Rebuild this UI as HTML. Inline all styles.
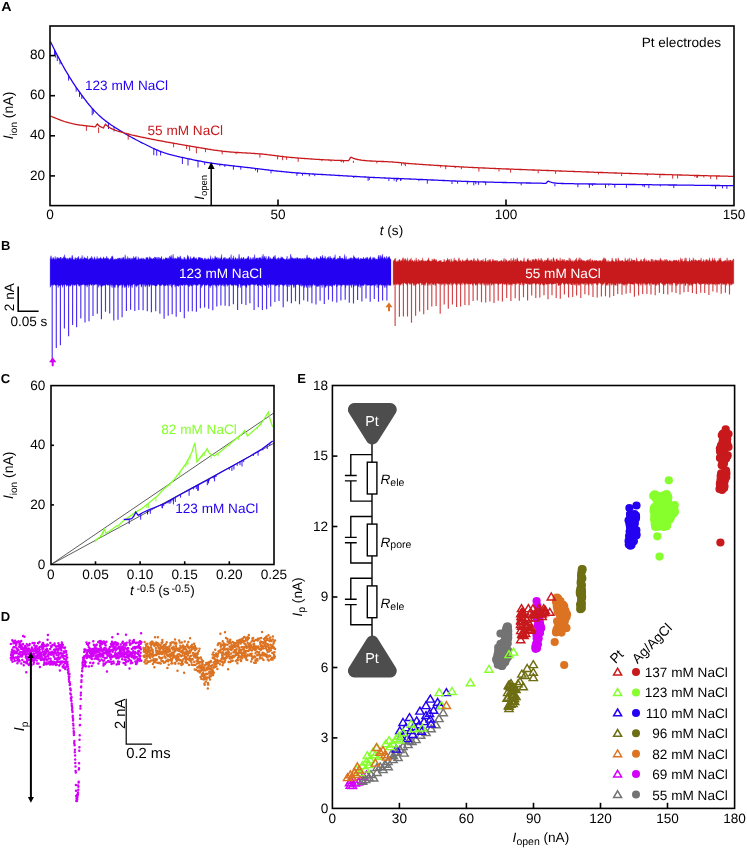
<!DOCTYPE html>
<html><head><meta charset="utf-8"><style>
html,body{margin:0;padding:0;background:#fff;}
svg{display:block;}
text{font-family:"Liberation Sans", sans-serif;text-rendering:geometricPrecision;}
</style></head><body>
<svg width="747" height="849" viewBox="0 0 747 849">
<g opacity="0.999">
<text x="1.3" y="10.6" font-size="13" text-anchor="start" fill="#000" font-weight="bold" textLength="10.3" lengthAdjust="spacingAndGlyphs">A</text>
<polyline points="50.5,41.7 51.5,43.8 52.5,45.8 53.5,47.8 54.5,49.8 55.5,51.8 56.5,53.7 57.5,55.6 58.5,57.5 59.5,59.4 60.5,61.3 61.5,63.1 62.5,65 63.5,66.8 64.5,68.6 65.5,70.3 66.5,72 67.5,73.7 68.5,75.4 69.5,77.1 70.5,78.7 71.5,80.2 72.5,81.8 73.5,83.3 74.5,84.8 75.5,86.3 76.5,87.8 77.5,89.2 78.5,90.6 79.5,92 80.5,93.4 81.5,94.8 82.5,96.2 83.5,97.5 84.5,98.9 85.5,100.2 86.5,101.5 87.5,102.8 88.5,104 89.5,105.3 90.5,106.4 91.5,107.6 92.5,108.7 93.5,109.8 94.5,110.9 95.5,111.9 96.5,112.9 97.5,113.9 98.5,114.9 99.5,115.8 100.5,116.7 101.5,117.6 102.5,118.5 103.5,119.3 104.5,120.1 105.5,120.9 106.5,121.6 107.5,122.4 108.5,123.1 109.5,123.8 110.5,124.5 111.5,125.2 112.5,125.8 113.5,126.5 114.5,127.1 115.5,127.8 116.5,128.4 117.5,129 118.5,129.6 119.5,130.2 120.5,130.9 121.5,131.5 122.5,132.1 123.5,132.7 124.5,133.3 125.5,133.8 126.5,134.4 127.5,135 128.5,135.6 129.5,136.2 130.5,136.7 131.5,137.3 132.5,137.8 133.5,138.4 134.5,138.9 135.5,139.5 136.5,140 137.5,140.5 138.5,141 139.5,141.5 140.5,142.1 141.5,142.6 142.5,143.1 143.5,143.5 144.5,144 145.5,144.5 146.5,145 147.5,145.5 148.5,146 149.5,146.5 150.5,147 151.5,147.5 152.5,148 153.5,148.4 154.5,148.9 155.5,149.4 156.5,149.8 157.5,150.2 158.5,150.6 159.5,151.1 160.5,151.4 161.5,151.8 162.5,152.2 163.5,152.5 164.5,152.9 165.5,153.2 166.5,153.5 167.5,153.8 168.5,154.1 169.5,154.4 170.5,154.6 171.5,154.9 172.5,155.2 173.5,155.4 174.5,155.7 175.5,155.9 176.5,156.1 177.5,156.4 178.5,156.6 179.5,156.8 180.5,157.1 181.5,157.3 182.5,157.5 183.5,157.7 184.5,157.9 185.5,158.2 186.5,158.4 187.5,158.6 188.5,158.8 189.5,159 190.5,159.2 191.5,159.4 192.5,159.7 193.5,159.9 194.5,160.1 195.5,160.3 196.5,160.5 197.5,160.7 198.5,160.9 199.5,161 200.5,161.2 201.5,161.4 202.5,161.6 203.5,161.8 204.5,162 205.5,162.1 206.5,162.3 207.5,162.5 208.5,162.6 209.5,162.8 210.5,163 211.5,163.1 212.5,163.3 213.5,163.4 214.5,163.6 215.5,163.7 216.5,163.8 217.5,164 218.5,164.1 219.5,164.2 220.5,164.4 221.5,164.5 222.5,164.6 223.5,164.8 224.5,164.9 225.5,165 226.5,165.1 227.5,165.2 228.5,165.4 229.5,165.5 230.5,165.6 231.5,165.7 232.5,165.8 233.5,165.9 234.5,166 235.5,166.2 236.5,166.3 237.5,166.4 238.5,166.5 239.5,166.6 240.5,166.7 241.5,166.8 242.5,166.9 243.5,167.1 244.5,167.2 245.5,167.3 246.5,167.4 247.5,167.5 248.5,167.6 249.5,167.7 250.5,167.9 251.5,168 252.5,168.1 253.5,168.2 254.5,168.3 255.5,168.5 256.5,168.6 257.5,168.7 258.5,168.8 259.5,168.9 260.5,169.1 261.5,169.2 262.5,169.3 263.5,169.4 264.5,169.6 265.5,169.7 266.5,169.8 267.5,169.9 268.5,170 269.5,170.2 270.5,170.3 271.5,170.4 272.5,170.5 273.5,170.6 274.5,170.8 275.5,170.9 276.5,171 277.5,171.1 278.5,171.2 279.5,171.3 280.5,171.4 281.5,171.5 282.5,171.6 283.5,171.7 284.5,171.8 285.5,171.9 286.5,172 287.5,172.1 288.5,172.2 289.5,172.3 290.5,172.4 291.5,172.5 292.5,172.6 293.5,172.7 294.5,172.7 295.5,172.8 296.5,172.9 297.5,173 298.5,173 299.5,173.1 300.5,173.2 301.5,173.3 302.5,173.3 303.5,173.4 304.5,173.5 305.5,173.5 306.5,173.6 307.5,173.6 308.5,173.7 309.5,173.8 310.5,173.8 311.5,173.9 312.5,174 313.5,174 314.5,174.1 315.5,174.1 316.5,174.2 317.5,174.3 318.5,174.3 319.5,174.4 320.5,174.4 321.5,174.5 322.5,174.5 323.5,174.6 324.5,174.7 325.5,174.7 326.5,174.8 327.5,174.8 328.5,174.9 329.5,174.9 330.5,175 331.5,175.1 332.5,175.1 333.5,175.2 334.5,175.2 335.5,175.3 336.5,175.3 337.5,175.4 338.5,175.5 339.5,175.5 340.5,175.6 341.5,175.6 342.5,175.7 343.5,175.8 344.5,175.8 345.5,175.9 346.5,175.9 347.5,176 348.5,176.1 349.5,176.1 350.5,176.2 351.5,176.2 352.5,176.3 353.5,176.4 354.5,176.4 355.5,176.5 356.5,176.5 357.5,176.6 358.5,176.6 359.5,176.7 360.5,176.8 361.5,176.8 362.5,176.9 363.5,176.9 364.5,177 365.5,177 366.5,177.1 367.5,177.1 368.5,177.2 369.5,177.3 370.5,177.3 371.5,177.4 372.5,177.4 373.5,177.5 374.5,177.5 375.5,177.6 376.5,177.6 377.5,177.7 378.5,177.7 379.5,177.7 380.5,177.8 381.5,177.8 382.5,177.9 383.5,177.9 384.5,178 385.5,178 386.5,178.1 387.5,178.1 388.5,178.1 389.5,178.2 390.5,178.2 391.5,178.3 392.5,178.3 393.5,178.3 394.5,178.4 395.5,178.4 396.5,178.5 397.5,178.5 398.5,178.5 399.5,178.6 400.5,178.6 401.5,178.7 402.5,178.7 403.5,178.7 404.5,178.8 405.5,178.8 406.5,178.9 407.5,178.9 408.5,178.9 409.5,179 410.5,179 411.5,179.1 412.5,179.1 413.5,179.1 414.5,179.2 415.5,179.2 416.5,179.3 417.5,179.3 418.5,179.4 419.5,179.4 420.5,179.5 421.5,179.5 422.5,179.5 423.5,179.6 424.5,179.6 425.5,179.7 426.5,179.7 427.5,179.8 428.5,179.8 429.5,179.9 430.5,179.9 431.5,180 432.5,180 433.5,180 434.5,180.1 435.5,180.1 436.5,180.2 437.5,180.2 438.5,180.3 439.5,180.3 440.5,180.4 441.5,180.4 442.5,180.5 443.5,180.5 444.5,180.5 445.5,180.6 446.5,180.6 447.5,180.7 448.5,180.7 449.5,180.8 450.5,180.8 451.5,180.8 452.5,180.9 453.5,180.9 454.5,181 455.5,181 456.5,181.1 457.5,181.1 458.5,181.1 459.5,181.2 460.5,181.2 461.5,181.3 462.5,181.3 463.5,181.3 464.5,181.4 465.5,181.4 466.5,181.4 467.5,181.5 468.5,181.5 469.5,181.6 470.5,181.6 471.5,181.6 472.5,181.7 473.5,181.7 474.5,181.7 475.5,181.7 476.5,181.8 477.5,181.8 478.5,181.8 479.5,181.9 480.5,181.9 481.5,181.9 482.5,181.9 483.5,182 484.5,182 485.5,182 486.5,182.1 487.5,182.1 488.5,182.1 489.5,182.1 490.5,182.2 491.5,182.2 492.5,182.2 493.5,182.2 494.5,182.3 495.5,182.3 496.5,182.3 497.5,182.3 498.5,182.4 499.5,182.4 500.5,182.4 501.5,182.4 502.5,182.5 503.5,182.5 504.5,182.5 505.5,182.5 506.5,182.5 507.5,182.6 508.5,182.6 509.5,182.6 510.5,182.6 511.5,182.7 512.5,182.7 513.5,182.7 514.5,182.7 515.5,182.7 516.5,182.8 517.5,182.8 518.5,182.8 519.5,182.8 520.5,182.8 521.5,182.9 522.5,182.9 523.5,182.9 524.5,182.9 525.5,182.9 526.5,183 527.5,183 528.5,183 529.5,183 530.5,183 531.5,183.1 532.5,183.1 533.5,183.1 534.5,183.1 535.5,183.1 536.5,183.2 537.5,183.2 538.5,183.2 539.5,183.2 540.5,183.2 541.5,183.2 542.5,183.3 543.5,183.3 544.5,183.3 545.5,183.3 546.5,182.9 547.5,181.5 548.5,181.1 549.5,181.6 550.5,182 551.5,182.3 552.5,182.6 553.5,182.8 554.5,182.9 555.5,183.1 556.5,183.2 557.5,183.3 558.5,183.3 559.5,183.4 560.5,183.4 561.5,183.5 562.5,183.5 563.5,183.5 564.5,183.6 565.5,183.6 566.5,183.6 567.5,183.6 568.5,183.7 569.5,183.7 570.5,183.7 571.5,183.7 572.5,183.7 573.5,183.7 574.5,183.8 575.5,183.8 576.5,183.8 577.5,183.8 578.5,183.8 579.5,183.8 580.5,183.8 581.5,183.9 582.5,183.9 583.5,183.9 584.5,183.9 585.5,183.9 586.5,183.9 587.5,183.9 588.5,184 589.5,184 590.5,184 591.5,184 592.5,184 593.5,184 594.5,184 595.5,184 596.5,184.1 597.5,184.1 598.5,184.1 599.5,184.1 600.5,184.1 601.5,184.1 602.5,184.1 603.5,184.1 604.5,184.2 605.5,184.2 606.5,184.2 607.5,184.2 608.5,184.2 609.5,184.2 610.5,184.2 611.5,184.2 612.5,184.3 613.5,184.3 614.5,184.3 615.5,184.3 616.5,184.3 617.5,184.3 618.5,184.3 619.5,184.3 620.5,184.4 621.5,184.4 622.5,184.4 623.5,184.4 624.5,184.4 625.5,184.4 626.5,184.4 627.5,184.4 628.5,184.5 629.5,184.5 630.5,184.5 631.5,184.5 632.5,184.5 633.5,184.5 634.5,184.5 635.5,184.5 636.5,184.6 637.5,184.6 638.5,184.6 639.5,184.6 640.5,184.6 641.5,184.6 642.5,184.6 643.5,184.6 644.5,184.7 645.5,184.7 646.5,184.7 647.5,184.7 648.5,184.7 649.5,184.7 650.5,184.7 651.5,184.7 652.5,184.8 653.5,184.8 654.5,184.8 655.5,184.8 656.5,184.8 657.5,184.8 658.5,184.8 659.5,184.8 660.5,184.9 661.5,184.9 662.5,184.9 663.5,184.9 664.5,184.9 665.5,184.9 666.5,184.9 667.5,184.9 668.5,185 669.5,185 670.5,185 671.5,185 672.5,185 673.5,185 674.5,185 675.5,185 676.5,185 677.5,185.1 678.5,185.1 679.5,185.1 680.5,185.1 681.5,185.1 682.5,185.1 683.5,185.1 684.5,185.1 685.5,185.2 686.5,185.2 687.5,185.2 688.5,185.2 689.5,185.2 690.5,185.2 691.5,185.2 692.5,185.2 693.5,185.2 694.5,185.3 695.5,185.3 696.5,185.3 697.5,185.3 698.5,185.3 699.5,185.3 700.5,185.3 701.5,185.3 702.5,185.4 703.5,185.4 704.5,185.4 705.5,185.4 706.5,185.4 707.5,185.4 708.5,185.4 709.5,185.4 710.5,185.4 711.5,185.5 712.5,185.5 713.5,185.5 714.5,185.5 715.5,185.5 716.5,185.5 717.5,185.5 718.5,185.5 719.5,185.5 720.5,185.6 721.5,185.6 722.5,185.6 723.5,185.6 724.5,185.6 725.5,185.6 726.5,185.6 727.5,185.6 728.5,185.6 729.5,185.7 730.5,185.7 731.5,185.7 732.5,185.7 733.5,185.7" fill="none" stroke="#2400f0" stroke-width="1.3"/>
<path d="M54.5,49.9v5.6M55.6,51.9v5.7M57.3,55.3v5.9M60,60.3v4M68.6,75.6v5M76.2,87.3v4.3M79.5,92v4.9M81.8,95.2v3.8M92.2,108.4v6.9M93.3,109.6v4.3M108.5,123.1v5.9M114,126.8v4.6M153.8,148.6v6.6M156.7,149.9v5.8M160.6,151.5v4M182.4,157.5v6.5M188,158.7v6.8M198,160.8v6.7M204.7,162v2.9M219.8,164.3v1.9M224.8,164.9v2M233.4,165.9v3.8M240.8,166.8v2.9M255.5,168.5v2M257.5,168.7v3.7M271,170.3v3.1M296.9,172.9v2.9M302.5,173.3v2.4M309.3,173.8v2.5M314.8,174.1v2.1M353.8,176.4v1.6M368.1,177.2v3.7M369.3,177.2v2.7M388.9,178.2v2.9M394.1,178.4v2.3M396.3,178.5v3.4M397.6,178.5v1.6M400.6,178.6v2.4M401.1,178.6v1.6M418.9,179.4v1.8M427.3,179.8v3.9M452,180.9v3.1M457.6,181.1v2.6M467.3,181.5v2.8M473.8,181.7v3.7M475.8,181.8v2.4M478.6,181.8v3M485.7,182v3.2M521.2,182.9v2.4M554.9,183.5v2.8M577.9,183.8v3.4M589.4,184v3.8M592.4,184v1.9M605.5,184.2v3.8M608.8,184.2v1.5M614.8,184.3v3.4M626.4,184.4v3.5M642.8,184.6v1.8M644.3,184.7v2.5M648.9,184.7v3.5M660.3,184.9v1.5M673.8,185v3.1M715.6,185.5v3.5M722.5,185.6v2.8M726.9,185.6v3.3" stroke="#2400f0" stroke-width="0.9" fill="none"/>
<polyline points="50.5,116 51.5,116.5 52.5,116.9 53.5,117.3 54.5,117.7 55.5,118.1 56.5,118.5 57.5,118.9 58.5,119.3 59.5,119.7 60.5,120.1 61.5,120.4 62.5,120.8 63.5,121.1 64.5,121.5 65.5,121.8 66.5,122.1 67.5,122.4 68.5,122.7 69.5,122.9 70.5,123.2 71.5,123.4 72.5,123.7 73.5,123.9 74.5,124.1 75.5,124.3 76.5,124.5 77.5,124.6 78.5,124.8 79.5,125 80.5,125.1 81.5,125.2 82.5,125.4 83.5,125.5 84.5,125.6 85.5,125.7 86.5,125.9 87.5,126 88.5,126.1 89.5,126.2 90.5,126.3 91.5,126.4 92.5,126.5 93.5,126.7 94.5,126.8 95.5,126.7 96.5,124.9 97.5,124 98.5,125.2 99.5,126.1 100.5,126.7 101.5,127.2 102.5,127.6 103.5,127.9 104.5,125.8 105.5,124.3 106.5,125.3 107.5,126.1 108.5,126.9 109.5,127.5 110.5,128.1 111.5,128.6 112.5,129.1 113.5,129.5 114.5,129.9 115.5,130.3 116.5,130.6 117.5,131 118.5,131.3 119.5,131.6 120.5,131.9 121.5,132.2 122.5,132.4 123.5,132.7 124.5,133 125.5,133.3 126.5,133.5 127.5,133.8 128.5,134 129.5,134.3 130.5,134.6 131.5,134.8 132.5,135.1 133.5,135.3 134.5,135.5 135.5,135.8 136.5,136 137.5,136.2 138.5,136.5 139.5,136.7 140.5,136.9 141.5,137.1 142.5,137.3 143.5,137.5 144.5,137.7 145.5,137.9 146.5,138.1 147.5,138.3 148.5,138.5 149.5,138.7 150.5,138.9 151.5,139.1 152.5,139.3 153.5,139.5 154.5,139.7 155.5,139.9 156.5,140.1 157.5,140.3 158.5,140.5 159.5,140.7 160.5,140.9 161.5,141 162.5,141.2 163.5,141.4 164.5,141.6 165.5,141.8 166.5,142 167.5,142.1 168.5,142.3 169.5,142.5 170.5,142.7 171.5,142.9 172.5,143 173.5,143.2 174.5,143.4 175.5,143.6 176.5,143.7 177.5,143.9 178.5,144.1 179.5,144.3 180.5,144.4 181.5,144.6 182.5,144.8 183.5,144.9 184.5,145.1 185.5,145.3 186.5,145.4 187.5,145.6 188.5,145.8 189.5,145.9 190.5,146.1 191.5,146.3 192.5,146.5 193.5,146.6 194.5,146.8 195.5,147 196.5,147.2 197.5,147.3 198.5,147.5 199.5,147.7 200.5,147.8 201.5,148 202.5,148.2 203.5,148.4 204.5,148.5 205.5,148.7 206.5,148.9 207.5,149 208.5,149.2 209.5,149.3 210.5,149.5 211.5,149.7 212.5,149.8 213.5,150 214.5,150.1 215.5,150.3 216.5,150.4 217.5,150.5 218.5,150.7 219.5,150.8 220.5,150.9 221.5,151 222.5,151.2 223.5,151.3 224.5,151.4 225.5,151.5 226.5,151.6 227.5,151.7 228.5,151.8 229.5,151.9 230.5,152 231.5,152.1 232.5,152.1 233.5,152.2 234.5,152.3 235.5,152.3 236.5,152.4 237.5,152.5 238.5,152.5 239.5,152.6 240.5,152.7 241.5,152.7 242.5,152.8 243.5,152.8 244.5,152.9 245.5,152.9 246.5,153 247.5,153.1 248.5,153.1 249.5,153.2 250.5,153.2 251.5,153.3 252.5,153.4 253.5,153.4 254.5,153.5 255.5,153.6 256.5,153.6 257.5,153.7 258.5,153.8 259.5,153.9 260.5,153.9 261.5,154 262.5,154.1 263.5,154.2 264.5,154.3 265.5,154.4 266.5,154.5 267.5,154.7 268.5,154.8 269.5,154.9 270.5,155 271.5,155.1 272.5,155.3 273.5,155.4 274.5,155.5 275.5,155.6 276.5,155.8 277.5,155.9 278.5,156 279.5,156.2 280.5,156.3 281.5,156.4 282.5,156.5 283.5,156.6 284.5,156.8 285.5,156.9 286.5,157 287.5,157.1 288.5,157.2 289.5,157.3 290.5,157.4 291.5,157.5 292.5,157.6 293.5,157.7 294.5,157.7 295.5,157.8 296.5,157.9 297.5,158 298.5,158.1 299.5,158.1 300.5,158.2 301.5,158.3 302.5,158.4 303.5,158.4 304.5,158.5 305.5,158.6 306.5,158.7 307.5,158.7 308.5,158.8 309.5,158.9 310.5,158.9 311.5,159 312.5,159.1 313.5,159.1 314.5,159.2 315.5,159.3 316.5,159.3 317.5,159.4 318.5,159.4 319.5,159.5 320.5,159.6 321.5,159.6 322.5,159.7 323.5,159.7 324.5,159.8 325.5,159.8 326.5,159.9 327.5,159.9 328.5,160 329.5,160 330.5,160.1 331.5,160.1 332.5,160.2 333.5,160.2 334.5,160.3 335.5,160.3 336.5,160.3 337.5,160.4 338.5,160.4 339.5,160.4 340.5,160.5 341.5,160.5 342.5,160.5 343.5,160.6 344.5,160.6 345.5,160.6 346.5,160.7 347.5,160.7 348.5,160.7 349.5,159.5 350.5,157.4 351.5,157.4 352.5,157.9 353.5,158.3 354.5,158.6 355.5,159 356.5,159.2 357.5,159.5 358.5,159.7 359.5,159.9 360.5,160 361.5,160.2 362.5,160.3 363.5,160.4 364.5,160.5 365.5,160.6 366.5,160.7 367.5,160.8 368.5,160.8 369.5,160.9 370.5,161 371.5,161 372.5,161.1 373.5,161.1 374.5,161.2 375.5,161.2 376.5,161.3 377.5,161.3 378.5,161.3 379.5,161.4 380.5,161.4 381.5,161.5 382.5,161.5 383.5,161.5 384.5,161.6 385.5,161.6 386.5,161.7 387.5,161.7 388.5,161.8 389.5,161.8 390.5,161.9 391.5,161.9 392.5,162 393.5,162.1 394.5,162.2 395.5,162.3 396.5,162.3 397.5,162.4 398.5,162.5 399.5,162.6 400.5,162.7 401.5,162.8 402.5,162.9 403.5,163 404.5,163.1 405.5,163.2 406.5,163.3 407.5,163.4 408.5,163.5 409.5,163.6 410.5,163.6 411.5,163.7 412.5,163.8 413.5,163.9 414.5,163.9 415.5,164 416.5,164.1 417.5,164.1 418.5,164.2 419.5,164.3 420.5,164.3 421.5,164.4 422.5,164.5 423.5,164.6 424.5,164.6 425.5,164.7 426.5,164.8 427.5,164.8 428.5,164.9 429.5,165 430.5,165 431.5,165.1 432.5,165.2 433.5,165.2 434.5,165.3 435.5,165.3 436.5,165.4 437.5,165.5 438.5,165.5 439.5,165.6 440.5,165.7 441.5,165.7 442.5,165.8 443.5,165.9 444.5,165.9 445.5,166 446.5,166 447.5,166.1 448.5,166.2 449.5,166.2 450.5,166.3 451.5,166.3 452.5,166.4 453.5,166.4 454.5,166.5 455.5,166.6 456.5,166.6 457.5,166.7 458.5,166.7 459.5,166.8 460.5,166.8 461.5,166.9 462.5,166.9 463.5,167 464.5,167.1 465.5,167.1 466.5,167.2 467.5,167.2 468.5,167.3 469.5,167.3 470.5,167.4 471.5,167.4 472.5,167.5 473.5,167.5 474.5,167.6 475.5,167.6 476.5,167.7 477.5,167.7 478.5,167.8 479.5,167.8 480.5,167.9 481.5,167.9 482.5,167.9 483.5,168 484.5,168 485.5,168.1 486.5,168.1 487.5,168.2 488.5,168.2 489.5,168.3 490.5,168.3 491.5,168.3 492.5,168.4 493.5,168.4 494.5,168.5 495.5,168.5 496.5,168.6 497.5,168.6 498.5,168.6 499.5,168.7 500.5,168.7 501.5,168.8 502.5,168.8 503.5,168.8 504.5,168.9 505.5,168.9 506.5,169 507.5,169 508.5,169 509.5,169.1 510.5,169.1 511.5,169.2 512.5,169.2 513.5,169.2 514.5,169.3 515.5,169.3 516.5,169.4 517.5,169.4 518.5,169.4 519.5,169.5 520.5,169.5 521.5,169.5 522.5,169.6 523.5,169.6 524.5,169.7 525.5,169.7 526.5,169.7 527.5,169.8 528.5,169.8 529.5,169.8 530.5,169.9 531.5,169.9 532.5,170 533.5,170 534.5,170 535.5,170.1 536.5,170.1 537.5,170.1 538.5,170.2 539.5,170.2 540.5,170.2 541.5,170.3 542.5,170.3 543.5,170.4 544.5,170.4 545.5,170.4 546.5,170.5 547.5,170.5 548.5,170.5 549.5,170.6 550.5,170.6 551.5,170.7 552.5,170.7 553.5,170.7 554.5,170.8 555.5,170.8 556.5,170.8 557.5,170.9 558.5,170.9 559.5,171 560.5,171 561.5,171 562.5,171.1 563.5,171.1 564.5,171.1 565.5,171.2 566.5,171.2 567.5,171.3 568.5,171.3 569.5,171.3 570.5,171.4 571.5,171.4 572.5,171.4 573.5,171.5 574.5,171.5 575.5,171.6 576.5,171.6 577.5,171.6 578.5,171.7 579.5,171.7 580.5,171.7 581.5,171.8 582.5,171.8 583.5,171.9 584.5,171.9 585.5,171.9 586.5,172 587.5,172 588.5,172 589.5,172.1 590.5,172.1 591.5,172.1 592.5,172.2 593.5,172.2 594.5,172.3 595.5,172.3 596.5,172.3 597.5,172.4 598.5,172.4 599.5,172.4 600.5,172.5 601.5,172.5 602.5,172.5 603.5,172.6 604.5,172.6 605.5,172.6 606.5,172.7 607.5,172.7 608.5,172.8 609.5,172.8 610.5,172.8 611.5,172.9 612.5,172.9 613.5,172.9 614.5,173 615.5,173 616.5,173 617.5,173.1 618.5,173.1 619.5,173.1 620.5,173.2 621.5,173.2 622.5,173.2 623.5,173.3 624.5,173.3 625.5,173.3 626.5,173.4 627.5,173.4 628.5,173.4 629.5,173.5 630.5,173.5 631.5,173.5 632.5,173.6 633.5,173.6 634.5,173.6 635.5,173.7 636.5,173.7 637.5,173.7 638.5,173.8 639.5,173.8 640.5,173.8 641.5,173.8 642.5,173.9 643.5,173.9 644.5,173.9 645.5,174 646.5,174 647.5,174 648.5,174.1 649.5,174.1 650.5,174.1 651.5,174.2 652.5,174.2 653.5,174.2 654.5,174.2 655.5,174.3 656.5,174.3 657.5,174.3 658.5,174.4 659.5,174.4 660.5,174.4 661.5,174.5 662.5,174.5 663.5,174.5 664.5,174.5 665.5,174.6 666.5,174.6 667.5,174.6 668.5,174.7 669.5,174.7 670.5,174.7 671.5,174.7 672.5,174.8 673.5,174.8 674.5,174.8 675.5,174.9 676.5,174.9 677.5,174.9 678.5,174.9 679.5,175 680.5,175 681.5,175 682.5,175.1 683.5,175.1 684.5,175.1 685.5,175.1 686.5,175.2 687.5,175.2 688.5,175.2 689.5,175.3 690.5,175.3 691.5,175.3 692.5,175.3 693.5,175.4 694.5,175.4 695.5,175.4 696.5,175.4 697.5,175.5 698.5,175.5 699.5,175.5 700.5,175.6 701.5,175.6 702.5,175.6 703.5,175.6 704.5,175.7 705.5,175.7 706.5,175.7 707.5,175.7 708.5,175.8 709.5,175.8 710.5,175.8 711.5,175.8 712.5,175.9 713.5,175.9 714.5,175.9 715.5,175.9 716.5,176 717.5,176 718.5,176 719.5,176 720.5,176.1 721.5,176.1 722.5,176.1 723.5,176.1 724.5,176.2 725.5,176.2 726.5,176.2 727.5,176.2 728.5,176.3 729.5,176.3 730.5,176.3 731.5,176.3 732.5,176.4 733.5,176.4" fill="none" stroke="#c8191c" stroke-width="1.3"/>
<path d="M86.4,125.8v5.1M98.6,127.4v5.7M128.2,134v5.7M173.6,143.2v4.1M186.6,145.4v3.7M189.6,146v4.9M196.4,147.1v6.2M205.5,148.7v3.5M222.2,151.1v3.3M236.1,152.4v1.8M259.9,153.9v3.8M277.6,155.9v3.5M282.6,156.5v3.7M286.6,157v2.8M298.2,158v3.8M322,159.6v1.6M331.1,160.1v1.6M341.3,160.5v1.6M343.5,160.6v2.1M353.4,160.8v2.1M376.9,161.4v2M401.5,162.8v2.9M404.2,163.1v1.6M405.4,163.2v3M440.7,165.7v1.9M445.7,166v3.2M455.2,166.5v1.6M461.4,166.9v2.3M478.9,167.8v3.8M499,168.7v2.8M510.6,169.1v3.5M538.2,170.2v3.1M555.6,170.8v3M598.5,172.4v2M621.6,173.2v2.9M647.4,174v1.6M659.9,174.4v3.5M672.7,174.8v3.9M677.6,174.9v3.6M694.8,175.4v1.6M696.7,175.5v2.3M697.5,175.5v2.3M703.8,175.6v1.8M710.7,175.8v3.1M716.7,176v3.5" stroke="#c8191c" stroke-width="0.9" fill="none"/>
<rect x="50" y="26" width="684" height="179.6" fill="none" stroke="#000" stroke-width="1.6"/>
<line x1="50" y1="175.9" x2="55" y2="175.9" stroke="#000" stroke-width="1.6" />
<text x="45" y="179.5" font-size="13.6" text-anchor="end" fill="#000" >20</text>
<line x1="50" y1="135.8" x2="55" y2="135.8" stroke="#000" stroke-width="1.6" />
<text x="45" y="139.4" font-size="13.6" text-anchor="end" fill="#000" >40</text>
<line x1="50" y1="95.7" x2="55" y2="95.7" stroke="#000" stroke-width="1.6" />
<text x="45" y="99.3" font-size="13.6" text-anchor="end" fill="#000" >60</text>
<line x1="50" y1="55.6" x2="55" y2="55.6" stroke="#000" stroke-width="1.6" />
<text x="45" y="59.2" font-size="13.6" text-anchor="end" fill="#000" >80</text>
<text x="50" y="219.3" font-size="13.6" text-anchor="middle" fill="#000" >0</text>
<line x1="278" y1="205.6" x2="278" y2="199.6" stroke="#000" stroke-width="1.6" />
<text x="278" y="219.3" font-size="13.6" text-anchor="middle" fill="#000" >50</text>
<line x1="506" y1="205.6" x2="506" y2="199.6" stroke="#000" stroke-width="1.6" />
<text x="506" y="219.3" font-size="13.6" text-anchor="middle" fill="#000" >100</text>
<text x="734" y="219.3" font-size="13.6" text-anchor="middle" fill="#000" >150</text>
<text x="391.5" y="234.8" font-size="13.6" text-anchor="middle" fill="#000" ><tspan font-style="italic">t</tspan> (s)</text>
<text transform="translate(13.3,115.5) rotate(-90)" font-size="14" text-anchor="middle"><tspan font-style="italic">I</tspan><tspan font-size="10" dy="3.6">ion</tspan><tspan dy="-3.6"> (nA)</tspan></text>
<text x="85" y="90.1" font-size="13.6" text-anchor="start" fill="#2400f0" >123 mM NaCl</text>
<text x="147.5" y="135" font-size="13.6" text-anchor="start" fill="#c8191c" >55 mM NaCl</text>
<text x="721" y="47.2" font-size="13.6" text-anchor="end" fill="#000" >Pt electrodes</text>
<line x1="211.2" y1="205" x2="211.2" y2="168" stroke="#000" stroke-width="1.5" />
<path d="M211.2,162 L207.8,169 L214.6,169 Z" fill="#000"/>
<text transform="translate(204.3,199.8) rotate(-90)" font-size="13.6"><tspan font-style="italic">I</tspan><tspan font-size="9.5" dy="3">open</tspan></text>
<text x="1" y="250.1" font-size="13" text-anchor="start" fill="#000" font-weight="bold">B</text>
<polygon points="50.1,260 50.1,259.2 50.6,257.1 51.1,255.6 51.6,258.5 52.1,259.8 52.6,258.5 53.1,257.3 53.6,257.9 54.1,259.2 54.6,259.5 55.1,256.3 55.6,258.9 56.1,259.5 56.6,258.4 57.1,257 57.6,258.8 58.1,257.5 58.6,258.6 59.1,258 59.6,259 60.1,257.2 60.6,257.4 61.1,257 61.6,259.8 62.1,258.1 62.6,258.2 63.1,258.8 63.6,256.6 64.1,258.2 64.6,254.6 65.1,258.5 65.6,257.6 66.1,258 66.6,259.1 67.1,259.6 67.6,258.2 68.1,258 68.6,259.9 69.1,258.2 69.6,257.9 70.1,257.5 70.6,258.2 71.1,259.6 71.6,258 72.1,255.1 72.6,256.4 73.1,258.9 73.6,259.5 74.1,259.5 74.6,259.8 75.1,257.3 75.6,258.3 76.1,259.9 76.6,257.9 77.1,258.7 77.6,257.4 78.1,257.9 78.6,256.1 79.1,259.4 79.6,259.3 80.1,258.5 80.6,259.1 81.1,257.6 81.6,259.7 82.1,255.2 82.6,259.5 83.1,258.8 83.6,259.4 84.1,256.7 84.6,257.9 85.1,258 85.6,258.3 86.1,258.4 86.6,258.2 87.1,259.6 87.6,255.9 88.1,259.6 88.6,259.8 89.1,258.6 89.6,259.3 90.1,258.3 90.6,257.7 91.1,259 91.6,256.1 92.1,259.5 92.6,257.5 93.1,260 93.6,258.9 94.1,258.3 94.6,256.6 95.1,258.7 95.6,259.9 96.1,258.5 96.6,259.8 97.1,256.3 97.6,259.5 98.1,258.2 98.6,258.7 99.1,258.9 99.6,258 100.1,258.5 100.6,256.8 101.1,259.1 101.6,258.2 102.1,259.2 102.6,259.1 103.1,258.1 103.6,256.7 104.1,257.9 104.6,258.7 105.1,258.4 105.6,258.1 106.1,259.3 106.6,255.9 107.1,259.1 107.6,257.7 108.1,257.8 108.6,258.8 109.1,259.8 109.6,259.2 110.1,259.5 110.6,258 111.1,258.9 111.6,256.4 112.1,257 112.6,255.7 113.1,258 113.6,259.9 114.1,259.4 114.6,259.1 115.1,259.4 115.6,258.7 116.1,259.5 116.6,258.8 117.1,259.8 117.6,258.1 118.1,259.1 118.6,258.2 119.1,257.8 119.6,258.5 120.1,257.8 120.6,258.9 121.1,259.7 121.6,258.2 122.1,257.5 122.6,259.3 123.1,257.7 123.6,256.9 124.1,259.6 124.6,259 125.1,254.7 125.6,257.9 126.1,259.9 126.6,258.6 127.1,259.5 127.6,256.4 128.1,259.9 128.6,257.8 129.1,258.5 129.6,258.4 130.1,257.7 130.6,259.2 131.1,260 131.6,258.3 132.1,258 132.6,258.9 133.1,259.3 133.6,256.2 134.1,258.4 134.6,257.8 135.1,257.7 135.6,257.3 136.1,256.3 136.6,259.7 137.1,259.7 137.6,259.9 138.1,256.7 138.6,258.2 139.1,259.2 139.6,258.9 140.1,259.3 140.6,258.5 141.1,259.1 141.6,258.2 142.1,257.7 142.6,259.5 143.1,259.3 143.6,257.9 144.1,258.9 144.6,258.9 145.1,259.8 145.6,259.5 146.1,257.1 146.6,258.2 147.1,257.9 147.6,257.1 148.1,257.9 148.6,260 149.1,259.1 149.6,256.4 150.1,258.9 150.6,257.3 151.1,258.8 151.6,258.6 152.1,258.6 152.6,259.2 153.1,258.2 153.6,258.1 154.1,259.5 154.6,256.9 155.1,257.1 155.6,258.2 156.1,256.9 156.6,258.4 157.1,259.7 157.6,257.2 158.1,259.6 158.6,256.9 159.1,259.5 159.6,257.4 160.1,258.8 160.6,258.2 161.1,257.8 161.6,256.3 162.1,259.3 162.6,260 163.1,259.6 163.6,258.4 164.1,259.2 164.6,259.5 165.1,258.5 165.6,257.6 166.1,257.8 166.6,258.2 167.1,257.9 167.6,259.3 168.1,257.5 168.6,258.6 169.1,259.6 169.6,256 170.1,257.1 170.6,257.8 171.1,255.1 171.6,257 172.1,258.9 172.6,258.2 173.1,254 173.6,259 174.1,257.9 174.6,259.4 175.1,257.7 175.6,259.1 176.1,258.3 176.6,258.9 177.1,259.1 177.6,256.4 178.1,258.6 178.6,257.2 179.1,257 179.6,258.8 180.1,255.7 180.6,256.5 181.1,259.9 181.6,258.5 182.1,258.5 182.6,259.6 183.1,259.8 183.6,259.3 184.1,256.8 184.6,257.6 185.1,259.9 185.6,258.6 186.1,259.2 186.6,259.9 187.1,257.8 187.6,254.9 188.1,257.5 188.6,256.3 189.1,259.7 189.6,259.4 190.1,258.2 190.6,256.4 191.1,259.8 191.6,258.4 192.1,258.2 192.6,258.6 193.1,258 193.6,256.9 194.1,256.6 194.6,258.1 195.1,258.9 195.6,258 196.1,259.4 196.6,257.5 197.1,260 197.6,259.5 198.1,258.8 198.6,257.1 199.1,257.7 199.6,257.4 200.1,257.1 200.6,258.8 201.1,257.7 201.6,258.4 202.1,258 202.6,258.2 203.1,259.5 203.6,260 204.1,259.5 204.6,257.7 205.1,259.9 205.6,257.9 206.1,260 206.6,259.1 207.1,259.3 207.6,259.6 208.1,257.7 208.6,258.9 209.1,259.3 209.6,259.3 210.1,259.2 210.6,255.5 211.1,258.7 211.6,259.4 212.1,259.8 212.6,257.7 213.1,257.9 213.6,259.6 214.1,259.5 214.6,257.9 215.1,255.8 215.6,257.8 216.1,258.1 216.6,257.9 217.1,257 217.6,259 218.1,259.5 218.6,257.9 219.1,257.5 219.6,259.3 220.1,259.1 220.6,257.9 221.1,257.4 221.6,254.3 222.1,259.7 222.6,259.8 223.1,258.5 223.6,258.1 224.1,257.6 224.6,258.5 225.1,257.1 225.6,259.7 226.1,258.2 226.6,259.4 227.1,258.3 227.6,259 228.1,259.6 228.6,258.3 229.1,257.9 229.6,257 230.1,259.2 230.6,259 231.1,254.4 231.6,259.8 232.1,259.9 232.6,258 233.1,258.6 233.6,255.7 234.1,259.3 234.6,259.7 235.1,258.3 235.6,257.4 236.1,258.2 236.6,259.6 237.1,259.3 237.6,258.2 238.1,259.9 238.6,257.6 239.1,254 239.6,258.1 240.1,259.9 240.6,258.5 241.1,258.6 241.6,257.2 242.1,259.1 242.6,258.7 243.1,258.2 243.6,257 244.1,257.9 244.6,259.9 245.1,259.1 245.6,258.6 246.1,259.2 246.6,258.5 247.1,258.3 247.6,258 248.1,256 248.6,256.4 249.1,258.5 249.6,259.8 250.1,259.8 250.6,257.4 251.1,257.9 251.6,259.7 252.1,259.4 252.6,258.5 253.1,257.1 253.6,258.8 254.1,259.8 254.6,254.4 255.1,257.8 255.6,259.6 256.1,258 256.6,257.9 257.1,258.6 257.6,257.7 258.1,259.9 258.6,257.8 259.1,258.3 259.6,257.5 260.1,257.7 260.6,257.6 261.1,258.7 261.6,259.3 262.1,255.7 262.6,259.7 263.1,254 263.6,258.6 264.1,258.1 264.6,255.9 265.1,258.2 265.6,258.4 266.1,256.2 266.6,259.9 267.1,259.6 267.6,258.7 268.1,257.8 268.6,256.2 269.1,256.4 269.6,259.6 270.1,258.7 270.6,257.6 271.1,259.1 271.6,258.9 272.1,259.1 272.6,259.1 273.1,257.1 273.6,257.3 274.1,255.8 274.6,258.9 275.1,255.1 275.6,258.4 276.1,258.5 276.6,259.2 277.1,259.4 277.6,258.2 278.1,258.1 278.6,257.2 279.1,259.8 279.6,258.6 280.1,258.1 280.6,258.9 281.1,256.6 281.6,258.5 282.1,257.2 282.6,257.3 283.1,258.7 283.6,258.5 284.1,259.1 284.6,259.2 285.1,258.9 285.6,260 286.1,259.2 286.6,258.4 287.1,256.1 287.6,259.7 288.1,259.3 288.6,259.2 289.1,258.3 289.6,259.1 290.1,259.7 290.6,254 291.1,255.9 291.6,258 292.1,258.5 292.6,257.6 293.1,258.2 293.6,258.5 294.1,259.2 294.6,258.3 295.1,257.8 295.6,258.4 296.1,259.5 296.6,258.1 297.1,257.3 297.6,258 298.1,258 298.6,259.6 299.1,258.3 299.6,258.3 300.1,259.3 300.6,257.9 301.1,259.6 301.6,259.1 302.1,258 302.6,258.4 303.1,259.5 303.6,258.4 304.1,259.8 304.6,257.9 305.1,258.1 305.6,259.2 306.1,258.9 306.6,256.9 307.1,254.8 307.6,258 308.1,258.3 308.6,257.8 309.1,257.8 309.6,257.6 310.1,259.6 310.6,258.2 311.1,258.9 311.6,258.4 312.1,260 312.6,259.4 313.1,258.8 313.6,258.9 314.1,257.6 314.6,259.8 315.1,259.2 315.6,259.4 316.1,258.2 316.6,256.7 317.1,258.8 317.6,257.8 318.1,258.9 318.6,258.4 319.1,259 319.6,259.3 320.1,257.6 320.6,256.1 321.1,257.8 321.6,258.4 322.1,257 322.6,255 323.1,258.5 323.6,258.2 324.1,257.9 324.6,258.5 325.1,255.9 325.6,258.9 326.1,258 326.6,259.7 327.1,258.8 327.6,257.4 328.1,258.1 328.6,256.5 329.1,259.5 329.6,257.8 330.1,256 330.6,257.9 331.1,257.9 331.6,258 332.1,259.4 332.6,259.2 333.1,257.4 333.6,259.1 334.1,257.7 334.6,257.7 335.1,254.5 335.6,260 336.1,258.9 336.6,259.2 337.1,259.4 337.6,257.9 338.1,258.3 338.6,258.2 339.1,258.7 339.6,256 340.1,256 340.6,258.4 341.1,257.9 341.6,258.8 342.1,258.3 342.6,258 343.1,258.4 343.6,259.6 344.1,258.9 344.6,254.3 345.1,258.2 345.6,259.7 346.1,256.3 346.6,259.4 347.1,259.6 347.6,259.2 348.1,258.7 348.6,259.4 349.1,258.2 349.6,259.8 350.1,257.6 350.6,258.8 351.1,257.6 351.6,258.1 352.1,259.9 352.6,258 353.1,259.3 353.6,255.4 354.1,257.3 354.6,256.7 355.1,258.1 355.6,258.2 356.1,258.8 356.6,259.1 357.1,257.7 357.6,259.3 358.1,258.6 358.6,257.2 359.1,259.5 359.6,259.6 360.1,259.5 360.6,257.9 361.1,258.6 361.6,258.8 362.1,258.9 362.6,258.8 363.1,258.4 363.6,257.1 364.1,259.1 364.6,258.9 365.1,258.8 365.6,257.7 366.1,259 366.6,257.3 367.1,258.8 367.6,256.9 368.1,259 368.6,259.8 369.1,258.4 369.6,257.7 370.1,257.8 370.6,256.5 371.1,258.7 371.6,260 372.1,259.8 372.6,258.1 373.1,257.2 373.6,257.8 374.1,259.2 374.6,257.6 375.1,257.9 375.6,259.4 376.1,259.3 376.6,259 377.1,259.2 377.6,259.5 378.1,257.3 378.6,255.6 379.1,255.1 379.6,258.7 380.1,258.8 380.6,255.3 381.1,256 381.6,258.7 382.1,256.5 382.6,254 383.1,259.7 383.6,258.1 384.1,257.7 384.6,256.7 385.1,257.8 385.6,258.3 386.1,260 386.6,256 387.1,257.9 387.6,259.2 388.1,257 388.6,258.1 389.1,256.2 389.6,257.6 390.1,258.5 391,259.7 391,260 391,283.8 391,285 390.1,285.8 389.6,285.6 389.1,284.8 388.6,285.6 388.1,284.1 387.6,285.4 387.1,285.2 386.6,283.8 386.1,287.8 385.6,284.9 385.1,285.5 384.6,287.7 384.1,284.8 383.6,285.2 383.1,285.2 382.6,284.6 382.1,284.3 381.6,285.3 381.1,285.6 380.6,283.8 380.1,285.3 379.6,285.1 379.1,284.8 378.6,287.8 378.1,285.1 377.6,283.8 377.1,287.8 376.6,284.3 376.1,284.2 375.6,284.8 375.1,285.9 374.6,284.8 374.1,285.6 373.6,284.7 373.1,285.3 372.6,285.3 372.1,284.8 371.6,285.8 371.1,285.4 370.6,285.6 370.1,285.5 369.6,284.9 369.1,285.1 368.6,285.3 368.1,285.2 367.6,285.3 367.1,285.5 366.6,285.2 366.1,284.5 365.6,284.3 365.1,284.2 364.6,283.9 364.1,285.3 363.6,285.6 363.1,285.7 362.6,285.1 362.1,285.5 361.6,285.3 361.1,285.4 360.6,285.7 360.1,287.8 359.6,284.5 359.1,284 358.6,286.9 358.1,285.7 357.6,285.3 357.1,285.5 356.6,284.2 356.1,286 355.6,285.8 355.1,284.4 354.6,284.8 354.1,286.5 353.6,286.7 353.1,284.4 352.6,284.3 352.1,285.3 351.6,287.8 351.1,284.2 350.6,285 350.1,285.6 349.6,284.8 349.1,284.4 348.6,284.6 348.1,285.9 347.6,284.7 347.1,285.3 346.6,285.5 346.1,284.2 345.6,287.8 345.1,284.7 344.6,285.1 344.1,284.8 343.6,285.1 343.1,284.4 342.6,285 342.1,285.2 341.6,286.4 341.1,285.3 340.6,284.7 340.1,285.2 339.6,284.6 339.1,285.5 338.6,284.2 338.1,285.6 337.6,284.6 337.1,286.8 336.6,287.1 336.1,283.9 335.6,284.1 335.1,284.7 334.6,285.4 334.1,285.4 333.6,284.3 333.1,285.6 332.6,285.5 332.1,285.4 331.6,286.8 331.1,285.1 330.6,285.7 330.1,285.9 329.6,286.3 329.1,284.4 328.6,284.8 328.1,284.7 327.6,286.3 327.1,284.2 326.6,285.7 326.1,286.3 325.6,287.8 325.1,285.9 324.6,284.2 324.1,286.6 323.6,284.6 323.1,285 322.6,284.5 322.1,287.8 321.6,285.1 321.1,285.3 320.6,285.3 320.1,284.1 319.6,285.6 319.1,286.5 318.6,285.4 318.1,286.6 317.6,285.6 317.1,287 316.6,284.7 316.1,286.5 315.6,284.7 315.1,284.7 314.6,285.2 314.1,285.6 313.6,284.1 313.1,284.2 312.6,285.7 312.1,285.7 311.6,285.3 311.1,287.8 310.6,285.8 310.1,284.9 309.6,284.7 309.1,287.8 308.6,285.3 308.1,285.6 307.6,284.1 307.1,285.2 306.6,287.8 306.1,285.9 305.6,284.4 305.1,285.7 304.6,287.7 304.1,285.5 303.6,285.2 303.1,285.1 302.6,285.3 302.1,286.3 301.6,286.4 301.1,284 300.6,284.8 300.1,286.1 299.6,286 299.1,284.7 298.6,284.8 298.1,284.7 297.6,284 297.1,284.9 296.6,285.1 296.1,284.6 295.6,284.3 295.1,287.8 294.6,285.7 294.1,284.6 293.6,287.8 293.1,285.2 292.6,284.2 292.1,284.7 291.6,284.9 291.1,284.8 290.6,285.2 290.1,284.7 289.6,284.5 289.1,287 288.6,285.6 288.1,284.2 287.6,284 287.1,284 286.6,286.5 286.1,283.9 285.6,284.8 285.1,283.9 284.6,285.6 284.1,284.5 283.6,286.1 283.1,285.2 282.6,285.3 282.1,285.1 281.6,284.4 281.1,284.5 280.6,284.6 280.1,285.1 279.6,283.9 279.1,287.1 278.6,284.5 278.1,284.7 277.6,285 277.1,285 276.6,285.6 276.1,285.8 275.6,286.2 275.1,284.8 274.6,284.1 274.1,285.2 273.6,285.1 273.1,284 272.6,284.5 272.1,285.2 271.6,284.6 271.1,283.9 270.6,285.5 270.1,284.8 269.6,283.9 269.1,284.4 268.6,287.8 268.1,283.9 267.6,285.2 267.1,284.7 266.6,284.4 266.1,285.1 265.6,286.1 265.1,285.4 264.6,284.8 264.1,285.4 263.6,284.4 263.1,284.3 262.6,283.9 262.1,284.7 261.6,286.6 261.1,284 260.6,285.8 260.1,285.7 259.6,285 259.1,284.9 258.6,285.3 258.1,284.7 257.6,285.9 257.1,285.7 256.6,284.3 256.1,284 255.6,284.7 255.1,285.4 254.6,284.6 254.1,284.5 253.6,285.1 253.1,284.7 252.6,284 252.1,284.8 251.6,284.6 251.1,284 250.6,285 250.1,285.5 249.6,285.6 249.1,284.7 248.6,285 248.1,285.5 247.6,284.3 247.1,285 246.6,287.8 246.1,287 245.6,285.5 245.1,285.5 244.6,285.6 244.1,285.2 243.6,284.9 243.1,285.5 242.6,285.6 242.1,285.8 241.6,285.1 241.1,285.1 240.6,287.8 240.1,284.6 239.6,283.9 239.1,283.8 238.6,285.8 238.1,287.8 237.6,285.1 237.1,285.5 236.6,285.6 236.1,284.5 235.6,285.2 235.1,285.5 234.6,284 234.1,285.2 233.6,285.6 233.1,285.8 232.6,285.5 232.1,285.1 231.6,285.2 231.1,285.5 230.6,284.3 230.1,284.2 229.6,284.3 229.1,284.9 228.6,285.2 228.1,285.1 227.6,284.9 227.1,286.5 226.6,284.2 226.1,284 225.6,284.5 225.1,285.7 224.6,285 224.1,286.6 223.6,285.8 223.1,284.1 222.6,284.7 222.1,285.5 221.6,285 221.1,285.8 220.6,284.5 220.1,284.8 219.6,284.5 219.1,284.8 218.6,286.3 218.1,285.2 217.6,284.7 217.1,285 216.6,284.8 216.1,287.5 215.6,285 215.1,285.4 214.6,284.1 214.1,285.6 213.6,284.8 213.1,284.9 212.6,284.2 212.1,284.8 211.6,285.6 211.1,285.8 210.6,285.7 210.1,287.8 209.6,285.4 209.1,285.7 208.6,285.4 208.1,284.4 207.6,284.6 207.1,285.1 206.6,285.4 206.1,284.9 205.6,285.5 205.1,284.6 204.6,285.6 204.1,284.7 203.6,284.4 203.1,284.2 202.6,285.8 202.1,285.3 201.6,287.8 201.1,285 200.6,284.2 200.1,284.2 199.6,284.3 199.1,284.3 198.6,284.1 198.1,285.6 197.6,285.5 197.1,285 196.6,284.3 196.1,285.5 195.6,284.6 195.1,285.2 194.6,284.3 194.1,284.7 193.6,285.6 193.1,283.9 192.6,285.1 192.1,285.2 191.6,286.1 191.1,285.8 190.6,285.4 190.1,284.3 189.6,285.8 189.1,286.9 188.6,285.4 188.1,285.5 187.6,284.8 187.1,285.5 186.6,284.3 186.1,285.1 185.6,285.4 185.1,284.4 184.6,285 184.1,284.2 183.6,284.5 183.1,285 182.6,285.6 182.1,285.7 181.6,285.1 181.1,285.1 180.6,284.6 180.1,284.2 179.6,285.5 179.1,284.9 178.6,286.5 178.1,286.2 177.6,286.1 177.1,285.4 176.6,285.6 176.1,285.5 175.6,284.9 175.1,287.3 174.6,285.2 174.1,284.1 173.6,284.9 173.1,284 172.6,285.6 172.1,284.9 171.6,287.5 171.1,284.1 170.6,284 170.1,285.9 169.6,285 169.1,284.6 168.6,284.5 168.1,285.5 167.6,285.5 167.1,285.4 166.6,284.3 166.1,285.6 165.6,285.7 165.1,285.8 164.6,285 164.1,286.2 163.6,285.3 163.1,284.8 162.6,284.6 162.1,284.4 161.6,285.7 161.1,284.7 160.6,285.6 160.1,285.9 159.6,285.6 159.1,284.4 158.6,284.4 158.1,284.6 157.6,283.9 157.1,285.8 156.6,286 156.1,285.7 155.6,286 155.1,285.9 154.6,285.1 154.1,285.7 153.6,285.1 153.1,285 152.6,285.4 152.1,284.5 151.6,285.3 151.1,284.1 150.6,284.4 150.1,285.5 149.6,285.7 149.1,287.1 148.6,284.1 148.1,285.1 147.6,285.7 147.1,285.2 146.6,285.2 146.1,284.8 145.6,287.2 145.1,284.2 144.6,284 144.1,286.3 143.6,284.4 143.1,283.9 142.6,284.4 142.1,284.6 141.6,287.3 141.1,286.3 140.6,284 140.1,284 139.6,284.5 139.1,284 138.6,285 138.1,285.3 137.6,285.5 137.1,285.3 136.6,287.2 136.1,285.2 135.6,286.3 135.1,284.2 134.6,283.9 134.1,284.3 133.6,284 133.1,284.4 132.6,285.1 132.1,287.8 131.6,285.5 131.1,284.8 130.6,285.2 130.1,286.4 129.6,285.4 129.1,283.8 128.6,287.8 128.1,285.3 127.6,285.2 127.1,284.3 126.6,285.8 126.1,287.3 125.6,285.6 125.1,287.3 124.6,287.8 124.1,285.6 123.6,285.3 123.1,283.8 122.6,287.8 122.1,285.1 121.6,285.1 121.1,284.1 120.6,285.5 120.1,284.8 119.6,285.5 119.1,285.2 118.6,286 118.1,287.8 117.6,285.6 117.1,285.1 116.6,284.6 116.1,285.3 115.6,284.5 115.1,287.7 114.6,285.4 114.1,287.8 113.6,285.5 113.1,285.6 112.6,284.6 112.1,287.8 111.6,285.7 111.1,284.5 110.6,284.3 110.1,286.2 109.6,285.2 109.1,284.1 108.6,285.1 108.1,285.5 107.6,285.1 107.1,285.2 106.6,284.2 106.1,284.4 105.6,284.7 105.1,285.6 104.6,285 104.1,285.5 103.6,285.5 103.1,284.9 102.6,285.8 102.1,286.5 101.6,286.2 101.1,287.2 100.6,283.8 100.1,286 99.6,284.4 99.1,285.4 98.6,287.4 98.1,283.9 97.6,285 97.1,284.2 96.6,284.5 96.1,284.1 95.6,284.4 95.1,284.2 94.6,285.3 94.1,284.8 93.6,285.4 93.1,284 92.6,284.2 92.1,284.4 91.6,285.3 91.1,285.4 90.6,283.8 90.1,284.4 89.6,285.6 89.1,285.8 88.6,283.9 88.1,284.6 87.6,285.2 87.1,287.3 86.6,285 86.1,284.9 85.6,285.6 85.1,285.4 84.6,285 84.1,284.6 83.6,283.9 83.1,285.1 82.6,284.2 82.1,285.2 81.6,284.8 81.1,285.3 80.6,284.8 80.1,285 79.6,286.6 79.1,285.2 78.6,285.8 78.1,284.3 77.6,283.9 77.1,284.4 76.6,284.8 76.1,285.8 75.6,284.4 75.1,284.7 74.6,285.1 74.1,285.8 73.6,285.2 73.1,283.9 72.6,284.6 72.1,284.2 71.6,284.5 71.1,285.5 70.6,285.4 70.1,286.6 69.6,286.2 69.1,284.4 68.6,286.3 68.1,284.8 67.6,285.4 67.1,285.1 66.6,286.6 66.1,285.1 65.6,284.6 65.1,284.3 64.6,284.8 64.1,285.7 63.6,284.4 63.1,284.7 62.6,287.6 62.1,285.5 61.6,284.9 61.1,284.6 60.6,285.1 60.1,285.3 59.6,286.1 59.1,285.4 58.6,285.5 58.1,287.7 57.6,284.3 57.1,284.9 56.6,285 56.1,285.3 55.6,285.4 55.1,285.3 54.6,284.4 54.1,284.6 53.6,285.5 53.1,284.3 52.6,285.2 52.1,283.9 51.6,285.5 51.1,284.7 50.6,286.5 50.1,287.4 50.1,283.8" fill="#2400f0" stroke="#2400f0" stroke-width="0.3"/>
<path d="M52.2,283.8V363M56.3,283.8V348M60.4,283.8V345.2M64.4,283.8V328.5M68.6,283.8V336.2M72.6,283.8V325.1M76.6,283.8V327.2M80.8,283.8V318.6M85,283.8V322.6M89,283.8V321.2M93,283.8V316M97.3,283.8V313.8M101.4,283.8V319.2M105.5,283.8V311.7M109.7,283.8V313.6M113.8,283.8V320.4M118,283.8V319.8M122.1,283.8V317.3M126.4,283.8V311.1M130.6,283.8V309.8M134.8,283.8V311.1M138.8,283.8V310.1M143.1,283.8V310.3M147.3,283.8V311.2M151.4,283.8V312.2M155.7,283.8V311.3M159.9,283.8V313.8M164.1,283.8V318.7M168.2,283.8V315.8M172.2,283.8V314.3M176.2,283.8V316.7M180.3,283.8V311.9M184.3,283.8V318.2M188.3,283.8V311.4M192.3,283.8V311.2M196.4,283.8V311.7M200.4,283.8V308.2M204.6,283.8V307.6M208.7,283.8V308.8M212.8,283.8V310.2M216.8,283.8V306.4M220.9,283.8V305.4M225.1,283.8V305.7M229.2,283.8V306.3M233.4,283.8V304.3M237.6,283.8V310M241.7,283.8V303.9M245.9,283.8V305.1M249.9,283.8V303.2M254.1,283.8V309.9M258.3,283.8V307.2M262.4,283.8V309.9M266.6,283.8V309.2M270.7,283.8V306.6M274.9,283.8V302M279,283.8V301.1M283.2,283.8V307.3M287.4,283.8V301.4M291.4,283.8V303.2M295.5,283.8V301.3M299.5,283.8V304.2M303.7,283.8V300.2M307.7,283.8V301.6M311.9,283.8V303.2M316,283.8V304.6M320.1,283.8V300.8M324.3,283.8V303.9M328.5,283.8V299.7M332.5,283.8V301.5M336.8,283.8V302.4M340.9,283.8V300.6M345.2,283.8V299.8M349.3,283.8V302.8M353.5,283.8V303.6M357.6,283.8V300.1M361.9,283.8V301.4M366,283.8V298.4M370.2,283.8V301.8M374.3,283.8V298.9M378.5,283.8V301.8M382.6,283.8V300.6M386.9,283.8V300.4" stroke="#2400f0" stroke-width="1.15" stroke-opacity="0.82" fill="none"/>
<polygon points="393.1,262.2 393.1,261.8 393.6,260.2 394.1,260.7 394.6,258.6 395.1,261.6 395.6,257.9 396.1,261.5 396.6,261.7 397.1,261.6 397.6,261.5 398.1,260 398.6,262.1 399.1,260 399.6,259 400.1,260.7 400.6,261.5 401.1,259.8 401.6,261 402.1,260.5 402.6,257.7 403.1,261.9 403.6,257.7 404.1,260.6 404.6,259.7 405.1,258.3 405.6,259.5 406.1,259.6 406.6,261.2 407.1,261 407.6,257.7 408.1,261.4 408.6,261.4 409.1,260 409.6,261 410.1,259 410.6,260.7 411.1,257.7 411.6,262.1 412.1,260 412.6,260.2 413.1,261.6 413.6,261.1 414.1,262 414.6,259.7 415.1,261.5 415.6,261.2 416.1,257.7 416.6,260.8 417.1,260.3 417.6,261.8 418.1,262.2 418.6,259 419.1,260.7 419.6,260.5 420.1,261.4 420.6,260.6 421.1,260.5 421.6,259.9 422.1,261.4 422.6,257.7 423.1,261.6 423.6,260.5 424.1,260.6 424.6,261.4 425.1,260.8 425.6,260.9 426.1,261.2 426.6,261.1 427.1,260.4 427.6,260 428.1,259.8 428.6,257.7 429.1,260.5 429.6,260.4 430.1,260.9 430.6,261.2 431.1,261.1 431.6,261.5 432.1,258.8 432.6,260.8 433.1,260.3 433.6,260 434.1,258.5 434.6,259.8 435.1,259.2 435.6,260.9 436.1,260 436.6,259.5 437.1,262.1 437.6,261.9 438.1,261.3 438.6,261.2 439.1,260.7 439.6,260.9 440.1,260.2 440.6,260.9 441.1,260.2 441.6,262.1 442.1,262.1 442.6,262 443.1,261.8 443.6,262 444.1,259 444.6,261 445.1,262.2 445.6,261.6 446.1,260.3 446.6,261.1 447.1,260.3 447.6,258.1 448.1,259.8 448.6,261.1 449.1,259 449.6,259.9 450.1,262.2 450.6,261.9 451.1,258.6 451.6,261.6 452.1,260.6 452.6,262.2 453.1,261.3 453.6,261.4 454.1,257.7 454.6,260.7 455.1,259.8 455.6,260.6 456.1,260.1 456.6,261.2 457.1,260.7 457.6,261.9 458.1,262 458.6,258.4 459.1,257.7 459.6,260.4 460.1,261.2 460.6,260.1 461.1,262 461.6,261.7 462.1,260.8 462.6,259.4 463.1,260.8 463.6,261.2 464.1,260.9 464.6,261.6 465.1,260.1 465.6,261.8 466.1,259.6 466.6,261.1 467.1,257.9 467.6,260.1 468.1,259.9 468.6,261 469.1,261.1 469.6,261.3 470.1,259.8 470.6,260.9 471.1,259.7 471.6,260.2 472.1,260.4 472.6,261.5 473.1,260.7 473.6,259.1 474.1,258.2 474.6,260.8 475.1,261.9 475.6,260 476.1,261.1 476.6,260.9 477.1,261.7 477.6,258.2 478.1,260.8 478.6,259.5 479.1,261.8 479.6,261.5 480.1,260.3 480.6,262.2 481.1,260 481.6,260.8 482.1,260.8 482.6,261 483.1,259.1 483.6,261.7 484.1,261.5 484.6,261.5 485.1,260.6 485.6,257.9 486.1,261.2 486.6,261.5 487.1,262.2 487.6,260.4 488.1,260.2 488.6,262.1 489.1,259.4 489.6,261.1 490.1,259.1 490.6,261.1 491.1,261.5 491.6,261.8 492.1,260.9 492.6,259.6 493.1,259.1 493.6,261.1 494.1,260.9 494.6,260.5 495.1,260.6 495.6,260.4 496.1,261.7 496.6,260.6 497.1,260 497.6,261.6 498.1,261.3 498.6,261.8 499.1,261 499.6,261.5 500.1,260.6 500.6,261.5 501.1,260.5 501.6,260.1 502.1,261.4 502.6,261.3 503.1,261.6 503.6,260 504.1,258.1 504.6,261.7 505.1,261.8 505.6,258.9 506.1,261.1 506.6,259.8 507.1,261.2 507.6,261.7 508.1,260.9 508.6,261.3 509.1,260 509.6,260.5 510.1,261.7 510.6,260.7 511.1,258.2 511.6,261.5 512.1,261.5 512.6,260.2 513.1,260.3 513.6,257.7 514.1,262.2 514.6,261 515.1,258.9 515.6,261.6 516.1,259.3 516.6,262.2 517.1,257.7 517.6,258.7 518.1,261.1 518.6,261.3 519.1,261.2 519.6,262.1 520.1,261 520.6,260.1 521.1,261.5 521.6,260.6 522.1,261.3 522.6,261.8 523.1,261.5 523.6,260.1 524.1,257.7 524.6,261.5 525.1,261.9 525.6,261.3 526.1,262.1 526.6,261.7 527.1,259.4 527.6,259.5 528.1,258.3 528.6,261.1 529.1,260.1 529.6,261.4 530.1,260.6 530.6,260.6 531.1,261.9 531.6,261.5 532.1,259.1 532.6,260.6 533.1,260.3 533.6,259.1 534.1,261 534.6,260.4 535.1,258.7 535.6,258.9 536.1,260.1 536.6,259.1 537.1,262 537.6,260.4 538.1,261.1 538.6,258.3 539.1,260 539.6,260 540.1,261.3 540.6,260 541.1,258 541.6,259.4 542.1,261.9 542.6,259.8 543.1,261.3 543.6,261.8 544.1,261.4 544.6,260.2 545.1,259.7 545.6,261.8 546.1,260.3 546.6,260.3 547.1,259.8 547.6,258.5 548.1,257.7 548.6,260.6 549.1,260.9 549.6,260.8 550.1,259.4 550.6,261.1 551.1,261.6 551.6,259.1 552.1,261.6 552.6,261.9 553.1,257.8 553.6,257.7 554.1,259.2 554.6,260.9 555.1,262 555.6,261.7 556.1,258.8 556.6,260 557.1,258.5 557.6,261.3 558.1,260.1 558.6,260.5 559.1,261.2 559.6,261 560.1,257.7 560.6,261.1 561.1,261 561.6,261 562.1,259 562.6,260.1 563.1,261.1 563.6,259.5 564.1,262.1 564.6,259.1 565.1,261.6 565.6,261.5 566.1,260.1 566.6,260.7 567.1,260.7 567.6,260.1 568.1,260.9 568.6,261.3 569.1,257.7 569.6,262 570.1,258.4 570.6,260.1 571.1,261.4 571.6,261.3 572.1,260.1 572.6,261.5 573.1,261.2 573.6,261.7 574.1,260.1 574.6,261.4 575.1,261.1 575.6,259.1 576.1,261.3 576.6,257.7 577.1,260.9 577.6,261.4 578.1,260 578.6,260.2 579.1,257.7 579.6,261.1 580.1,257.7 580.6,260.9 581.1,260.1 581.6,259.2 582.1,260.7 582.6,260.5 583.1,260.4 583.6,260.8 584.1,260.3 584.6,260.9 585.1,261.4 585.6,261.3 586.1,261.6 586.6,260 587.1,261.3 587.6,259.7 588.1,259.9 588.6,261.4 589.1,259.1 589.6,260.3 590.1,262 590.6,258.3 591.1,262 591.6,260.5 592.1,260 592.6,259.7 593.1,261.6 593.6,261.1 594.1,260.6 594.6,260.3 595.1,261.1 595.6,260.8 596.1,260 596.6,260.4 597.1,261.5 597.6,260.8 598.1,261.2 598.6,261.3 599.1,260.2 599.6,261.2 600.1,260.6 600.6,260.8 601.1,260.6 601.6,261.8 602.1,260.9 602.6,259.8 603.1,259.2 603.6,257.7 604.1,261.3 604.6,257.7 605.1,259.4 605.6,258.4 606.1,260 606.6,261.5 607.1,262 607.6,261.6 608.1,260 608.6,262 609.1,261.3 609.6,261.4 610.1,261.7 610.6,261.6 611.1,261.2 611.6,260.9 612.1,257.8 612.6,259.9 613.1,260.7 613.6,261 614.1,262 614.6,261.4 615.1,261.9 615.6,258.7 616.1,258.3 616.6,260.3 617.1,261.7 617.6,261.5 618.1,257.7 618.6,259 619.1,261.8 619.6,260.6 620.1,260.4 620.6,261.2 621.1,261.1 621.6,261.1 622.1,260 622.6,260.4 623.1,261.6 623.6,261.2 624.1,261.7 624.6,261.8 625.1,257.7 625.6,260.7 626.1,260.5 626.6,261.1 627.1,260.5 627.6,260 628.1,258.6 628.6,261.5 629.1,262.2 629.6,257.7 630.1,261.3 630.6,261.2 631.1,261.1 631.6,258.4 632.1,261.7 632.6,259.8 633.1,260.7 633.6,260 634.1,260.2 634.6,260.1 635.1,260.6 635.6,261.9 636.1,261.3 636.6,257.7 637.1,259.6 637.6,261.6 638.1,261.5 638.6,261 639.1,261.5 639.6,261.5 640.1,260.7 640.6,260.6 641.1,258.9 641.6,260.8 642.1,261 642.6,261.5 643.1,261.8 643.6,259 644.1,260.3 644.6,257.7 645.1,261.9 645.6,261.3 646.1,259.4 646.6,261.3 647.1,260.8 647.6,261.7 648.1,261 648.6,260.1 649.1,260.5 649.6,261.6 650.1,262 650.6,261.4 651.1,259 651.6,259.4 652.1,261.9 652.6,258.9 653.1,261.8 653.6,260.8 654.1,259.8 654.6,261.9 655.1,261 655.6,259.5 656.1,260.3 656.6,260.6 657.1,259.9 657.6,260.6 658.1,261.8 658.6,260.3 659.1,259.6 659.6,261.7 660.1,259.9 660.6,257.9 661.1,260 661.6,260.9 662.1,259.7 662.6,262 663.1,260.3 663.6,261.1 664.1,261.6 664.6,259.4 665.1,259.5 665.6,259.9 666.1,261.8 666.6,259 667.1,259.9 667.6,260.5 668.1,260.9 668.6,261.8 669.1,260.7 669.6,260.2 670.1,260.6 670.6,260.9 671.1,260.4 671.6,261.4 672.1,262 672.6,261.1 673.1,260.8 673.6,259.9 674.1,260.7 674.6,259.9 675.1,260.2 675.6,261.1 676.1,260.1 676.6,260 677.1,261.8 677.6,260.9 678.1,260.8 678.6,259.7 679.1,260.1 679.6,262.2 680.1,261.9 680.6,257.7 681.1,261 681.6,259.5 682.1,258.6 682.6,260.9 683.1,261.5 683.6,261.6 684.1,261 684.6,259.9 685.1,257.7 685.6,261.8 686.1,257.7 686.6,260.9 687.1,262 687.6,261 688.1,262 688.6,261.3 689.1,260.7 689.6,257.7 690.1,261.4 690.6,261.5 691.1,260.3 691.6,260 692.1,260.6 692.6,261.5 693.1,257.7 693.6,259 694.1,261.9 694.6,259.7 695.1,260.4 695.6,259.6 696.1,260.6 696.6,260.3 697.1,261.2 697.6,261.1 698.1,260.1 698.6,260.1 699.1,261.1 699.6,260.3 700.1,259.8 700.6,260.9 701.1,257.8 701.6,262.1 702.1,260.8 702.6,262.1 703.1,261.1 703.6,259.3 704.1,261.5 704.6,262 705.1,259.9 705.6,261.7 706.1,259.3 706.6,259.6 707.1,261.4 707.6,259.6 708.1,261.7 708.6,260.6 709.1,259.9 709.6,257.7 710.1,260.5 710.6,261.2 711.1,261.5 711.6,261.1 712.1,260 712.6,257.7 713.1,261.2 713.6,260.1 714.1,260.4 714.6,258 715.1,262 715.6,260.1 716.1,262.1 716.6,262.2 717.1,260.2 717.6,261.5 718.1,260.9 718.6,260.7 719.1,257.9 719.6,259.9 720.1,260.3 720.6,257.7 721.1,259.9 721.6,261 722.1,262 722.6,261.5 723.1,261.6 723.6,261 724.1,260.8 724.6,261.3 725.1,260.1 725.6,260.5 726.1,262.1 726.6,260.6 727.1,257.7 727.6,260.6 728.1,262 728.6,260 729.1,261.8 729.6,259.9 730.1,260.1 730.6,260.3 731.1,260.3 731.6,262 732.1,260.3 732.6,261.2 733.1,258.9 733.8,259.1 733.8,262.2 733.8,282.6 733.8,284.2 733.1,282.8 732.6,284.1 732.1,284.5 731.6,284.9 731.1,284.6 730.6,282.9 730.1,285.6 729.6,283.4 729.1,285.6 728.6,283.3 728.1,283.9 727.6,283.1 727.1,283.9 726.6,285.6 726.1,283.5 725.6,283.3 725.1,285.1 724.6,283.7 724.1,283.9 723.6,284.5 723.1,284.1 722.6,282.9 722.1,284.9 721.6,283.8 721.1,283.8 720.6,283.1 720.1,283.4 719.6,283.8 719.1,284.8 718.6,283.9 718.1,284.1 717.6,284.3 717.1,284.4 716.6,284.2 716.1,282.9 715.6,284.1 715.1,285.6 714.6,283.9 714.1,284 713.6,284.2 713.1,284.1 712.6,283.8 712.1,284.4 711.6,283.1 711.1,284.5 710.6,283.7 710.1,284.1 709.6,284.8 709.1,283.5 708.6,283 708.1,284.8 707.6,284.1 707.1,284.2 706.6,284.2 706.1,283.1 705.6,285 705.1,283 704.6,283.2 704.1,283.7 703.6,284 703.1,283.5 702.6,284 702.1,283.4 701.6,283.9 701.1,284.7 700.6,282.8 700.1,284.6 699.6,284.1 699.1,284.4 698.6,283.7 698.1,283.1 697.6,282.6 697.1,283.4 696.6,284 696.1,282.8 695.6,284.3 695.1,283.9 694.6,283.2 694.1,283.9 693.6,284 693.1,283 692.6,285.6 692.1,284.1 691.6,285.6 691.1,284.2 690.6,283.5 690.1,285.6 689.6,285.6 689.1,284.4 688.6,284.5 688.1,283.3 687.6,283.9 687.1,283.5 686.6,282.7 686.1,284.3 685.6,285.6 685.1,285.6 684.6,283.1 684.1,283.5 683.6,283.7 683.1,283.6 682.6,283.3 682.1,284.5 681.6,284.3 681.1,283.4 680.6,283.5 680.1,284.5 679.6,282.6 679.1,283.8 678.6,283.5 678.1,284.4 677.6,283.7 677.1,285.6 676.6,285.6 676.1,282.8 675.6,285.6 675.1,283.1 674.6,283.3 674.1,282.9 673.6,282.7 673.1,282.9 672.6,285.3 672.1,283.4 671.6,283.7 671.1,284.5 670.6,283.2 670.1,285.6 669.6,284.3 669.1,283.2 668.6,283.3 668.1,283.9 667.6,284 667.1,284.1 666.6,283.4 666.1,283.7 665.6,283.9 665.1,285.6 664.6,285.3 664.1,283.7 663.6,283.7 663.1,285.5 662.6,283.7 662.1,283.9 661.6,283.7 661.1,282.6 660.6,282.8 660.1,283 659.6,284 659.1,285.3 658.6,285 658.1,282.8 657.6,284.4 657.1,282.9 656.6,285.6 656.1,284.4 655.6,285.6 655.1,284.3 654.6,283 654.1,284.5 653.6,284.2 653.1,284.5 652.6,284.5 652.1,284 651.6,283.3 651.1,282.7 650.6,284.1 650.1,283.3 649.6,285.6 649.1,283.2 648.6,283.6 648.1,283 647.6,284.4 647.1,284 646.6,284.2 646.1,284.6 645.6,283.5 645.1,285.5 644.6,283 644.1,283.8 643.6,282.8 643.1,284.4 642.6,283.5 642.1,283.1 641.6,283.4 641.1,285.5 640.6,285.1 640.1,283.6 639.6,283.6 639.1,283.3 638.6,285.6 638.1,285.6 637.6,283.8 637.1,283.8 636.6,283.9 636.1,283.3 635.6,283.6 635.1,282.6 634.6,282.9 634.1,284.5 633.6,284.6 633.1,283.5 632.6,284.5 632.1,284.1 631.6,283.9 631.1,283.9 630.6,284 630.1,284.2 629.6,283.6 629.1,283.1 628.6,284.1 628.1,283.6 627.6,283.7 627.1,285.5 626.6,284 626.1,283.4 625.6,284.5 625.1,284.1 624.6,285.6 624.1,283.8 623.6,285.6 623.1,284 622.6,284.3 622.1,284.3 621.6,282.8 621.1,284.2 620.6,283.7 620.1,282.6 619.6,284.3 619.1,284 618.6,283.1 618.1,283.6 617.6,285.6 617.1,283.3 616.6,283.2 616.1,285.6 615.6,285.1 615.1,285.1 614.6,285.6 614.1,283.2 613.6,283.8 613.1,284.6 612.6,283 612.1,285 611.6,283.4 611.1,285.6 610.6,282.9 610.1,283.6 609.6,283.8 609.1,283.4 608.6,283 608.1,285.6 607.6,284.9 607.1,283.8 606.6,285.3 606.1,285.6 605.6,282.6 605.1,282.7 604.6,282.6 604.1,284.3 603.6,283.9 603.1,283.6 602.6,285.6 602.1,283.8 601.6,283.4 601.1,283.1 600.6,283.6 600.1,284.1 599.6,282.8 599.1,282.8 598.6,283.1 598.1,284.5 597.6,285 597.1,283.7 596.6,284.9 596.1,283.2 595.6,283.2 595.1,283.2 594.6,282.9 594.1,284.1 593.6,283.1 593.1,282.9 592.6,284.5 592.1,283 591.6,285.6 591.1,283 590.6,283.9 590.1,283.5 589.6,283 589.1,284.4 588.6,285.6 588.1,284.1 587.6,284.5 587.1,283.3 586.6,283.1 586.1,285.2 585.6,284.7 585.1,282.6 584.6,283.3 584.1,284 583.6,284.5 583.1,283.2 582.6,284.2 582.1,282.9 581.6,283.6 581.1,283.4 580.6,284.6 580.1,282.9 579.6,284.8 579.1,285.6 578.6,283.8 578.1,285.6 577.6,284.5 577.1,282.8 576.6,283.7 576.1,282.7 575.6,284.3 575.1,285.6 574.6,283.9 574.1,284.9 573.6,284.2 573.1,283.3 572.6,282.7 572.1,284.3 571.6,285 571.1,284.9 570.6,282.8 570.1,284.5 569.6,283.1 569.1,284.2 568.6,283.4 568.1,283.6 567.6,284.4 567.1,284.1 566.6,283 566.1,283.6 565.6,283.8 565.1,284.3 564.6,284.8 564.1,283.7 563.6,284.5 563.1,283.2 562.6,282.8 562.1,282.7 561.6,284.2 561.1,284.6 560.6,284.3 560.1,285.6 559.6,284.2 559.1,285.6 558.6,285.6 558.1,285.3 557.6,283.3 557.1,283 556.6,282.8 556.1,283.3 555.6,283.9 555.1,283 554.6,283.7 554.1,283.9 553.6,284.1 553.1,284.1 552.6,283.9 552.1,284.3 551.6,284.5 551.1,284.3 550.6,283.2 550.1,283.4 549.6,284.1 549.1,284.3 548.6,283.9 548.1,283.7 547.6,284.2 547.1,284.2 546.6,284.2 546.1,284.5 545.6,283.7 545.1,283.1 544.6,285.1 544.1,284.4 543.6,284.9 543.1,285.6 542.6,284.5 542.1,283.8 541.6,282.9 541.1,284 540.6,284.9 540.1,284.5 539.6,283.6 539.1,282.9 538.6,284.6 538.1,283.7 537.6,283.4 537.1,283.6 536.6,284.1 536.1,284.3 535.6,285.1 535.1,284.1 534.6,283.4 534.1,282.9 533.6,283.3 533.1,284.1 532.6,284.1 532.1,283 531.6,284.6 531.1,282.8 530.6,284.6 530.1,284 529.6,284.4 529.1,284.2 528.6,284.3 528.1,283.5 527.6,283.1 527.1,283.3 526.6,283.9 526.1,284 525.6,283.3 525.1,283.5 524.6,282.7 524.1,285.2 523.6,284.3 523.1,283.6 522.6,283.5 522.1,285.6 521.6,282.6 521.1,282.6 520.6,284.3 520.1,285.1 519.6,283 519.1,283.3 518.6,284 518.1,283 517.6,282.8 517.1,284.3 516.6,282.8 516.1,284.8 515.6,283.9 515.1,283.2 514.6,283.9 514.1,284.2 513.6,283.4 513.1,284 512.6,283.3 512.1,285.6 511.6,284.2 511.1,284.6 510.6,283.7 510.1,284.6 509.6,285.1 509.1,284 508.6,283 508.1,285.3 507.6,282.8 507.1,283.9 506.6,285.6 506.1,284.8 505.6,284.1 505.1,283.8 504.6,284.8 504.1,283.6 503.6,283.5 503.1,284.6 502.6,284.5 502.1,283.8 501.6,282.9 501.1,283.4 500.6,283.9 500.1,284.1 499.6,283.5 499.1,283.9 498.6,285 498.1,284.7 497.6,284.2 497.1,282.9 496.6,283.9 496.1,283.1 495.6,284 495.1,283.6 494.6,284 494.1,282.8 493.6,285.3 493.1,283 492.6,284.1 492.1,284.4 491.6,285.6 491.1,284.3 490.6,282.8 490.1,282.9 489.6,284.6 489.1,284.4 488.6,283.3 488.1,285.6 487.6,283 487.1,285.6 486.6,284.5 486.1,283 485.6,283.9 485.1,282.6 484.6,284.4 484.1,285.6 483.6,283.8 483.1,283.2 482.6,282.8 482.1,284.5 481.6,283.6 481.1,284.3 480.6,284.6 480.1,283.6 479.6,282.7 479.1,284.5 478.6,282.9 478.1,283 477.6,285.6 477.1,284 476.6,284.5 476.1,284.5 475.6,285.6 475.1,284.4 474.6,283 474.1,283.4 473.6,283.5 473.1,284.5 472.6,285.6 472.1,283.6 471.6,283.6 471.1,283.7 470.6,284.3 470.1,284.2 469.6,283.6 469.1,284 468.6,284.3 468.1,283.6 467.6,283.7 467.1,284.6 466.6,283.4 466.1,282.9 465.6,284.6 465.1,283.2 464.6,284.5 464.1,284.5 463.6,283.4 463.1,282.7 462.6,282.6 462.1,285.1 461.6,283.6 461.1,283.6 460.6,284.4 460.1,285.2 459.6,282.8 459.1,284.5 458.6,283.6 458.1,283.3 457.6,283.7 457.1,285.2 456.6,283.9 456.1,284.4 455.6,284.6 455.1,283.2 454.6,282.6 454.1,284.1 453.6,284.4 453.1,283.2 452.6,283.3 452.1,284.3 451.6,283 451.1,285.6 450.6,282.6 450.1,283.4 449.6,284.7 449.1,284 448.6,283.7 448.1,283.4 447.6,283.9 447.1,285 446.6,283.7 446.1,283.2 445.6,283.2 445.1,285.6 444.6,283.2 444.1,283.2 443.6,284.5 443.1,283.2 442.6,284.5 442.1,282.9 441.6,285.5 441.1,283.1 440.6,284.1 440.1,283.7 439.6,284.5 439.1,283.1 438.6,283.8 438.1,284.1 437.6,283.5 437.1,282.8 436.6,283.3 436.1,284.1 435.6,285.6 435.1,283.9 434.6,282.8 434.1,285.4 433.6,284.4 433.1,284.4 432.6,284.2 432.1,283.8 431.6,283.3 431.1,282.6 430.6,283.4 430.1,285.6 429.6,284.1 429.1,284.5 428.6,282.9 428.1,285.6 427.6,285.6 427.1,282.7 426.6,282.7 426.1,282.6 425.6,285.6 425.1,283.4 424.6,284.4 424.1,285.6 423.6,284.3 423.1,284.2 422.6,285 422.1,283.3 421.6,285.3 421.1,282.8 420.6,282.7 420.1,282.9 419.6,283.3 419.1,283.1 418.6,284.5 418.1,282.9 417.6,283.7 417.1,282.9 416.6,284.6 416.1,284 415.6,284.7 415.1,285.5 414.6,285.6 414.1,283.1 413.6,285.6 413.1,284.2 412.6,282.7 412.1,282.9 411.6,285.1 411.1,283 410.6,284.5 410.1,282.7 409.6,284.5 409.1,283.8 408.6,282.7 408.1,283.1 407.6,284.6 407.1,285.6 406.6,284.3 406.1,283.6 405.6,283.4 405.1,283.8 404.6,282.6 404.1,283.3 403.6,283.6 403.1,285.4 402.6,283.3 402.1,282.8 401.6,284.3 401.1,284.2 400.6,284.5 400.1,285.6 399.6,284.1 399.1,283.9 398.6,283.9 398.1,285.1 397.6,284.4 397.1,283.1 396.6,285.1 396.1,284.1 395.6,283.9 395.1,284.5 394.6,284.5 394.1,284.1 393.6,285.6 393.1,283 393.1,282.6" fill="#c8191c" stroke="#c8191c" stroke-width="0.3"/>
<path d="M395.1,282.6V326M399.4,282.6V316.8M403.4,282.6V316.4M407.5,282.6V316.6M411.5,282.6V322.7M415.6,282.6V315.7M419.6,282.6V311.6M423.7,282.6V314.2M427.7,282.6V310.1M431.8,282.6V306.6M436.1,282.6V306.1M440.2,282.6V313.8M444.2,282.6V304.5M448.3,282.6V308.8M452.4,282.6V304.6M456.6,282.6V306.9M460.6,282.6V306.5M464.9,282.6V305M469,282.6V305.2M473.1,282.6V300.9M477.3,282.6V300.6M481.5,282.6V302.3M485.7,282.6V302.4M489.9,282.6V301.6M494,282.6V303M498.2,282.6V300.8M502.4,282.6V301.6M506.7,282.6V298.1M510.9,282.6V300.9M515.2,282.6V298.2M519.3,282.6V300.8M523.5,282.6V297.2M527.6,282.6V300.5M531.7,282.6V295.6M535.8,282.6V298M539.8,282.6V297.4M544,282.6V295.3M548,282.6V299.2M552,282.6V295.3M556.2,282.6V298M560.3,282.6V298.7M564.4,282.6V294.5M568.6,282.6V297.4M572.7,282.6V297M576.6,282.6V295.6M580.8,282.6V298M584.9,282.6V294.2M588.8,282.6V295.3M593,282.6V296.9M597.2,282.6V297.6M601.4,282.6V296.5M605.5,282.6V296.3M609.7,282.6V297.5M613.7,282.6V296M617.7,282.6V294M622,282.6V294.7M626.1,282.6V293.8M630.2,282.6V292.9M634.4,282.6V296.7M638.6,282.6V295.4M642.7,282.6V293.9M646.9,282.6V294.1M651,282.6V294.6M655.2,282.6V295.3M659.4,282.6V292.8M663.6,282.6V293.9M667.8,282.6V294.4M672,282.6V292.2M676,282.6V293.1M680,282.6V294.6M684,282.6V292.3M688.1,282.6V292.1M692.4,282.6V293M696.4,282.6V294M700.7,282.6V292.7M704.7,282.6V293M708.9,282.6V295M712.9,282.6V291.6M717,282.6V292.6M721.2,282.6V293.8M725.4,282.6V292.7M729.5,282.6V294.6" stroke="#c8191c" stroke-width="1.15" stroke-opacity="0.82" fill="none"/>
<text x="220.5" y="277.8" font-size="13.6" text-anchor="middle" fill="#fff" >123 mM NaCl</text>
<text x="563" y="277.8" font-size="13.6" text-anchor="middle" fill="#fff" >55 mM NaCl</text>
<path d="M18.2,286.4 V311.3 H38.6" fill="none" stroke="#000" stroke-width="1.6"/>
<text transform="translate(13.5,297.2) rotate(-90)" font-size="13.6" text-anchor="middle">2 nA</text>
<text x="28.9" y="325.8" font-size="13.6" text-anchor="middle" fill="#000" >0.05 s</text>
<path d="M52.7,357.2 L49,362.3 L51.7,362.3 L51.7,366.3 L53.7,366.3 L53.7,362.3 L56.4,362.3 Z" fill="#d400f8"/>
<path d="M389,302.4 L385.4,307.2 L388,307.2 L388,311.2 L390,311.2 L390,307.2 L392.6,307.2 Z" fill="#dc7323"/>
<text x="0.8" y="382.5" font-size="13" text-anchor="start" fill="#000" font-weight="bold">C</text>
<line x1="51" y1="564.5" x2="273.6" y2="413.1" stroke="#4a4a4a" stroke-width="0.9" />
<line x1="51" y1="564.5" x2="273.6" y2="443.4" stroke="#4a4a4a" stroke-width="0.9" />
<polyline points="94.8,541.8 97,539 100,537 102.5,533 104.4,529 106,533 109,531.5 112.5,529 115.7,526.6 119,525 122.1,522.1 126,519 130.1,516.1 135,512.5 141.4,508.9 145,506 149.4,502.5 153,499.5 157.4,496.1 161,492 165,488 170,484 174.4,479.2 180,472 185,465 189,458 192,452 193.8,446 194.9,443 196,452 197,461.8 200,458 203,454 205.7,451.4 207.1,448.7 208.2,451 209.2,453.1 212,455 214.4,455.7 220,452 226,447 233.5,440.9 238,437 242,434 244.8,430.5 246,433 247.5,436 252,432 256,428.5 259.6,425.2 263,421 266,416 268.3,412.2 270,419 272.7,427" fill="none" stroke="#86ff2c" stroke-width="1.3"/>
<path d="M102.9,532.2v4.9M103.6,530.6v2.7M119,525v3.9M133.2,513.8v2.3M146.9,504.5v3.6M148.4,503.3v4.9M155.9,497.3v4.2M169.9,484.1v2.1M179.8,472.2v5M185.7,463.7v3.6M186.9,461.6v3.7M188,459.7v4.8M190.1,455.8v3.8M202.8,454.3v2.7M204.4,452.6v3.3M211.1,454.4v4.2M218.1,453.2v3.2M229.7,444v2.5M238.2,436.8v3.2M238.9,436.3v2.3M257.5,427.1v2.3M261,423.5v2.4" stroke="#86ff2c" stroke-width="0.9" fill="none"/>
<polyline points="123.7,519.4 127,519.5 131.7,518.6 134,516 135.8,512.1 138.2,515.3 143,512.5 149.4,509.7 157,506.5 165,503.3 180,494.8 195,486.6 207.4,480 222,471.8 237,463.5 250,456.2 262,449 272.7,440.9" fill="none" stroke="#2400f0" stroke-width="1.3"/>
<path d="M129.2,519.1v5M140.7,513.9v5.8M147.5,510.5v4M147.6,510.5v3.5M150.3,509.3v4.5M162,504.5v3.4M162.4,504.3v4.1M163.7,503.8v2.3M168.1,501.5v1.9M169.9,500.5v3.3M170.9,499.9v2.7M173.1,498.7v2.2M173.4,498.6v5.8M175.3,497.4v4.6M180.6,494.5v3.2M189.1,489.8v6M193.6,487.4v2M196.3,485.9v3.1M197.7,485.2v5.5M198.4,484.8v5.9M207.3,480.1v5.1M208.2,479.5v2.3M208.5,479.4v4M209.2,479v1.8M213.3,476.7v1.8M214.6,476v5.4M215.2,475.6v1.5M216.1,475.1v1.9M229.3,467.8v2M231.9,466.3v4.7M233.9,465.2v4.3M237.2,463.4v2.5M240,461.8v3.3M242,460.7v5.8M243.7,459.7v2.4M253.5,454.1v1.8M258.1,451.3v4.4M262.9,448.3v2M267.2,445.1v4M269.8,443.1v2.6" stroke="#2400f0" stroke-width="0.9" fill="none"/>
<rect x="51" y="385.6" width="223" height="178.9" fill="none" stroke="#000" stroke-width="1.6"/>
<text x="45.3" y="568.6" font-size="13.6" text-anchor="end" fill="#000" >0</text>
<line x1="51" y1="504.9" x2="54" y2="504.9" stroke="#000" stroke-width="1.6" />
<text x="45.3" y="509" font-size="13.6" text-anchor="end" fill="#000" >20</text>
<line x1="51" y1="445.3" x2="54" y2="445.3" stroke="#000" stroke-width="1.6" />
<text x="45.3" y="449.4" font-size="13.6" text-anchor="end" fill="#000" >40</text>
<text x="45.3" y="389.8" font-size="13.6" text-anchor="end" fill="#000" >60</text>
<text x="50.9" y="578.8" font-size="13.6" text-anchor="middle" fill="#000" >0</text>
<line x1="95.5" y1="564.5" x2="95.5" y2="561.3" stroke="#000" stroke-width="1.6" />
<text x="95.5" y="578.8" font-size="13.6" text-anchor="middle" fill="#000" >0.05</text>
<line x1="140.1" y1="564.5" x2="140.1" y2="561.3" stroke="#000" stroke-width="1.6" />
<text x="140.1" y="578.8" font-size="13.6" text-anchor="middle" fill="#000" >0.10</text>
<line x1="184.7" y1="564.5" x2="184.7" y2="561.3" stroke="#000" stroke-width="1.6" />
<text x="184.7" y="578.8" font-size="13.6" text-anchor="middle" fill="#000" >0.15</text>
<line x1="229.3" y1="564.5" x2="229.3" y2="561.3" stroke="#000" stroke-width="1.6" />
<text x="229.3" y="578.8" font-size="13.6" text-anchor="middle" fill="#000" >0.20</text>
<text x="273.9" y="578.8" font-size="13.6" text-anchor="middle" fill="#000" >0.25</text>
<text y="594.8" font-size="13.6"><tspan x="130" font-style="italic">t</tspan><tspan x="136.4" y="591.7" font-size="10.8">-0.5</tspan><tspan x="158.3" y="594.8">(s</tspan><tspan x="171.4" y="591.7" font-size="10.8">-0.5</tspan><tspan x="190.2" y="594.8">)</tspan></text>
<text transform="translate(13.3,475.3) rotate(-90)" font-size="14" text-anchor="middle"><tspan font-style="italic">I</tspan><tspan font-size="10" dy="3.6">ion</tspan><tspan dy="-3.6"> (nA)</tspan></text>
<text x="161.3" y="433.6" font-size="13.6" text-anchor="start" fill="#86ff2c" >82 mM NaCl</text>
<text x="175.2" y="512.8" font-size="13.6" text-anchor="start" fill="#2400f0" >123 mM NaCl</text>
<text x="0.8" y="620.6" font-size="13" text-anchor="start" fill="#000" font-weight="bold">D</text>
<path d="M10.8,658h0M10.9,644.1h0M11.1,655.3h0M11.2,655h0M11.4,659.7h0M11.5,653.6h0M11.6,652.1h0M11.8,651.9h0M11.9,656h0M12.1,649.7h0M12.2,656.4h0M12.3,640.2h0M12.5,661.8h0M12.6,650.8h0M12.8,641h0M12.9,656.5h0M13,658.6h0M13.2,654.5h0M13.3,647.6h0M13.5,643.3h0M13.6,658.2h0M13.7,652.2h0M13.9,646.9h0M14,650.9h0M14.2,658.2h0M14.3,641.7h0M14.4,650.8h0M14.6,652.3h0M14.7,660.7h0M14.9,660.8h0M15,653.1h0M15.1,640.8h0M15.3,647.2h0M15.4,657.5h0M15.6,647.2h0M15.7,641.8h0M15.8,643.8h0M16,653.3h0M16.1,644.9h0M16.3,652.2h0M16.4,642h0M16.5,657.7h0M16.7,652.5h0M16.8,651.4h0M17,648.7h0M17.1,648.7h0M17.2,660.6h0M17.4,663.3h0M17.5,642.6h0M17.7,658.8h0M17.8,649.3h0M17.9,656.5h0M18.1,649.9h0M18.2,657.8h0M18.4,653.8h0M18.5,641.3h0M18.6,650.2h0M18.8,642h0M18.9,659.8h0M19.1,646.7h0M19.2,661.3h0M19.3,653.8h0M19.5,644.4h0M19.6,660.9h0M19.8,656.6h0M19.9,652.9h0M20,642.6h0M20.2,652.2h0M20.3,645.7h0M20.5,655.9h0M20.6,647.2h0M20.7,655.4h0M20.9,651.9h0M21,648.7h0M21.2,641.1h0M21.3,663.6h0M21.4,655h0M21.6,646.1h0M21.7,644.8h0M21.9,656.6h0M22,647.4h0M22.1,655.7h0M22.3,660h0M22.4,652.8h0M22.6,648.1h0M22.7,649.2h0M22.8,652.6h0M23,644h0M23.1,635.9h0M23.3,651.3h0M23.4,653.5h0M23.5,652.3h0M23.7,665.3h0M23.8,654.3h0M24,649.5h0M24.1,662.1h0M24.2,651.6h0M24.4,649.8h0M24.5,636.8h0M24.7,647.6h0M24.8,662.1h0M24.9,645.9h0M25.1,652.2h0M25.2,662.2h0M25.4,653.7h0M25.5,650.9h0M25.6,662.5h0M25.8,657.4h0M25.9,656.1h0M26.1,647.3h0M26.2,654.1h0M26.3,672.3h0M26.5,654.1h0M26.6,649.1h0M26.8,644.3h0M26.9,661.6h0M27,659.5h0M27.2,651.3h0M27.3,663.6h0M27.5,658.4h0M27.6,660.1h0M27.7,645.6h0M27.9,656.7h0M28,651.1h0M28.2,653.5h0M28.3,658.4h0M28.4,660h0M28.6,648.4h0M28.7,649.8h0M28.9,664.9h0M29,645.3h0M29.1,654.3h0M29.3,664.3h0M29.4,645h0M29.6,657h0M29.7,644h0M29.8,660h0M30,649.7h0M30.1,653h0M30.3,651h0M30.4,662.7h0M30.5,655.8h0M30.7,654.2h0M30.8,651h0M31,653.2h0M31.1,649.5h0M31.2,658.2h0M31.4,665.2h0M31.5,654.7h0M31.7,655.2h0M31.8,656.1h0M31.9,647.6h0M32.1,656.5h0M32.2,660.5h0M32.4,651.3h0M32.5,654.5h0M32.6,642.9h0M32.8,658.9h0M32.9,659.7h0M33.1,651h0M33.2,660.8h0M33.3,649.6h0M33.5,658.7h0M33.6,663.8h0M33.8,660.2h0M33.9,662.2h0M34,653.5h0M34.2,656h0M34.3,645.3h0M34.5,655.4h0M34.6,642.9h0M34.7,658.2h0M34.9,659.6h0M35,648.4h0M35.2,658.1h0M35.3,651h0M35.4,647.3h0M35.6,651.2h0M35.7,657.7h0M35.9,648.9h0M36,648.8h0M36.1,652.7h0M36.3,647.8h0M36.4,646.6h0M36.6,656.3h0M36.7,646.1h0M36.8,660.4h0M37,657.8h0M37.1,663.6h0M37.3,649.9h0M37.4,654.9h0M37.5,652h0M37.7,656.2h0M37.8,656h0M38,643h0M38.1,648.6h0M38.2,643.2h0M38.4,649.1h0M38.5,663.5h0M38.7,653.4h0M38.8,648.3h0M38.9,658.3h0M39.1,655.5h0M39.2,652.1h0M39.4,651.6h0M39.5,647h0M39.6,642.1h0M39.8,649.5h0M39.9,667h0M40.1,658.2h0M40.2,656.6h0M40.3,654.1h0M40.5,652.4h0M40.6,656.2h0M40.8,655.1h0M40.9,660h0M41,652.8h0M41.2,654.9h0M41.3,655.5h0M41.5,654.8h0M41.6,645.7h0M41.7,656.9h0M41.9,647.5h0M42,659.5h0M42.2,644.3h0M42.3,644.3h0M42.4,649.6h0M42.6,643.9h0M42.7,658.5h0M42.9,651.8h0M43,644.4h0M43.1,642.9h0M43.3,648.4h0M43.4,654.2h0M43.6,658.9h0M43.7,646.5h0M43.8,664.8h0M44,654.9h0M44.1,660.5h0M44.3,663.1h0M44.4,645h0M44.5,659.3h0M44.7,656.4h0M44.8,652.7h0M45,651.3h0M45.1,651.6h0M45.2,651.7h0M45.4,657.4h0M45.5,654h0M45.7,651.3h0M45.8,649.7h0M45.9,659.2h0M46.1,646.3h0M46.2,664.2h0M46.4,656.5h0M46.5,652.6h0M46.6,662.3h0M46.8,663.9h0M46.9,651.3h0M47.1,649h0M47.2,644.6h0M47.3,660h0M47.5,645.5h0M47.6,639.8h0M47.8,650.8h0M47.9,635h0M48,645.1h0M48.2,655.1h0M48.3,656h0M48.5,663.6h0M48.6,658.6h0M48.7,653.4h0M48.9,654.3h0M49,653.3h0M49.2,662.1h0M49.3,663.2h0M49.4,652.8h0M49.6,652.5h0M49.7,663.2h0M49.9,653.7h0M50,664.6h0M50.1,648.9h0M50.3,643h0M50.4,663.9h0M50.6,658.7h0M50.7,653.6h0M50.8,661.1h0M51,646.2h0M51.1,654.7h0M51.3,652.2h0M51.4,647.1h0M51.5,652.3h0M51.7,661.6h0M51.8,663.1h0M52,664.3h0M52.1,653.3h0M52.2,651.7h0M52.4,645.2h0M52.5,654.3h0M52.7,645h0M52.8,653.2h0M52.9,654.3h0M53.1,664.4h0M53.2,653.1h0M53.4,654.8h0M53.5,653h0M53.6,663.9h0M53.8,656.5h0M53.9,661.7h0M54.1,649.7h0M54.2,653.4h0M54.3,649.9h0M54.5,644.8h0M54.6,643.5h0M54.8,663.2h0M54.9,658.7h0M55,651.7h0M55.2,650.8h0M55.3,649.4h0M55.5,645.9h0M55.6,658.6h0M55.7,646.4h0M55.9,665h0M56,662.5h0M56.2,653h0M56.3,658.8h0M56.4,661.9h0M56.6,655.1h0M56.7,648.7h0M56.9,664.4h0M57,658.5h0M57.1,649.5h0M57.3,652.4h0M57.4,659.8h0M57.6,649.7h0M57.7,646.3h0M57.8,661.8h0M58,658.7h0M58.1,657.9h0M58.3,650.5h0M58.4,643.2h0M58.5,655.5h0M58.7,657.9h0M58.8,653.2h0M59,648.5h0M59.1,644.9h0M59.2,665.6h0M59.4,661.7h0M59.5,658.7h0M59.7,653.8h0M59.8,646.6h0M59.9,670.6h0M60.1,645.3h0M60.2,648.3h0M60.4,657.8h0M60.5,664.1h0M60.6,653.6h0M60.8,653.1h0M60.9,649.1h0M61.1,661.5h0M61.2,662.6h0M61.3,650.2h0M61.5,646.3h0M61.6,656.1h0M61.8,642.6h0M61.9,644h0M62,647h0M62.2,653.8h0M62.3,662.6h0M62.5,654.9h0M62.6,661.5h0M62.7,666.8h0M62.9,644.8h0M63,657.3h0M63.2,647.6h0M63.3,667.4h0M63.4,665.9h0M63.6,665.3h0M63.7,651.6h0M63.9,655.9h0M64,652.1h0M64.1,652.7h0M64.3,659.1h0M64.4,651.5h0M64.6,662.1h0M64.7,648.3h0M64.8,662.9h0M65,647.4h0M65.1,659.2h0M65.3,668.9h0M65.4,667.6h0M65.5,656.3h0M65.7,667.3h0M65.8,656.4h0M66,651h0M66.1,652.3h0M66.2,659.3h0M66.4,661.6h0M66.5,662.8h0M66.7,654.8h0M66.8,663.5h0M66.9,664.7h0M67.1,666h0M67.2,657.6h0M67.4,662.1h0M67.5,664.3h0M67.6,664.3h0M67.8,670.1h0M67.9,666.5h0M68.1,672.7h0M68.2,672.4h0M68.3,668.8h0M68.5,671.3h0M68.6,674h0M68.8,676.5h0M68.9,679.8h0M69,678h0M69.2,681.8h0M69.3,676.7h0M69.5,674.1h0M69.6,682h0M69.7,685.1h0M69.9,684.2h0M70,683.7h0M70.2,688.5h0M70.3,693.5h0M70.4,689.6h0M70.6,689.3h0M70.7,690.2h0M70.9,698.4h0M71,694.6h0M71.1,697.5h0M71.3,700.3h0M71.4,701.1h0M71.6,697.3h0M71.7,703.8h0M71.8,705.5h0M72,706.7h0M72.1,710h0M72.3,708h0M72.4,711.2h0M72.5,712.1h0M72.7,717.3h0M72.8,715.8h0M73,720.4h0M73.1,718.9h0M73.2,723.7h0M73.4,725.4h0M73.5,728.4h0M73.7,731.3h0M73.8,732.9h0M73.9,735.1h0M74.1,732.8h0M74.2,743.1h0M74.4,741.1h0M74.5,744.4h0M74.6,745.3h0M74.8,752.2h0M74.9,749.7h0M75.1,755.6h0M75.2,759.6h0M75.3,763.1h0M75.5,766.4h0M75.6,771.1h0M75.8,772.6h0M75.9,784.9h0M76,790.7h0M76.2,795.9h0M76.3,801h0M76.5,798.8h0M76.6,797.1h0M76.7,800.7h0M76.9,800.9h0M77,794.8h0M77.2,799.4h0M77.3,796.8h0M77.4,797.2h0M77.6,794.4h0M77.7,795.3h0M77.9,793.9h0M78,792.4h0M78.1,785.5h0M78.3,789.8h0M78.4,786.7h0M78.6,782.6h0M78.7,781.8h0M78.8,769.6h0M79,768.3h0M79.1,763.3h0M79.3,750.8h0M79.4,747.3h0M79.5,739.7h0M79.7,735.2h0M79.8,725.2h0M80,725h0M80.1,718.8h0M80.2,715.2h0M80.4,708.4h0M80.5,706.1h0M80.7,699.1h0M80.8,695.2h0M80.9,692.7h0M81.1,687.2h0M81.2,686.6h0M81.4,682.1h0M81.5,680.2h0M81.6,675.2h0M81.8,676.6h0M81.9,675.9h0M82.1,670.9h0M82.2,671.2h0M82.3,668.5h0M82.5,662.9h0M82.6,664.9h0M82.8,666.7h0M82.9,661.6h0M83,657.8h0M83.2,662.1h0M83.3,659.5h0M83.5,665.1h0M83.6,659.8h0M83.7,659.3h0M83.9,657.1h0M84,658.7h0M84.2,652h0M84.3,656.2h0M84.4,649.4h0M84.6,651.8h0M84.7,665.5h0M84.9,664.2h0M85,661.2h0M85.1,663.5h0M85.3,666.3h0M85.4,649.4h0M85.6,662h0M85.7,662.3h0M85.8,655.5h0M86,666.3h0M86.1,656.2h0M86.3,650.6h0M86.4,654.6h0M86.5,642.4h0M86.7,654.8h0M86.8,658h0M87,643.9h0M87.1,652.9h0M87.2,644h0M87.4,650.5h0M87.5,655.8h0M87.7,655.7h0M87.8,650.2h0M87.9,656.6h0M88.1,645.1h0M88.2,655.5h0M88.4,651h0M88.5,650.8h0M88.6,655.8h0M88.8,647.3h0M88.9,666.4h0M89.1,650.6h0M89.2,643h0M89.3,649.7h0M89.5,657.2h0M89.6,656.6h0M89.8,655.9h0M89.9,652.7h0M90,648.6h0M90.2,662.8h0M90.3,651.8h0M90.5,649.3h0M90.6,652h0M90.7,651.7h0M90.9,652.2h0M91,656h0M91.2,654.8h0M91.3,652.8h0M91.4,658.6h0M91.6,650.5h0M91.7,666h0M91.9,659h0M92,656.5h0M92.1,650.5h0M92.3,649.1h0M92.4,654.5h0M92.6,651.3h0M92.7,652.7h0M92.8,652.6h0M93,654.1h0M93.1,663.2h0M93.3,641.2h0M93.4,662.8h0M93.5,649.9h0M93.7,655.7h0M93.8,644.8h0M94,649.5h0M94.1,649.2h0M94.2,648.6h0M94.4,651.1h0M94.5,653.5h0M94.7,658.7h0M94.8,646.3h0M94.9,652.3h0M95.1,653.5h0M95.2,645.7h0M95.4,646.6h0M95.5,652.7h0M95.6,647.5h0M95.8,658.2h0M95.9,650.2h0M96.1,656.1h0M96.2,651.3h0M96.3,652.6h0M96.5,648.6h0M96.6,644.7h0M96.8,644.8h0M96.9,651.7h0M97,651.8h0M97.2,659h0M97.3,658.5h0M97.5,654.7h0M97.6,649.5h0M97.7,656.2h0M97.9,658.4h0M98,658.1h0M98.2,641.9h0M98.3,650.7h0M98.4,663.6h0M98.6,651.7h0M98.7,659.6h0M98.9,649.1h0M99,650h0M99.1,654.4h0M99.3,649.1h0M99.4,652.2h0M99.6,641.2h0M99.7,660.9h0M99.8,643.1h0M100,645.8h0M100.1,656.4h0M100.3,655h0M100.4,653.8h0M100.5,645h0M100.7,640.9h0M100.8,647.3h0M101,648.2h0M101.1,650.5h0M101.2,655h0M101.4,643.6h0M101.5,659.6h0M101.7,654.2h0M101.8,656.2h0M101.9,644.1h0M102.1,654.3h0M102.2,654.1h0M102.4,651.4h0M102.5,654.4h0M102.6,642.1h0M102.8,649.6h0M102.9,650.7h0M103.1,656.7h0M103.2,660.7h0M103.3,655h0M103.5,665.4h0M103.6,663.4h0M103.8,648.8h0M103.9,641.5h0M104,660.6h0M104.2,653h0M104.3,643.4h0M104.5,649.6h0M104.6,647.9h0M104.7,658h0M104.9,664.1h0M105,648.9h0M105.2,658.3h0M105.3,643.1h0M105.4,645.1h0M105.6,651.1h0M105.7,645.6h0M105.9,653.2h0M106,648.6h0M106.1,662.4h0M106.3,651.7h0M106.4,641.8h0M106.6,649.7h0M106.7,657.7h0M106.8,653.8h0M107,671.4h0M107.1,654.2h0M107.3,654.3h0M107.4,655.5h0M107.5,654.1h0M107.7,652.7h0M107.8,650.5h0M108,661.5h0M108.1,651.1h0M108.2,660.9h0M108.4,651.1h0M108.5,652h0M108.7,655.7h0M108.8,649.5h0M108.9,651.1h0M109.1,648.8h0M109.2,653.4h0M109.4,653.5h0M109.5,649.7h0M109.6,661.7h0M109.8,647.3h0M109.9,651.2h0M110.1,657.2h0M110.2,651.3h0M110.3,653.8h0M110.5,654.6h0M110.6,654.5h0M110.8,659.2h0M110.9,646.5h0M111,644.1h0M111.2,661.9h0M111.3,655h0M111.5,663.9h0M111.6,650.2h0M111.7,646.1h0M111.9,650.1h0M112,641.7h0M112.2,656.9h0M112.3,637.2h0M112.4,657h0M112.6,644.4h0M112.7,651.7h0M112.9,643.1h0M113,645.5h0M113.1,646.7h0M113.3,649.8h0M113.4,661.4h0M113.6,648.5h0M113.7,663.3h0M113.8,656.1h0M114,648.5h0M114.1,647.3h0M114.3,643.7h0M114.4,644.4h0M114.5,642.7h0M114.7,656.5h0M114.8,649.5h0M115,642.6h0M115.1,642.3h0M115.2,654h0M115.4,652.6h0M115.5,646.9h0M115.7,648.5h0M115.8,655.2h0M115.9,649.9h0M116.1,653.9h0M116.2,642.9h0M116.4,658.3h0M116.5,642.8h0M116.6,664.5h0M116.8,645.2h0M116.9,656.9h0M117.1,657.3h0M117.2,653.9h0M117.3,648.8h0M117.5,663.7h0M117.6,644.4h0M117.8,633.9h0M117.9,643.4h0M118,661.6h0M118.2,656.1h0M118.3,653.1h0M118.5,647.7h0M118.6,658.2h0M118.7,657.3h0M118.9,664h0M119,646.8h0M119.2,653.8h0M119.3,653h0M119.4,661.9h0M119.6,656.6h0M119.7,649.3h0M119.9,651.5h0M120,652.9h0M120.1,654h0M120.3,647.7h0M120.4,650.7h0M120.6,648.3h0M120.7,644.6h0M120.8,654.2h0M121,650h0M121.1,652.8h0M121.3,656.5h0M121.4,646.7h0M121.5,650.5h0M121.7,650.2h0M121.8,647.8h0M122,656.3h0M122.1,652.5h0M122.2,659.2h0M122.4,642.8h0M122.5,654.3h0M122.7,649.3h0M122.8,647.8h0M122.9,641.8h0M123.1,656.4h0M123.2,646.6h0M123.4,652.4h0M123.5,662.9h0M123.6,645.3h0M123.8,649.6h0M123.9,655.3h0M124.1,652.2h0M124.2,650.8h0M124.3,644.5h0M124.5,654h0M124.6,654.1h0M124.8,659.8h0M124.9,643.5h0M125,647.5h0M125.2,657.3h0M125.3,663.3h0M125.5,664.8h0M125.6,662.8h0M125.7,659.9h0M125.9,662h0M126,634.7h0M126.2,648.8h0M126.3,645.2h0M126.4,652.7h0M126.6,654.4h0M126.7,642.7h0M126.9,657.3h0M127,651.4h0M127.1,656.7h0M127.3,656.1h0M127.4,654.7h0M127.6,656.1h0M127.7,648.2h0M127.8,650.5h0M128,661.3h0M128.1,648.2h0M128.3,652.2h0M128.4,651.5h0M128.5,650.8h0M128.7,658.4h0M128.8,652.2h0M129,656.2h0M129.1,656h0M129.2,654.8h0M129.4,642.6h0M129.5,668.4h0M129.7,640.6h0M129.8,652.3h0M129.9,660.2h0M130.1,644.8h0M130.2,652.5h0M130.4,654.4h0M130.5,652.7h0M130.6,643.9h0M130.8,663.2h0M130.9,660.7h0M131.1,654.9h0M131.2,654.8h0M131.3,656.2h0M131.5,654.6h0M131.6,657.1h0M131.8,648.9h0M131.9,653.1h0M132,654.3h0M132.2,654.5h0M132.3,662.8h0M132.5,642.9h0M132.6,641.6h0M132.7,652.4h0M132.9,642.7h0M133,647.7h0M133.2,651.3h0M133.3,656.1h0M133.4,657.6h0M133.6,652.7h0M133.7,658.3h0M133.9,639.9h0M134,652.5h0M134.1,642h0M134.3,647.2h0M134.4,648.4h0M134.6,655.8h0M134.7,658.5h0M134.8,647h0M135,653.8h0M135.1,648.5h0M135.3,652h0M135.4,661.5h0M135.5,657h0M135.7,653.2h0M135.8,643h0M136,663.9h0M136.1,663h0M136.2,661.8h0M136.4,664h0M136.5,647.1h0M136.7,642.8h0M136.8,656.9h0M136.9,661.3h0M137.1,662.6h0M137.2,647.4h0M137.4,647.2h0M137.5,659.6h0M137.6,646.8h0M137.8,659h0M137.9,652.9h0M138.1,654.1h0M138.2,647.3h0M138.3,651.1h0M138.5,642.6h0M138.6,658.9h0M138.8,645.7h0M138.9,651h0M139,645.1h0M139.2,655.7h0M139.3,660.8h0M139.5,648h0M139.6,655.2h0M139.7,658.3h0M139.9,659.3h0M140,641.2h0M140.2,641.4h0M140.3,647.2h0M140.4,656h0M140.6,652.8h0M140.7,643.7h0M140.9,649.3h0M141,642.7h0M141.1,633.3h0M141.3,660.7h0M141.4,642.2h0" stroke="#d400f8" stroke-width="2.5" stroke-linecap="round" fill="none"/>
<path d="M143.5,647.9h0M143.6,656.1h0M143.8,651.6h0M143.9,649.8h0M144.1,651.7h0M144.2,656.9h0M144.3,651.2h0M144.5,662.1h0M144.6,642h0M144.8,655.6h0M144.9,648.5h0M145,656.6h0M145.2,649.1h0M145.3,660.3h0M145.5,651.7h0M145.6,663.6h0M145.7,652.8h0M145.9,644.6h0M146,649.8h0M146.2,646.4h0M146.3,649.6h0M146.4,655.3h0M146.6,658.6h0M146.7,652.9h0M146.9,650.2h0M147,663.3h0M147.1,653.5h0M147.3,656.4h0M147.4,643.8h0M147.6,661.3h0M147.7,652.3h0M147.8,646.6h0M148,647.5h0M148.1,655.5h0M148.3,649.6h0M148.4,651h0M148.5,661.4h0M148.7,650.8h0M148.8,661.7h0M149,656.3h0M149.1,648.4h0M149.2,647.8h0M149.4,654.4h0M149.5,651.8h0M149.7,651.7h0M149.8,657.2h0M149.9,661.5h0M150.1,657.8h0M150.2,653.4h0M150.4,644.1h0M150.5,642.8h0M150.6,644.5h0M150.8,650.4h0M150.9,645.1h0M151.1,660.5h0M151.2,647.3h0M151.3,643.6h0M151.5,655.4h0M151.6,641.8h0M151.8,653.7h0M151.9,649.3h0M152,655.7h0M152.2,642.3h0M152.3,650.5h0M152.5,641.8h0M152.6,656.8h0M152.7,649.9h0M152.9,664.1h0M153,652.3h0M153.2,660.5h0M153.3,644.4h0M153.4,654.8h0M153.6,659.3h0M153.7,655.6h0M153.9,661.3h0M154,661.9h0M154.1,643.4h0M154.3,645.8h0M154.4,667.2h0M154.6,644.2h0M154.7,644.7h0M154.8,661.3h0M155,637.3h0M155.1,654.9h0M155.3,644.6h0M155.4,645h0M155.5,659.3h0M155.7,662.3h0M155.8,648h0M156,650.6h0M156.1,654.7h0M156.2,642.5h0M156.4,654.9h0M156.5,652.5h0M156.7,645.1h0M156.8,659.8h0M156.9,659.6h0M157.1,653.1h0M157.2,651.1h0M157.4,653.7h0M157.5,651.6h0M157.6,662.8h0M157.8,643.3h0M157.9,637.3h0M158.1,646.6h0M158.2,653.9h0M158.3,652.8h0M158.5,643.7h0M158.6,648.6h0M158.8,662.9h0M158.9,654h0M159,648h0M159.2,656.9h0M159.3,648.6h0M159.5,651h0M159.6,645.1h0M159.7,663.1h0M159.9,658.1h0M160,653.1h0M160.2,648h0M160.3,649.3h0M160.4,645.6h0M160.6,652.6h0M160.7,663.4h0M160.9,647h0M161,658.6h0M161.1,653.7h0M161.3,651.9h0M161.4,660.8h0M161.6,642.6h0M161.7,643.5h0M161.8,647.5h0M162,653.9h0M162.1,658.1h0M162.3,639.9h0M162.4,657.8h0M162.5,642.1h0M162.7,646.6h0M162.8,648.4h0M163,661.3h0M163.1,648.2h0M163.2,652.2h0M163.4,651.1h0M163.5,650.2h0M163.7,651.5h0M163.8,662.8h0M163.9,651.2h0M164.1,662.3h0M164.2,645.1h0M164.4,646.3h0M164.5,656.2h0M164.6,653.9h0M164.8,656.4h0M164.9,653h0M165.1,662.2h0M165.2,646.6h0M165.3,648.2h0M165.5,650.7h0M165.6,657.9h0M165.8,644.2h0M165.9,651.4h0M166,647.7h0M166.2,660.9h0M166.3,649.1h0M166.5,653.1h0M166.6,651.2h0M166.7,642.3h0M166.9,650.2h0M167,647.3h0M167.2,654.9h0M167.3,655.6h0M167.4,668.1h0M167.6,656h0M167.7,647.6h0M167.9,659.8h0M168,660h0M168.1,661.3h0M168.3,655.1h0M168.4,651.9h0M168.6,649.1h0M168.7,664.7h0M168.8,648.3h0M169,651.1h0M169.1,656.3h0M169.3,659.9h0M169.4,650.9h0M169.5,646.3h0M169.7,649.4h0M169.8,656.4h0M170,651.2h0M170.1,654.3h0M170.2,656.7h0M170.4,645.2h0M170.5,643h0M170.7,659.7h0M170.8,654.1h0M170.9,643.6h0M171.1,655.8h0M171.2,658.7h0M171.4,663.4h0M171.5,660.2h0M171.6,661.1h0M171.8,648h0M171.9,642.5h0M172.1,659.4h0M172.2,652.8h0M172.3,653.7h0M172.5,663.3h0M172.6,648.6h0M172.8,649.4h0M172.9,652.8h0M173,655.3h0M173.2,657.4h0M173.3,642.3h0M173.5,646.8h0M173.6,653.8h0M173.7,647.3h0M173.9,656.1h0M174,648.5h0M174.2,657.3h0M174.3,642.7h0M174.4,651.7h0M174.6,643.5h0M174.7,656.1h0M174.9,649.9h0M175,639.4h0M175.1,663.1h0M175.3,663.7h0M175.4,650.9h0M175.6,650.4h0M175.7,650h0M175.8,642.8h0M176,645.9h0M176.1,658.9h0M176.3,647.9h0M176.4,643.6h0M176.5,658.1h0M176.7,661h0M176.8,656.8h0M177,659.9h0M177.1,656.6h0M177.2,655.6h0M177.4,658.2h0M177.5,670.8h0M177.7,649.3h0M177.8,654.5h0M177.9,659.4h0M178.1,650.5h0M178.2,657.8h0M178.4,658.5h0M178.5,656.8h0M178.6,663.5h0M178.8,648.6h0M178.9,650.2h0M179.1,640.6h0M179.2,651h0M179.3,654.3h0M179.5,660.3h0M179.6,649.4h0M179.8,648.8h0M179.9,642.4h0M180,660.1h0M180.2,648.3h0M180.3,645.7h0M180.5,647.9h0M180.6,646.2h0M180.7,655.6h0M180.9,651.7h0M181,663.8h0M181.2,656.3h0M181.3,660.4h0M181.4,665h0M181.6,656.1h0M181.7,651h0M181.9,642.6h0M182,655.5h0M182.1,662.2h0M182.3,650.5h0M182.4,661.3h0M182.6,647.5h0M182.7,653.3h0M182.8,664.1h0M183,652.4h0M183.1,645.4h0M183.3,652.2h0M183.4,659.3h0M183.5,646.4h0M183.7,649.6h0M183.8,648.1h0M184,647.1h0M184.1,672.7h0M184.2,653.6h0M184.4,655.8h0M184.5,656.2h0M184.7,641.5h0M184.8,654.4h0M184.9,658h0M185.1,647h0M185.2,652.6h0M185.4,662.3h0M185.5,661.5h0M185.6,648.8h0M185.8,662.3h0M185.9,661.8h0M186.1,660.1h0M186.2,658.7h0M186.3,649.8h0M186.5,656.7h0M186.6,653.7h0M186.8,651h0M186.9,653.1h0M187,646h0M187.2,662.9h0M187.3,644.4h0M187.5,645.5h0M187.6,651.9h0M187.7,654.1h0M187.9,647h0M188,654.9h0M188.2,653.1h0M188.3,642.1h0M188.4,658.9h0M188.6,653h0M188.7,647.2h0M188.9,648.1h0M189,658.6h0M189.1,665h0M189.3,659.9h0M189.4,660h0M189.6,650.5h0M189.7,652.8h0M189.8,656.8h0M190,659h0M190.1,638.2h0M190.3,658.9h0M190.4,660.7h0M190.5,647h0M190.7,651.1h0M190.8,656h0M191,655.7h0M191.1,659.6h0M191.2,645.9h0M191.4,662.3h0M191.5,649.5h0M191.7,647.7h0M191.8,664.7h0M191.9,659.6h0M192.1,644.7h0M192.2,647.6h0M192.4,659.1h0M192.5,647.6h0M192.6,647h0M192.8,659.6h0M192.9,653.1h0M193.1,653.3h0M193.2,665.1h0M193.3,655.1h0M193.5,654.6h0M193.6,648.6h0M193.8,655.4h0M193.9,647.2h0M194,656.6h0M194.2,643.8h0M194.3,662h0M194.5,653.7h0M194.6,654.5h0M194.7,669.5h0M194.9,646.1h0M195,650.3h0M195.2,647.7h0M195.3,665.1h0M195.4,657.5h0M195.6,653.7h0M195.7,656.7h0M195.9,655.4h0M196,648.3h0M196.1,657.6h0M196.3,649.1h0M196.4,670h0M196.6,648.5h0M196.7,660.7h0M196.8,656.1h0M197,663.5h0M197.1,653.4h0M197.3,667.5h0M197.4,657.6h0M197.5,660.1h0M197.7,654h0M197.8,652.6h0M198,671.2h0M198.1,667h0M198.2,659.1h0M198.4,667.5h0M198.5,661.4h0M198.7,663.3h0M198.8,651h0M198.9,658.1h0M199.1,662.7h0M199.2,670.5h0M199.4,666.1h0M199.5,648.8h0M199.6,662.2h0M199.8,672.5h0M199.9,666.1h0M200.1,665.4h0M200.2,662.3h0M200.3,667.1h0M200.5,668.1h0M200.6,677h0M200.8,657.4h0M200.9,668.3h0M201,670.7h0M201.2,665.4h0M201.3,678.7h0M201.5,662h0M201.6,659.6h0M201.7,676h0M201.9,674.2h0M202,675.9h0M202.2,665.9h0M202.3,663h0M202.4,669.5h0M202.6,673.6h0M202.7,664.5h0M202.9,666.9h0M203,673.1h0M203.1,661.2h0M203.3,679.3h0M203.4,670.4h0M203.6,679.5h0M203.7,674.9h0M203.8,669.3h0M204,675.4h0M204.1,677.2h0M204.3,679h0M204.4,683.7h0M204.5,668.1h0M204.7,684.8h0M204.8,670.2h0M205,665.5h0M205.1,676.9h0M205.2,664.9h0M205.4,674.1h0M205.5,678.5h0M205.7,681.8h0M205.8,670.2h0M205.9,674.5h0M206.1,674h0M206.2,663h0M206.4,678.3h0M206.5,678.3h0M206.6,679.5h0M206.8,677.9h0M206.9,668.9h0M207.1,677.6h0M207.2,667.5h0M207.3,669.4h0M207.5,664.5h0M207.6,673.7h0M207.8,688.6h0M207.9,684.6h0M208,683h0M208.2,662.4h0M208.3,684.4h0M208.5,668.5h0M208.6,667.2h0M208.7,665.1h0M208.9,664.4h0M209,665.8h0M209.2,677.8h0M209.3,671.7h0M209.4,662.2h0M209.6,675.9h0M209.7,669h0M209.9,673.5h0M210,679.5h0M210.1,672.2h0M210.3,672h0M210.4,676.3h0M210.6,672.1h0M210.7,662.3h0M210.8,660.9h0M211,676.2h0M211.1,666.1h0M211.3,667.7h0M211.4,665.9h0M211.5,669.8h0M211.7,674h0M211.8,671.7h0M212,670h0M212.1,674.4h0M212.2,674.3h0M212.4,665.2h0M212.5,654.4h0M212.7,658h0M212.8,657.4h0M212.9,670.6h0M213.1,674.9h0M213.2,673.4h0M213.4,652.6h0M213.5,662.5h0M213.6,667.7h0M213.8,672.7h0M213.9,672.6h0M214.1,658.6h0M214.2,657.7h0M214.3,655.2h0M214.5,666.5h0M214.6,663.9h0M214.8,661.4h0M214.9,666.9h0M215,656h0M215.2,649.8h0M215.3,659.4h0M215.5,664.1h0M215.6,666.8h0M215.7,655.2h0M215.9,654.4h0M216,662.4h0M216.2,653.4h0M216.3,662.3h0M216.4,666.3h0M216.6,663.8h0M216.7,660.5h0M216.9,663.3h0M217,661.2h0M217.1,659.8h0M217.3,656.7h0M217.4,669h0M217.6,661.9h0M217.7,655.9h0M217.8,644.9h0M218,653.8h0M218.1,662.7h0M218.3,644.2h0M218.4,643.6h0M218.5,651.2h0M218.7,661.1h0M218.8,651.9h0M219,643.2h0M219.1,651.9h0M219.2,651h0M219.4,651.3h0M219.5,651.1h0M219.7,661.1h0M219.8,652.1h0M219.9,664.2h0M220.1,651.7h0M220.2,660.8h0M220.4,633.8h0M220.5,643.5h0M220.6,661.2h0M220.8,646.8h0M220.9,649.5h0M221.1,645.3h0M221.2,649.5h0M221.3,645.7h0M221.5,658.8h0M221.6,653h0M221.8,661.7h0M221.9,653.5h0M222,657.9h0M222.2,655.7h0M222.3,661.5h0M222.5,658.3h0M222.6,665.2h0M222.7,641.2h0M222.9,652.2h0M223,644.8h0M223.2,648.5h0M223.3,663.3h0M223.4,657.4h0M223.6,649.8h0M223.7,643.2h0M223.9,659.3h0M224,654.6h0M224.1,647h0M224.3,648.3h0M224.4,645.6h0M224.6,646.6h0M224.7,662.1h0M224.8,658.2h0M225,632.2h0M225.1,659.2h0M225.3,659.9h0M225.4,649.3h0M225.5,649.4h0M225.7,652.7h0M225.8,644.6h0M226,638.1h0M226.1,653.8h0M226.2,657.8h0M226.4,655.7h0M226.5,653.4h0M226.7,657.7h0M226.8,652.7h0M226.9,656.4h0M227.1,653.8h0M227.2,648.8h0M227.4,644.7h0M227.5,639h0M227.6,641.6h0M227.8,649.1h0M227.9,651.1h0M228.1,669.3h0M228.2,651.9h0M228.3,641.2h0M228.5,656.3h0M228.6,662h0M228.8,652h0M228.9,656.2h0M229,654.3h0M229.2,641.6h0M229.3,643.2h0M229.5,642.9h0M229.6,646.8h0M229.7,658.5h0M229.9,640.9h0M230,649.2h0M230.2,656.8h0M230.3,639.7h0M230.4,662h0M230.6,646.5h0M230.7,643h0M230.9,648.8h0M231,656.5h0M231.1,653.4h0M231.3,660.7h0M231.4,650.1h0M231.6,646.9h0M231.7,645.1h0M231.8,649.2h0M232,658h0M232.1,645.7h0M232.3,646.9h0M232.4,648.6h0M232.5,642h0M232.7,660.8h0M232.8,647.4h0M233,656.1h0M233.1,647.7h0M233.2,642.2h0M233.4,655.7h0M233.5,652.2h0M233.7,656.9h0M233.8,643.1h0M233.9,645.6h0M234.1,652.3h0M234.2,646.8h0M234.4,644.6h0M234.5,645.4h0M234.6,650.2h0M234.8,643.3h0M234.9,655.8h0M235.1,644.6h0M235.2,646.8h0M235.3,651.4h0M235.5,644.4h0M235.6,650h0M235.8,661.1h0M235.9,654.8h0M236,653.9h0M236.2,651.7h0M236.3,645.9h0M236.5,652.7h0M236.6,642.8h0M236.7,649.2h0M236.9,654.9h0M237,659.9h0M237.2,646.4h0M237.3,640.8h0M237.4,663.2h0M237.6,641.8h0M237.7,646.4h0M237.9,660.2h0M238,658.1h0M238.1,644.5h0M238.3,644.9h0M238.4,654.3h0M238.6,653.1h0M238.7,656.1h0M238.8,652.9h0M239,642.5h0M239.1,650.4h0M239.3,647.6h0M239.4,648.7h0M239.5,640.1h0M239.7,657h0M239.8,656.4h0M240,652.7h0M240.1,651.2h0M240.2,652.6h0M240.4,659.8h0M240.5,639.7h0M240.7,643.4h0M240.8,656.9h0M240.9,641.8h0M241.1,660.9h0M241.2,639.5h0M241.4,652.8h0M241.5,650.1h0M241.6,657.5h0M241.8,647h0M241.9,654.9h0M242.1,640.8h0M242.2,658.3h0M242.3,641.4h0M242.5,647.6h0M242.6,642.1h0M242.8,638.6h0M242.9,640.7h0M243,641h0M243.2,653.2h0M243.3,647.5h0M243.5,647.2h0M243.6,649.2h0M243.7,656.2h0M243.9,651.9h0M244,649.4h0M244.2,637.1h0M244.3,655.8h0M244.4,643.4h0M244.6,654.8h0M244.7,656.7h0M244.9,640.9h0M245,646.9h0M245.1,637.6h0M245.3,644.2h0M245.4,651.6h0M245.6,653h0M245.7,645.1h0M245.8,658.3h0M246,639.5h0M246.1,651h0M246.3,659.5h0M246.4,655.7h0M246.5,656.8h0M246.7,648.1h0M246.8,639.5h0M247,640.5h0M247.1,646.7h0M247.2,660h0M247.4,637.7h0M247.5,637.3h0M247.7,642.9h0M247.8,654.8h0M247.9,639.3h0M248.1,651.1h0M248.2,647.3h0M248.4,655.2h0M248.5,651.1h0M248.6,645.1h0M248.8,635.1h0M248.9,637.9h0M249.1,647.6h0M249.2,655.6h0M249.3,646.5h0M249.5,645.5h0M249.6,649h0M249.8,648h0M249.9,643.9h0M250,643.4h0M250.2,649h0M250.3,654h0M250.5,649.7h0M250.6,644.7h0M250.7,644.9h0M250.9,645.3h0M251,646.4h0M251.2,661.4h0M251.3,655.8h0M251.4,647.3h0M251.6,641.4h0M251.7,653.7h0M251.9,650.6h0M252,659h0M252.1,656.3h0M252.3,658.5h0M252.4,638.6h0M252.6,640.4h0M252.7,647.8h0M252.8,648.3h0M253,648.8h0M253.1,638h0M253.3,657.6h0M253.4,644.2h0M253.5,646h0M253.7,657.4h0M253.8,656.7h0M254,641.1h0M254.1,643.7h0M254.2,662.7h0M254.4,645.8h0M254.5,656.5h0M254.7,656.5h0M254.8,650.1h0M254.9,648.2h0M255.1,657.1h0M255.2,646.8h0M255.4,660.2h0M255.5,653.2h0M255.6,640.1h0M255.8,662.8h0M255.9,647.6h0M256.1,647.9h0M256.2,646.4h0M256.3,648.8h0M256.5,659.3h0M256.6,660.2h0M256.8,651.4h0M256.9,659.6h0M257,658.9h0M257.2,655.2h0M257.3,647.5h0M257.5,660.5h0M257.6,639.2h0M257.7,640.4h0M257.9,638.7h0M258,640.2h0M258.2,652.6h0M258.3,646.6h0M258.4,639.8h0M258.6,647.3h0M258.7,639h0M258.9,654.3h0M259,653h0M259.1,652.2h0M259.3,649h0M259.4,638.5h0M259.6,654.6h0M259.7,658.5h0M259.8,655.8h0M260,654.9h0M260.1,642.4h0M260.3,644.1h0M260.4,657.4h0M260.5,642.9h0M260.7,650.1h0M260.8,641.6h0M261,646.3h0M261.1,646.4h0M261.2,638.1h0M261.4,647.9h0M261.5,654.9h0M261.7,648.8h0M261.8,642.1h0M261.9,645.6h0M262.1,632h0M262.2,655.3h0M262.4,658.5h0M262.5,655.5h0M262.6,652.7h0M262.8,653.5h0M262.9,646.6h0M263.1,643.1h0M263.2,648.4h0M263.3,654.8h0M263.5,660h0M263.6,655h0M263.8,653.3h0M263.9,653.4h0M264,638.9h0M264.2,639.5h0M264.3,642h0M264.5,645.8h0M264.6,644.8h0M264.7,655.4h0M264.9,653.9h0M265,637.9h0M265.2,641.5h0M265.3,645.9h0M265.4,648.2h0M265.6,641.3h0M265.7,638.1h0M265.9,648.2h0M266,643.6h0M266.1,647.3h0M266.3,656h0M266.4,636.6h0M266.6,638.7h0M266.7,654.4h0M266.8,656.9h0M267,649.9h0M267.1,638.4h0M267.3,646.3h0M267.4,639.8h0M267.5,651.8h0M267.7,644.3h0M267.8,659.5h0M268,644.4h0M268.1,644.7h0M268.2,656.6h0M268.4,646.8h0M268.5,635.2h0M268.7,656.4h0M268.8,660.5h0M268.9,649h0M269.1,651.5h0M269.2,648h0M269.4,655.6h0M269.5,641.1h0M269.6,638.4h0M269.8,648.1h0M269.9,647.7h0M270.1,656h0M270.2,640.8h0M270.3,637.4h0M270.5,644.7h0M270.6,650.6h0M270.8,659.2h0M270.9,650.3h0M271,640.5h0M271.2,640.9h0M271.3,659.4h0M271.5,647.4h0M271.6,646.1h0M271.7,648h0M271.9,659h0M272,657.8h0M272.2,645.5h0M272.3,652.9h0M272.4,645.7h0M272.6,659.5h0M272.7,639.6h0M272.9,636.5h0M273,646.5h0M273.1,652.8h0M273.3,652.9h0M273.4,647.6h0M273.6,643.4h0M273.7,642.1h0M273.8,647.6h0M274,656.9h0M274.1,655.1h0M274.3,648.5h0M274.4,658h0M274.5,652.2h0M274.7,648.7h0M274.8,656.5h0M275,640.5h0M275.1,649.1h0" stroke="#dc7323" stroke-width="2.5" stroke-linecap="round" fill="none"/>
<line x1="30.9" y1="656" x2="30.9" y2="799" stroke="#000" stroke-width="2" />
<path d="M30.9,652.2 L27.9,658 L33.9,658 Z M30.9,802.8 L27.9,797 L33.9,797 Z" fill="#000"/>
<text transform="translate(24.3,731.2) rotate(-90)" font-size="14.5"><tspan font-style="italic">I</tspan><tspan font-size="10.3" dy="3.2">p</tspan></text>
<path d="M126.2,698.8 V744.1 H152.1" fill="none" stroke="#000" stroke-width="1.2"/>
<text transform="translate(125.3,713.9) rotate(-90)" font-size="14.8" text-anchor="middle">2 nA</text>
<text x="126.2" y="757.8" font-size="14.8" text-anchor="start" fill="#000" >0.2 ms</text>
<text x="297.2" y="383.1" font-size="13" text-anchor="start" fill="#000" font-weight="bold">E</text>
<path d="M372,444 V636" stroke="#000" stroke-width="1.4" fill="none"/><path d="M372,454.6 H350.8 V475.5 M350.8,480.9 V501.1 H372" stroke="#000" stroke-width="1.4" fill="none"/><path d="M344.9,475.5 H356.7 M344.9,480.9 H356.7" stroke="#000" stroke-width="1.4" fill="none"/><rect x="367.3" y="462.2" width="9.6" height="31.8" fill="#fff" stroke="#000" stroke-width="1.4"/><path d="M372,516.5 H350.8 V537.4 M350.8,542.8 V563 H372" stroke="#000" stroke-width="1.4" fill="none"/><path d="M344.9,537.4 H356.7 M344.9,542.8 H356.7" stroke="#000" stroke-width="1.4" fill="none"/><rect x="367.3" y="524.1" width="9.6" height="31.8" fill="#fff" stroke="#000" stroke-width="1.4"/><path d="M372,578.3 H350.8 V599.2 M350.8,604.6 V624.8 H372" stroke="#000" stroke-width="1.4" fill="none"/><path d="M344.9,599.2 H356.7 M344.9,604.6 H356.7" stroke="#000" stroke-width="1.4" fill="none"/><rect x="367.3" y="585.9" width="9.6" height="31.8" fill="#fff" stroke="#000" stroke-width="1.4"/>
<text x="380.5" y="484" font-size="13.6"><tspan font-style="italic">R</tspan><tspan font-size="10.5" dy="1.5">ele</tspan></text>
<text x="380.5" y="546.5" font-size="13.6"><tspan font-style="italic">R</tspan><tspan font-size="10.5" dy="1.5">pore</tspan></text>
<text x="380.5" y="608" font-size="13.6"><tspan font-style="italic">R</tspan><tspan font-size="10.5" dy="1.5">ele</tspan></text>
<path d="M354.4,409.5 H390.3 L372.3,438 Z" fill="#4d4d4d" stroke="#4d4d4d" stroke-width="13" stroke-linejoin="round"/>
<path d="M372.35,642.1 L390.3,670.9 H354.4 Z" fill="#4d4d4d" stroke="#4d4d4d" stroke-width="13" stroke-linejoin="round"/>
<text x="372" y="425.8" font-size="14.4" text-anchor="middle" fill="#fff" >Pt</text>
<text x="372" y="662.9" font-size="14.4" text-anchor="middle" fill="#fff" >Pt</text>
<circle cx="499.4" cy="650.3" r="4.1" fill="#737373"/><circle cx="507.5" cy="636.1" r="4.1" fill="#737373"/><circle cx="497.8" cy="655.4" r="4.1" fill="#737373"/><circle cx="496.7" cy="660.7" r="4.1" fill="#737373"/><circle cx="505.2" cy="662.3" r="4.1" fill="#737373"/><circle cx="508.2" cy="631.3" r="4.1" fill="#737373"/><circle cx="497.8" cy="664.7" r="4.1" fill="#737373"/><circle cx="501.7" cy="654.1" r="4.1" fill="#737373"/><circle cx="505" cy="632.2" r="4.1" fill="#737373"/><circle cx="506.7" cy="634.9" r="4.1" fill="#737373"/><circle cx="508.1" cy="650.6" r="4.1" fill="#737373"/><circle cx="505.2" cy="639.2" r="4.1" fill="#737373"/><circle cx="503.7" cy="642" r="4.1" fill="#737373"/><circle cx="505.8" cy="651.1" r="4.1" fill="#737373"/><circle cx="497.4" cy="655.4" r="4.1" fill="#737373"/><circle cx="506.3" cy="637.9" r="4.1" fill="#737373"/><circle cx="506.5" cy="658.8" r="4.1" fill="#737373"/><circle cx="504.5" cy="641.5" r="4.1" fill="#737373"/><circle cx="506.8" cy="628.1" r="4.1" fill="#737373"/><circle cx="505.5" cy="639.1" r="4.1" fill="#737373"/><circle cx="498.1" cy="651.8" r="4.1" fill="#737373"/><circle cx="507.2" cy="629.3" r="4.1" fill="#737373"/><circle cx="508" cy="657.1" r="4.1" fill="#737373"/><circle cx="498.2" cy="647.7" r="4.1" fill="#737373"/><circle cx="508" cy="629.3" r="4.1" fill="#737373"/><circle cx="498" cy="657.6" r="4.1" fill="#737373"/><circle cx="501.2" cy="644.2" r="4.1" fill="#737373"/><circle cx="504.8" cy="659.4" r="4.1" fill="#737373"/><circle cx="502.2" cy="665.9" r="4.1" fill="#737373"/><circle cx="507.7" cy="643.4" r="4.1" fill="#737373"/><circle cx="506.4" cy="642.5" r="4.1" fill="#737373"/><circle cx="504.7" cy="635.4" r="4.1" fill="#737373"/><circle cx="499.6" cy="652" r="4.1" fill="#737373"/><circle cx="501.5" cy="663" r="4.1" fill="#737373"/><circle cx="501.6" cy="665.9" r="4.1" fill="#737373"/><circle cx="502.3" cy="650.8" r="4.1" fill="#737373"/><circle cx="505.3" cy="634.4" r="4.1" fill="#737373"/><circle cx="502.8" cy="664.5" r="4.1" fill="#737373"/><circle cx="501" cy="659.1" r="4.1" fill="#737373"/><circle cx="507.3" cy="634.7" r="4.1" fill="#737373"/><circle cx="506.5" cy="644" r="4.1" fill="#737373"/><circle cx="506.2" cy="628.9" r="4.1" fill="#737373"/><circle cx="507.5" cy="654" r="4.1" fill="#737373"/><circle cx="508.2" cy="634.6" r="4.1" fill="#737373"/><circle cx="498.4" cy="655" r="4.1" fill="#737373"/><circle cx="507.9" cy="626.6" r="4.1" fill="#737373"/><circle cx="504.8" cy="655" r="4.1" fill="#737373"/><circle cx="500.5" cy="643.8" r="4.1" fill="#737373"/><circle cx="504.8" cy="646.6" r="4.1" fill="#737373"/><circle cx="508.2" cy="637.9" r="4.1" fill="#737373"/><circle cx="496.2" cy="659.3" r="4.1" fill="#737373"/><circle cx="507.8" cy="638.7" r="4.1" fill="#737373"/><circle cx="505.7" cy="658.1" r="4.1" fill="#737373"/><circle cx="507.7" cy="634.1" r="4.1" fill="#737373"/><circle cx="501" cy="654.3" r="4.1" fill="#737373"/><circle cx="507" cy="626.5" r="4.1" fill="#737373"/><circle cx="500.5" cy="633.5" r="4.1" fill="#737373"/>
<circle cx="536.7" cy="638.6" r="4.1" fill="#d400f8"/><circle cx="535.4" cy="647" r="4.1" fill="#d400f8"/><circle cx="539.9" cy="622.4" r="4.1" fill="#d400f8"/><circle cx="540.8" cy="628.3" r="4.1" fill="#d400f8"/><circle cx="537.9" cy="644.3" r="4.1" fill="#d400f8"/><circle cx="538.5" cy="626" r="4.1" fill="#d400f8"/><circle cx="537.9" cy="624.9" r="4.1" fill="#d400f8"/><circle cx="538" cy="612.5" r="4.1" fill="#d400f8"/><circle cx="538" cy="639.1" r="4.1" fill="#d400f8"/><circle cx="537.9" cy="624.9" r="4.1" fill="#d400f8"/><circle cx="537" cy="619" r="4.1" fill="#d400f8"/><circle cx="539.5" cy="618" r="4.1" fill="#d400f8"/><circle cx="537" cy="648.2" r="4.1" fill="#d400f8"/><circle cx="539.1" cy="625.5" r="4.1" fill="#d400f8"/><circle cx="537.1" cy="617.2" r="4.1" fill="#d400f8"/><circle cx="539.2" cy="614.4" r="4.1" fill="#d400f8"/><circle cx="536.5" cy="634.9" r="4.1" fill="#d400f8"/><circle cx="535.5" cy="648.8" r="4.1" fill="#d400f8"/><circle cx="539.3" cy="631.9" r="4.1" fill="#d400f8"/><circle cx="538" cy="613.2" r="4.1" fill="#d400f8"/><circle cx="539.4" cy="632.8" r="4.1" fill="#d400f8"/><circle cx="538.6" cy="638.6" r="4.1" fill="#d400f8"/><circle cx="537.1" cy="614.9" r="4.1" fill="#d400f8"/><circle cx="535.8" cy="645.6" r="4.1" fill="#d400f8"/><circle cx="540.6" cy="626.2" r="4.1" fill="#d400f8"/><circle cx="540.5" cy="613.7" r="4.1" fill="#d400f8"/><circle cx="537.4" cy="637.5" r="4.1" fill="#d400f8"/><circle cx="539" cy="621.4" r="4.1" fill="#d400f8"/><circle cx="536.1" cy="644.2" r="4.1" fill="#d400f8"/><circle cx="538.9" cy="621.6" r="4.1" fill="#d400f8"/><circle cx="537" cy="643.6" r="4.1" fill="#d400f8"/><circle cx="541.2" cy="628" r="4.1" fill="#d400f8"/><circle cx="539.9" cy="632.9" r="4.1" fill="#d400f8"/><circle cx="538.1" cy="638.3" r="4.1" fill="#d400f8"/><circle cx="539.6" cy="628.9" r="4.1" fill="#d400f8"/><circle cx="536.6" cy="601" r="4.1" fill="#d400f8"/><circle cx="537.5" cy="606" r="4.1" fill="#d400f8"/>
<circle cx="557.5" cy="628" r="4.1" fill="#dc7323"/><circle cx="557.6" cy="607.7" r="4.1" fill="#dc7323"/><circle cx="559.7" cy="627.2" r="4.1" fill="#dc7323"/><circle cx="561.6" cy="614.1" r="4.1" fill="#dc7323"/><circle cx="556" cy="632.4" r="4.1" fill="#dc7323"/><circle cx="562.6" cy="604.7" r="4.1" fill="#dc7323"/><circle cx="560" cy="614.5" r="4.1" fill="#dc7323"/><circle cx="556.9" cy="632" r="4.1" fill="#dc7323"/><circle cx="558.2" cy="598.6" r="4.1" fill="#dc7323"/><circle cx="562" cy="627.5" r="4.1" fill="#dc7323"/><circle cx="562.8" cy="607.6" r="4.1" fill="#dc7323"/><circle cx="558.7" cy="603.7" r="4.1" fill="#dc7323"/><circle cx="558.7" cy="604.2" r="4.1" fill="#dc7323"/><circle cx="556.7" cy="598.2" r="4.1" fill="#dc7323"/><circle cx="567" cy="614.3" r="4.1" fill="#dc7323"/><circle cx="561.3" cy="611.6" r="4.1" fill="#dc7323"/><circle cx="557.6" cy="603.4" r="4.1" fill="#dc7323"/><circle cx="564.2" cy="606.3" r="4.1" fill="#dc7323"/><circle cx="559.7" cy="602.6" r="4.1" fill="#dc7323"/><circle cx="566.4" cy="628" r="4.1" fill="#dc7323"/><circle cx="558.2" cy="623.4" r="4.1" fill="#dc7323"/><circle cx="560.6" cy="631.1" r="4.1" fill="#dc7323"/><circle cx="566.5" cy="617" r="4.1" fill="#dc7323"/><circle cx="557.7" cy="598.6" r="4.1" fill="#dc7323"/><circle cx="564.5" cy="625.4" r="4.1" fill="#dc7323"/><circle cx="563.3" cy="605" r="4.1" fill="#dc7323"/><circle cx="558.5" cy="606.6" r="4.1" fill="#dc7323"/><circle cx="566.1" cy="628.1" r="4.1" fill="#dc7323"/><circle cx="560.1" cy="607.5" r="4.1" fill="#dc7323"/><circle cx="561.7" cy="628.6" r="4.1" fill="#dc7323"/><circle cx="558.9" cy="606.2" r="4.1" fill="#dc7323"/><circle cx="564.9" cy="620.8" r="4.1" fill="#dc7323"/><circle cx="557.5" cy="609.1" r="4.1" fill="#dc7323"/><circle cx="559.6" cy="626.1" r="4.1" fill="#dc7323"/><circle cx="558.2" cy="606.9" r="4.1" fill="#dc7323"/><circle cx="556.8" cy="606.3" r="4.1" fill="#dc7323"/><circle cx="557.7" cy="611.9" r="4.1" fill="#dc7323"/><circle cx="557.1" cy="621.3" r="4.1" fill="#dc7323"/><circle cx="565.5" cy="610.8" r="4.1" fill="#dc7323"/><circle cx="566.1" cy="614.5" r="4.1" fill="#dc7323"/><circle cx="562.5" cy="606.2" r="4.1" fill="#dc7323"/><circle cx="560.4" cy="601.1" r="4.1" fill="#dc7323"/><circle cx="561.5" cy="632.6" r="4.1" fill="#dc7323"/><circle cx="562" cy="605.3" r="4.1" fill="#dc7323"/><circle cx="563.6" cy="627" r="4.1" fill="#dc7323"/><circle cx="559.1" cy="625.9" r="4.1" fill="#dc7323"/><circle cx="558.7" cy="626.1" r="4.1" fill="#dc7323"/><circle cx="560.5" cy="616.2" r="4.1" fill="#dc7323"/><circle cx="557.8" cy="605.7" r="4.1" fill="#dc7323"/><circle cx="556.5" cy="629.9" r="4.1" fill="#dc7323"/><circle cx="561.5" cy="615.7" r="4.1" fill="#dc7323"/><circle cx="556" cy="602" r="4.1" fill="#dc7323"/><circle cx="559.8" cy="613.7" r="4.1" fill="#dc7323"/><circle cx="558" cy="607.3" r="4.1" fill="#dc7323"/><circle cx="561.2" cy="606.2" r="4.1" fill="#dc7323"/><circle cx="556.9" cy="597.7" r="4.1" fill="#dc7323"/><circle cx="554.7" cy="642" r="4.1" fill="#dc7323"/><circle cx="564.2" cy="665" r="4.1" fill="#dc7323"/>
<circle cx="580.6" cy="608.6" r="4.1" fill="#6e6e14"/><circle cx="581.9" cy="585.2" r="4.1" fill="#6e6e14"/><circle cx="580.8" cy="581.4" r="4.1" fill="#6e6e14"/><circle cx="580.7" cy="595.3" r="4.1" fill="#6e6e14"/><circle cx="582" cy="569.2" r="4.1" fill="#6e6e14"/><circle cx="580.1" cy="604.6" r="4.1" fill="#6e6e14"/><circle cx="581.3" cy="605.1" r="4.1" fill="#6e6e14"/><circle cx="581.2" cy="602.7" r="4.1" fill="#6e6e14"/><circle cx="582" cy="597.8" r="4.1" fill="#6e6e14"/><circle cx="581.1" cy="576" r="4.1" fill="#6e6e14"/><circle cx="581.1" cy="592.1" r="4.1" fill="#6e6e14"/><circle cx="580.8" cy="590.1" r="4.1" fill="#6e6e14"/><circle cx="581.2" cy="608.7" r="4.1" fill="#6e6e14"/><circle cx="579.9" cy="593.7" r="4.1" fill="#6e6e14"/><circle cx="581.2" cy="580.2" r="4.1" fill="#6e6e14"/><circle cx="580.3" cy="609.2" r="4.1" fill="#6e6e14"/><circle cx="581.8" cy="589.5" r="4.1" fill="#6e6e14"/><circle cx="581.8" cy="594.2" r="4.1" fill="#6e6e14"/><circle cx="580.7" cy="583.6" r="4.1" fill="#6e6e14"/><circle cx="581.9" cy="578.2" r="4.1" fill="#6e6e14"/><circle cx="580.9" cy="590.1" r="4.1" fill="#6e6e14"/><circle cx="580.8" cy="606.2" r="4.1" fill="#6e6e14"/><circle cx="582" cy="577.6" r="4.1" fill="#6e6e14"/><circle cx="581.9" cy="592.6" r="4.1" fill="#6e6e14"/><circle cx="579.8" cy="591.7" r="4.1" fill="#6e6e14"/><circle cx="580.4" cy="588.6" r="4.1" fill="#6e6e14"/><circle cx="582.3" cy="578.5" r="4.1" fill="#6e6e14"/><circle cx="581.8" cy="608" r="4.1" fill="#6e6e14"/><circle cx="581.6" cy="578.5" r="4.1" fill="#6e6e14"/><circle cx="581.8" cy="603.9" r="4.1" fill="#6e6e14"/><circle cx="581.8" cy="571.3" r="4.1" fill="#6e6e14"/><circle cx="580.3" cy="593" r="4.1" fill="#6e6e14"/><circle cx="581.8" cy="569.8" r="4.1" fill="#6e6e14"/><circle cx="581.7" cy="590.9" r="4.1" fill="#6e6e14"/><circle cx="581.2" cy="598.9" r="4.1" fill="#6e6e14"/><circle cx="581.2" cy="593.2" r="4.1" fill="#6e6e14"/><circle cx="581.4" cy="601.2" r="4.1" fill="#6e6e14"/><circle cx="582.1" cy="596.6" r="4.1" fill="#6e6e14"/><circle cx="581.2" cy="573.8" r="4.1" fill="#6e6e14"/><circle cx="581" cy="590.5" r="4.1" fill="#6e6e14"/><circle cx="582.6" cy="569.4" r="4.1" fill="#6e6e14"/>
<circle cx="629.9" cy="543.8" r="4.1" fill="#2400f0"/><circle cx="634.1" cy="535.7" r="4.1" fill="#2400f0"/><circle cx="628.6" cy="520.3" r="4.1" fill="#2400f0"/><circle cx="630" cy="526.6" r="4.1" fill="#2400f0"/><circle cx="632.5" cy="518.7" r="4.1" fill="#2400f0"/><circle cx="633.3" cy="518.3" r="4.1" fill="#2400f0"/><circle cx="632.3" cy="533.6" r="4.1" fill="#2400f0"/><circle cx="629.8" cy="531.8" r="4.1" fill="#2400f0"/><circle cx="635.8" cy="532.1" r="4.1" fill="#2400f0"/><circle cx="629" cy="541.7" r="4.1" fill="#2400f0"/><circle cx="634.8" cy="523.4" r="4.1" fill="#2400f0"/><circle cx="631.6" cy="532.7" r="4.1" fill="#2400f0"/><circle cx="633.8" cy="541.2" r="4.1" fill="#2400f0"/><circle cx="630.3" cy="531.7" r="4.1" fill="#2400f0"/><circle cx="630.4" cy="545.7" r="4.1" fill="#2400f0"/><circle cx="629.5" cy="524.1" r="4.1" fill="#2400f0"/><circle cx="631.5" cy="545" r="4.1" fill="#2400f0"/><circle cx="630.1" cy="514.5" r="4.1" fill="#2400f0"/><circle cx="628.8" cy="544.4" r="4.1" fill="#2400f0"/><circle cx="633" cy="535.7" r="4.1" fill="#2400f0"/><circle cx="634.4" cy="529.5" r="4.1" fill="#2400f0"/><circle cx="634" cy="523.8" r="4.1" fill="#2400f0"/><circle cx="631.5" cy="542.7" r="4.1" fill="#2400f0"/><circle cx="633.6" cy="530.4" r="4.1" fill="#2400f0"/><circle cx="631.4" cy="518.5" r="4.1" fill="#2400f0"/><circle cx="632.7" cy="537.1" r="4.1" fill="#2400f0"/><circle cx="635.3" cy="516.1" r="4.1" fill="#2400f0"/><circle cx="630.4" cy="526.4" r="4.1" fill="#2400f0"/><circle cx="636" cy="517.2" r="4.1" fill="#2400f0"/><circle cx="630.6" cy="537.6" r="4.1" fill="#2400f0"/><circle cx="635.8" cy="518.7" r="4.1" fill="#2400f0"/><circle cx="632.8" cy="517.1" r="4.1" fill="#2400f0"/><circle cx="636.3" cy="535.4" r="4.1" fill="#2400f0"/><circle cx="629.1" cy="536" r="4.1" fill="#2400f0"/><circle cx="636.3" cy="530.2" r="4.1" fill="#2400f0"/><circle cx="629.3" cy="521.5" r="4.1" fill="#2400f0"/><circle cx="634.5" cy="514" r="4.1" fill="#2400f0"/><circle cx="630.5" cy="544.7" r="4.1" fill="#2400f0"/><circle cx="632" cy="522.7" r="4.1" fill="#2400f0"/><circle cx="632.3" cy="518.2" r="4.1" fill="#2400f0"/><circle cx="633" cy="528.5" r="4.1" fill="#2400f0"/><circle cx="636" cy="515.7" r="4.1" fill="#2400f0"/><circle cx="633.2" cy="533.9" r="4.1" fill="#2400f0"/><circle cx="628.6" cy="540.9" r="4.1" fill="#2400f0"/><circle cx="631.4" cy="532.5" r="4.1" fill="#2400f0"/><circle cx="636.5" cy="534.4" r="4.1" fill="#2400f0"/><circle cx="630.1" cy="514.4" r="4.1" fill="#2400f0"/><circle cx="633.1" cy="524.3" r="4.1" fill="#2400f0"/><circle cx="632.9" cy="541" r="4.1" fill="#2400f0"/><circle cx="629.8" cy="531.2" r="4.1" fill="#2400f0"/><circle cx="632.1" cy="529.6" r="4.1" fill="#2400f0"/><circle cx="635.6" cy="516" r="4.1" fill="#2400f0"/><circle cx="632" cy="541.4" r="4.1" fill="#2400f0"/><circle cx="633.7" cy="520.6" r="4.1" fill="#2400f0"/><circle cx="634.2" cy="523.3" r="4.1" fill="#2400f0"/><circle cx="636.5" cy="505.5" r="4.1" fill="#2400f0"/><circle cx="629.4" cy="508" r="4.1" fill="#2400f0"/>
<circle cx="663.7" cy="495.3" r="4.1" fill="#86ff2c"/><circle cx="672.8" cy="513" r="4.1" fill="#86ff2c"/><circle cx="669.5" cy="513.4" r="4.1" fill="#86ff2c"/><circle cx="665" cy="501.5" r="4.1" fill="#86ff2c"/><circle cx="674.7" cy="505" r="4.1" fill="#86ff2c"/><circle cx="656.4" cy="526.6" r="4.1" fill="#86ff2c"/><circle cx="654.4" cy="515.2" r="4.1" fill="#86ff2c"/><circle cx="674.3" cy="512.6" r="4.1" fill="#86ff2c"/><circle cx="667.6" cy="498.7" r="4.1" fill="#86ff2c"/><circle cx="674.9" cy="511.5" r="4.1" fill="#86ff2c"/><circle cx="671.2" cy="507.9" r="4.1" fill="#86ff2c"/><circle cx="669.5" cy="514.3" r="4.1" fill="#86ff2c"/><circle cx="663" cy="523" r="4.1" fill="#86ff2c"/><circle cx="666.1" cy="505.9" r="4.1" fill="#86ff2c"/><circle cx="666.6" cy="520.9" r="4.1" fill="#86ff2c"/><circle cx="662" cy="515.5" r="4.1" fill="#86ff2c"/><circle cx="655.2" cy="496.9" r="4.1" fill="#86ff2c"/><circle cx="660.7" cy="515.9" r="4.1" fill="#86ff2c"/><circle cx="662.8" cy="517" r="4.1" fill="#86ff2c"/><circle cx="657.5" cy="507.6" r="4.1" fill="#86ff2c"/><circle cx="657.2" cy="522.8" r="4.1" fill="#86ff2c"/><circle cx="655" cy="515.5" r="4.1" fill="#86ff2c"/><circle cx="655.1" cy="526.8" r="4.1" fill="#86ff2c"/><circle cx="670.9" cy="511.1" r="4.1" fill="#86ff2c"/><circle cx="667.2" cy="501.9" r="4.1" fill="#86ff2c"/><circle cx="674.2" cy="507.9" r="4.1" fill="#86ff2c"/><circle cx="656.8" cy="498.5" r="4.1" fill="#86ff2c"/><circle cx="667.8" cy="512.5" r="4.1" fill="#86ff2c"/><circle cx="656.8" cy="513.6" r="4.1" fill="#86ff2c"/><circle cx="654.4" cy="510.7" r="4.1" fill="#86ff2c"/><circle cx="659.2" cy="516.9" r="4.1" fill="#86ff2c"/><circle cx="658.5" cy="526.7" r="4.1" fill="#86ff2c"/><circle cx="653.2" cy="495.8" r="4.1" fill="#86ff2c"/><circle cx="658.8" cy="505.2" r="4.1" fill="#86ff2c"/><circle cx="663.8" cy="526.3" r="4.1" fill="#86ff2c"/><circle cx="658.7" cy="506.5" r="4.1" fill="#86ff2c"/><circle cx="655.3" cy="496.3" r="4.1" fill="#86ff2c"/><circle cx="654" cy="519.2" r="4.1" fill="#86ff2c"/><circle cx="659.6" cy="520.7" r="4.1" fill="#86ff2c"/><circle cx="664.5" cy="517.2" r="4.1" fill="#86ff2c"/><circle cx="667.6" cy="497.7" r="4.1" fill="#86ff2c"/><circle cx="654.7" cy="523.8" r="4.1" fill="#86ff2c"/><circle cx="663.9" cy="527" r="4.1" fill="#86ff2c"/><circle cx="667.2" cy="514.6" r="4.1" fill="#86ff2c"/><circle cx="657.1" cy="495.6" r="4.1" fill="#86ff2c"/><circle cx="665.6" cy="524.8" r="4.1" fill="#86ff2c"/><circle cx="664.8" cy="501.4" r="4.1" fill="#86ff2c"/><circle cx="657.1" cy="505.7" r="4.1" fill="#86ff2c"/><circle cx="664.3" cy="520.6" r="4.1" fill="#86ff2c"/><circle cx="665.3" cy="496.3" r="4.1" fill="#86ff2c"/><circle cx="654.7" cy="494.4" r="4.1" fill="#86ff2c"/><circle cx="653.8" cy="508.1" r="4.1" fill="#86ff2c"/><circle cx="668" cy="511.7" r="4.1" fill="#86ff2c"/><circle cx="668.3" cy="502.8" r="4.1" fill="#86ff2c"/><circle cx="654.6" cy="496.4" r="4.1" fill="#86ff2c"/><circle cx="653.6" cy="510.9" r="4.1" fill="#86ff2c"/><circle cx="668.3" cy="519.8" r="4.1" fill="#86ff2c"/><circle cx="666.7" cy="494.2" r="4.1" fill="#86ff2c"/><circle cx="673.6" cy="513.4" r="4.1" fill="#86ff2c"/><circle cx="667.8" cy="521.2" r="4.1" fill="#86ff2c"/><circle cx="666.2" cy="523.1" r="4.1" fill="#86ff2c"/><circle cx="668.5" cy="519.8" r="4.1" fill="#86ff2c"/><circle cx="668.2" cy="496.9" r="4.1" fill="#86ff2c"/><circle cx="659.8" cy="517.1" r="4.1" fill="#86ff2c"/><circle cx="655.5" cy="508.9" r="4.1" fill="#86ff2c"/><circle cx="668.7" cy="504.6" r="4.1" fill="#86ff2c"/><circle cx="673" cy="512.7" r="4.1" fill="#86ff2c"/><circle cx="658" cy="502.7" r="4.1" fill="#86ff2c"/><circle cx="669.8" cy="519.1" r="4.1" fill="#86ff2c"/><circle cx="661.7" cy="506.5" r="4.1" fill="#86ff2c"/><circle cx="657.3" cy="495.9" r="4.1" fill="#86ff2c"/><circle cx="667.2" cy="524.9" r="4.1" fill="#86ff2c"/><circle cx="671.8" cy="510.7" r="4.1" fill="#86ff2c"/><circle cx="667" cy="501.4" r="4.1" fill="#86ff2c"/><circle cx="658.1" cy="525.1" r="4.1" fill="#86ff2c"/><circle cx="667.7" cy="515.7" r="4.1" fill="#86ff2c"/><circle cx="658.2" cy="498.8" r="4.1" fill="#86ff2c"/><circle cx="658.3" cy="514.2" r="4.1" fill="#86ff2c"/><circle cx="656.3" cy="499.5" r="4.1" fill="#86ff2c"/><circle cx="660.7" cy="520.6" r="4.1" fill="#86ff2c"/><circle cx="666.6" cy="512.9" r="4.1" fill="#86ff2c"/><circle cx="667.5" cy="505.1" r="4.1" fill="#86ff2c"/><circle cx="655" cy="509.4" r="4.1" fill="#86ff2c"/><circle cx="664" cy="511.8" r="4.1" fill="#86ff2c"/><circle cx="670.9" cy="517.4" r="4.1" fill="#86ff2c"/><circle cx="664.1" cy="495.6" r="4.1" fill="#86ff2c"/><circle cx="661.8" cy="517.9" r="4.1" fill="#86ff2c"/><circle cx="668.7" cy="508.7" r="4.1" fill="#86ff2c"/><circle cx="662.1" cy="512.4" r="4.1" fill="#86ff2c"/><circle cx="664.7" cy="516.3" r="4.1" fill="#86ff2c"/><circle cx="659.8" cy="497" r="4.1" fill="#86ff2c"/><circle cx="655.4" cy="524.4" r="4.1" fill="#86ff2c"/><circle cx="667" cy="511.7" r="4.1" fill="#86ff2c"/><circle cx="656.9" cy="498.1" r="4.1" fill="#86ff2c"/><circle cx="666.2" cy="505" r="4.1" fill="#86ff2c"/><circle cx="668.1" cy="498.3" r="4.1" fill="#86ff2c"/><circle cx="668.1" cy="517.2" r="4.1" fill="#86ff2c"/><circle cx="664.9" cy="502.2" r="4.1" fill="#86ff2c"/><circle cx="659.7" cy="523.2" r="4.1" fill="#86ff2c"/><circle cx="661.7" cy="513.4" r="4.1" fill="#86ff2c"/><circle cx="664" cy="519.2" r="4.1" fill="#86ff2c"/><circle cx="669.8" cy="519.5" r="4.1" fill="#86ff2c"/><circle cx="662.6" cy="520.5" r="4.1" fill="#86ff2c"/><circle cx="664.3" cy="502.7" r="4.1" fill="#86ff2c"/><circle cx="666.7" cy="526.2" r="4.1" fill="#86ff2c"/><circle cx="666.2" cy="498.2" r="4.1" fill="#86ff2c"/><circle cx="654.9" cy="494.8" r="4.1" fill="#86ff2c"/><circle cx="655.1" cy="506.6" r="4.1" fill="#86ff2c"/><circle cx="662.7" cy="516.1" r="4.1" fill="#86ff2c"/><circle cx="671.7" cy="507.1" r="4.1" fill="#86ff2c"/><circle cx="668.8" cy="480.3" r="4.1" fill="#86ff2c"/><circle cx="657.3" cy="536.3" r="4.1" fill="#86ff2c"/><circle cx="659.5" cy="556.6" r="4.1" fill="#86ff2c"/>
<circle cx="721.7" cy="452.6" r="4.1" fill="#c8191c"/><circle cx="719.9" cy="448.5" r="4.1" fill="#c8191c"/><circle cx="724.9" cy="473.9" r="4.1" fill="#c8191c"/><circle cx="726.7" cy="456.1" r="4.1" fill="#c8191c"/><circle cx="721.4" cy="451.2" r="4.1" fill="#c8191c"/><circle cx="722.9" cy="433.9" r="4.1" fill="#c8191c"/><circle cx="722.4" cy="458.1" r="4.1" fill="#c8191c"/><circle cx="720" cy="457.8" r="4.1" fill="#c8191c"/><circle cx="726.1" cy="433.5" r="4.1" fill="#c8191c"/><circle cx="726.4" cy="456.1" r="4.1" fill="#c8191c"/><circle cx="721.9" cy="481.1" r="4.1" fill="#c8191c"/><circle cx="726.1" cy="458.6" r="4.1" fill="#c8191c"/><circle cx="727.1" cy="439.7" r="4.1" fill="#c8191c"/><circle cx="721.7" cy="453.3" r="4.1" fill="#c8191c"/><circle cx="725" cy="459.2" r="4.1" fill="#c8191c"/><circle cx="724.8" cy="480.6" r="4.1" fill="#c8191c"/><circle cx="722.8" cy="434.1" r="4.1" fill="#c8191c"/><circle cx="720" cy="451.6" r="4.1" fill="#c8191c"/><circle cx="723.4" cy="458" r="4.1" fill="#c8191c"/><circle cx="722.6" cy="462.4" r="4.1" fill="#c8191c"/><circle cx="725.3" cy="445.9" r="4.1" fill="#c8191c"/><circle cx="721.8" cy="435.3" r="4.1" fill="#c8191c"/><circle cx="721.1" cy="475.2" r="4.1" fill="#c8191c"/><circle cx="722.7" cy="441.2" r="4.1" fill="#c8191c"/><circle cx="721.7" cy="465.3" r="4.1" fill="#c8191c"/><circle cx="725.5" cy="470.5" r="4.1" fill="#c8191c"/><circle cx="727.7" cy="455.4" r="4.1" fill="#c8191c"/><circle cx="720.7" cy="475.8" r="4.1" fill="#c8191c"/><circle cx="721.1" cy="445.3" r="4.1" fill="#c8191c"/><circle cx="721.2" cy="473.3" r="4.1" fill="#c8191c"/><circle cx="720.3" cy="458.2" r="4.1" fill="#c8191c"/><circle cx="724" cy="482.9" r="4.1" fill="#c8191c"/><circle cx="726" cy="470.6" r="4.1" fill="#c8191c"/><circle cx="721.2" cy="453" r="4.1" fill="#c8191c"/><circle cx="724.4" cy="433" r="4.1" fill="#c8191c"/><circle cx="720" cy="484.7" r="4.1" fill="#c8191c"/><circle cx="724.9" cy="443.3" r="4.1" fill="#c8191c"/><circle cx="723.5" cy="436.3" r="4.1" fill="#c8191c"/><circle cx="721.3" cy="475.6" r="4.1" fill="#c8191c"/><circle cx="722.1" cy="449.7" r="4.1" fill="#c8191c"/><circle cx="727.3" cy="443.9" r="4.1" fill="#c8191c"/><circle cx="722.7" cy="487.1" r="4.1" fill="#c8191c"/><circle cx="722.1" cy="446.8" r="4.1" fill="#c8191c"/><circle cx="725.9" cy="472" r="4.1" fill="#c8191c"/><circle cx="720.6" cy="479.4" r="4.1" fill="#c8191c"/><circle cx="723.3" cy="443.5" r="4.1" fill="#c8191c"/><circle cx="726.6" cy="456.9" r="4.1" fill="#c8191c"/><circle cx="723.4" cy="437.1" r="4.1" fill="#c8191c"/><circle cx="727.1" cy="438.7" r="4.1" fill="#c8191c"/><circle cx="726.4" cy="473.2" r="4.1" fill="#c8191c"/><circle cx="724.3" cy="450.4" r="4.1" fill="#c8191c"/><circle cx="719.9" cy="483.4" r="4.1" fill="#c8191c"/><circle cx="724.9" cy="478.4" r="4.1" fill="#c8191c"/><circle cx="726.2" cy="457.2" r="4.1" fill="#c8191c"/><circle cx="721" cy="476" r="4.1" fill="#c8191c"/><circle cx="724.1" cy="488.1" r="4.1" fill="#c8191c"/><circle cx="728.5" cy="446.9" r="4.1" fill="#c8191c"/><circle cx="724" cy="463.6" r="4.1" fill="#c8191c"/><circle cx="726.3" cy="476.9" r="4.1" fill="#c8191c"/><circle cx="721" cy="446.9" r="4.1" fill="#c8191c"/><circle cx="725.7" cy="429.4" r="4.1" fill="#c8191c"/><circle cx="728.5" cy="434" r="4.1" fill="#c8191c"/><circle cx="720.4" cy="542.5" r="4.1" fill="#c8191c"/><circle cx="719.5" cy="489" r="4.1" fill="#c8191c"/><circle cx="722" cy="490" r="4.1" fill="#c8191c"/><circle cx="724.5" cy="486" r="4.1" fill="#c8191c"/>
<path d="M349.5,778.9 L353.6,785.8 L345.4,785.8 Z" fill="none" stroke="#d400f8" stroke-width="1.45"/><path d="M350.2,781.3 L354.3,788.2 L346.1,788.2 Z" fill="none" stroke="#d400f8" stroke-width="1.45"/><path d="M352.5,781.7 L356.6,788.6 L348.4,788.6 Z" fill="none" stroke="#d400f8" stroke-width="1.45"/><path d="M355.5,779.2 L359.6,786.1 L351.4,786.1 Z" fill="none" stroke="#d400f8" stroke-width="1.45"/><path d="M358.5,778.2 L362.6,785.1 L354.4,785.1 Z" fill="none" stroke="#d400f8" stroke-width="1.45"/><path d="M362.5,776.7 L366.6,783.6 L358.4,783.6 Z" fill="none" stroke="#d400f8" stroke-width="1.45"/><path d="M366.5,770.9 L370.6,777.8 L362.4,777.8 Z" fill="none" stroke="#d400f8" stroke-width="1.45"/><path d="M351,776.7 L355.1,783.6 L346.9,783.6 Z" fill="none" stroke="#d400f8" stroke-width="1.45"/><path d="M363,772.7 L367.1,779.6 L358.9,779.6 Z" fill="none" stroke="#d400f8" stroke-width="1.45"/>
<path d="M373.7,774.1 L377.8,781 L369.6,781 Z" fill="none" stroke="#737373" stroke-width="1.45"/><path d="M377,768.5 L381.1,775.4 L372.9,775.4 Z" fill="none" stroke="#737373" stroke-width="1.45"/><path d="M380.2,762.8 L384.3,769.7 L376.1,769.7 Z" fill="none" stroke="#737373" stroke-width="1.45"/><path d="M385,760.4 L389.1,767.3 L380.9,767.3 Z" fill="none" stroke="#737373" stroke-width="1.45"/><path d="M388.2,762.8 L392.3,769.7 L384.1,769.7 Z" fill="none" stroke="#737373" stroke-width="1.45"/><path d="M391.4,750 L395.5,756.9 L387.3,756.9 Z" fill="none" stroke="#737373" stroke-width="1.45"/><path d="M396.2,748.4 L400.3,755.3 L392.1,755.3 Z" fill="none" stroke="#737373" stroke-width="1.45"/><path d="M365.7,775.7 L369.8,782.6 L361.6,782.6 Z" fill="none" stroke="#737373" stroke-width="1.45"/><path d="M362.5,777.3 L366.6,784.2 L358.4,784.2 Z" fill="none" stroke="#737373" stroke-width="1.45"/><path d="M369,773.7 L373.1,780.6 L364.9,780.6 Z" fill="none" stroke="#737373" stroke-width="1.45"/><path d="M383,765.7 L387.1,772.6 L378.9,772.6 Z" fill="none" stroke="#737373" stroke-width="1.45"/><path d="M393,755.7 L397.1,762.6 L388.9,762.6 Z" fill="none" stroke="#737373" stroke-width="1.45"/><path d="M404.1,749.2 L408.2,756.1 L400,756.1 Z" fill="none" stroke="#737373" stroke-width="1.45"/><path d="M393.4,751.9 L397.5,758.8 L389.3,758.8 Z" fill="none" stroke="#737373" stroke-width="1.45"/><path d="M400,745.7 L404.1,752.6 L395.9,752.6 Z" fill="none" stroke="#737373" stroke-width="1.45"/><path d="M408,740.7 L412.1,747.6 L403.9,747.6 Z" fill="none" stroke="#737373" stroke-width="1.45"/><path d="M412,737.7 L416.1,744.6 L407.9,744.6 Z" fill="none" stroke="#737373" stroke-width="1.45"/><path d="M420.7,731.3 L424.8,738.2 L416.6,738.2 Z" fill="none" stroke="#737373" stroke-width="1.45"/><path d="M431.1,724.9 L435.2,731.8 L427,731.8 Z" fill="none" stroke="#737373" stroke-width="1.45"/><path d="M436,720.9 L440.1,727.8 L431.9,727.8 Z" fill="none" stroke="#737373" stroke-width="1.45"/><path d="M443.2,708.8 L447.3,715.7 L439.1,715.7 Z" fill="none" stroke="#737373" stroke-width="1.45"/><path d="M426,728.7 L430.1,735.6 L421.9,735.6 Z" fill="none" stroke="#737373" stroke-width="1.45"/><path d="M439,714.7 L443.1,721.6 L434.9,721.6 Z" fill="none" stroke="#737373" stroke-width="1.45"/><path d="M416,735.7 L420.1,742.6 L411.9,742.6 Z" fill="none" stroke="#737373" stroke-width="1.45"/><path d="M398,753.7 L402.1,760.6 L393.9,760.6 Z" fill="none" stroke="#737373" stroke-width="1.45"/><path d="M388,757.7 L392.1,764.6 L383.9,764.6 Z" fill="none" stroke="#737373" stroke-width="1.45"/><path d="M371,770.7 L375.1,777.6 L366.9,777.6 Z" fill="none" stroke="#737373" stroke-width="1.45"/><path d="M377,763.7 L381.1,770.6 L372.9,770.6 Z" fill="none" stroke="#737373" stroke-width="1.45"/><path d="M403,742.7 L407.1,749.6 L398.9,749.6 Z" fill="none" stroke="#737373" stroke-width="1.45"/><path d="M409,736.7 L413.1,743.6 L404.9,743.6 Z" fill="none" stroke="#737373" stroke-width="1.45"/>
<path d="M396.2,745.2 L400.3,752.1 L392.1,752.1 Z" fill="none" stroke="#2400f0" stroke-width="1.45"/><path d="M446.4,688.7 L450.5,695.6 L442.3,695.6 Z" fill="none" stroke="#2400f0" stroke-width="1.45"/><path d="M430.3,695.2 L434.4,702.1 L426.2,702.1 Z" fill="none" stroke="#2400f0" stroke-width="1.45"/><path d="M437.6,698.4 L441.7,705.3 L433.5,705.3 Z" fill="none" stroke="#2400f0" stroke-width="1.45"/><path d="M419.9,707.2 L424,714.1 L415.8,714.1 Z" fill="none" stroke="#2400f0" stroke-width="1.45"/><path d="M429.5,709.6 L433.6,716.5 L425.4,716.5 Z" fill="none" stroke="#2400f0" stroke-width="1.45"/><path d="M433.6,706.4 L437.7,713.3 L429.5,713.3 Z" fill="none" stroke="#2400f0" stroke-width="1.45"/><path d="M403,718.5 L407.1,725.4 L398.9,725.4 Z" fill="none" stroke="#2400f0" stroke-width="1.45"/><path d="M409.5,713.6 L413.6,720.5 L405.4,720.5 Z" fill="none" stroke="#2400f0" stroke-width="1.45"/><path d="M430.3,715.2 L434.4,722.1 L426.2,722.1 Z" fill="none" stroke="#2400f0" stroke-width="1.45"/><path d="M431.1,720.1 L435.2,727 L427,727 Z" fill="none" stroke="#2400f0" stroke-width="1.45"/><path d="M416.7,716.8 L420.8,723.7 L412.6,723.7 Z" fill="none" stroke="#2400f0" stroke-width="1.45"/><path d="M419.1,720.9 L423.2,727.8 L415,727.8 Z" fill="none" stroke="#2400f0" stroke-width="1.45"/><path d="M399.8,726.9 L403.9,733.8 L395.7,733.8 Z" fill="none" stroke="#2400f0" stroke-width="1.45"/><path d="M412.7,730.5 L416.8,737.4 L408.6,737.4 Z" fill="none" stroke="#2400f0" stroke-width="1.45"/><path d="M421.5,727.3 L425.6,734.2 L417.4,734.2 Z" fill="none" stroke="#2400f0" stroke-width="1.45"/><path d="M406,723.7 L410.1,730.6 L401.9,730.6 Z" fill="none" stroke="#2400f0" stroke-width="1.45"/><path d="M414,722.7 L418.1,729.6 L409.9,729.6 Z" fill="none" stroke="#2400f0" stroke-width="1.45"/><path d="M424,717.7 L428.1,724.6 L419.9,724.6 Z" fill="none" stroke="#2400f0" stroke-width="1.45"/><path d="M411,726.7 L415.1,733.6 L406.9,733.6 Z" fill="none" stroke="#2400f0" stroke-width="1.45"/><path d="M426,711.7 L430.1,718.6 L421.9,718.6 Z" fill="none" stroke="#2400f0" stroke-width="1.45"/><path d="M401,732.7 L405.1,739.6 L396.9,739.6 Z" fill="none" stroke="#2400f0" stroke-width="1.45"/><path d="M407,734.7 L411.1,741.6 L402.9,741.6 Z" fill="none" stroke="#2400f0" stroke-width="1.45"/><path d="M440,701.7 L444.1,708.6 L435.9,708.6 Z" fill="none" stroke="#2400f0" stroke-width="1.45"/><path d="M426,701.7 L430.1,708.6 L421.9,708.6 Z" fill="none" stroke="#2400f0" stroke-width="1.45"/>
<path d="M365.7,765.2 L369.8,772.1 L361.6,772.1 Z" fill="none" stroke="#86ff2c" stroke-width="1.45"/><path d="M366.5,758 L370.6,764.9 L362.4,764.9 Z" fill="none" stroke="#86ff2c" stroke-width="1.45"/><path d="M367.3,751.6 L371.4,758.5 L363.2,758.5 Z" fill="none" stroke="#86ff2c" stroke-width="1.45"/><path d="M372.9,748.4 L377,755.3 L368.8,755.3 Z" fill="none" stroke="#86ff2c" stroke-width="1.45"/><path d="M375.3,750.8 L379.4,757.7 L371.2,757.7 Z" fill="none" stroke="#86ff2c" stroke-width="1.45"/><path d="M379.4,752.4 L383.5,759.3 L375.3,759.3 Z" fill="none" stroke="#86ff2c" stroke-width="1.45"/><path d="M385.8,739.9 L389.9,746.8 L381.7,746.8 Z" fill="none" stroke="#86ff2c" stroke-width="1.45"/><path d="M393,739.9 L397.1,746.8 L388.9,746.8 Z" fill="none" stroke="#86ff2c" stroke-width="1.45"/><path d="M396.2,734.7 L400.3,741.6 L392.1,741.6 Z" fill="none" stroke="#86ff2c" stroke-width="1.45"/><path d="M398.6,732.3 L402.7,739.2 L394.5,739.2 Z" fill="none" stroke="#86ff2c" stroke-width="1.45"/><path d="M403,728.9 L407.1,735.8 L398.9,735.8 Z" fill="none" stroke="#86ff2c" stroke-width="1.45"/><path d="M399.8,736.1 L403.9,743 L395.7,743 Z" fill="none" stroke="#86ff2c" stroke-width="1.45"/><path d="M370,755.7 L374.1,762.6 L365.9,762.6 Z" fill="none" stroke="#86ff2c" stroke-width="1.45"/><path d="M362.5,761.7 L366.6,768.6 L358.4,768.6 Z" fill="none" stroke="#86ff2c" stroke-width="1.45"/><path d="M369,760.7 L373.1,767.6 L364.9,767.6 Z" fill="none" stroke="#86ff2c" stroke-width="1.45"/><path d="M389,736.7 L393.1,743.6 L384.9,743.6 Z" fill="none" stroke="#86ff2c" stroke-width="1.45"/><path d="M411.1,720.1 L415.2,727 L407,727 Z" fill="none" stroke="#86ff2c" stroke-width="1.45"/><path d="M413.5,724.9 L417.6,731.8 L409.4,731.8 Z" fill="none" stroke="#86ff2c" stroke-width="1.45"/><path d="M422.3,724.1 L426.4,731 L418.2,731 Z" fill="none" stroke="#86ff2c" stroke-width="1.45"/><path d="M439.2,688.7 L443.3,695.6 L435.1,695.6 Z" fill="none" stroke="#86ff2c" stroke-width="1.45"/><path d="M452,687.5 L456.1,694.4 L447.9,694.4 Z" fill="none" stroke="#86ff2c" stroke-width="1.45"/><path d="M441.6,701.6 L445.7,708.5 L437.5,708.5 Z" fill="none" stroke="#86ff2c" stroke-width="1.45"/><path d="M470.4,678.9 L474.5,685.8 L466.3,685.8 Z" fill="none" stroke="#86ff2c" stroke-width="1.45"/><path d="M489,665.3 L493.1,672.2 L484.9,672.2 Z" fill="none" stroke="#86ff2c" stroke-width="1.45"/><path d="M509,650.7 L513.1,657.6 L504.9,657.6 Z" fill="none" stroke="#86ff2c" stroke-width="1.45"/><path d="M513.5,648.2 L517.6,655.1 L509.4,655.1 Z" fill="none" stroke="#86ff2c" stroke-width="1.45"/><path d="M356.5,765.7 L360.6,772.6 L352.4,772.6 Z" fill="none" stroke="#86ff2c" stroke-width="1.45"/><path d="M360,768.7 L364.1,775.6 L355.9,775.6 Z" fill="none" stroke="#86ff2c" stroke-width="1.45"/><path d="M377,743.7 L381.1,750.6 L372.9,750.6 Z" fill="none" stroke="#86ff2c" stroke-width="1.45"/><path d="M390,742.7 L394.1,749.6 L385.9,749.6 Z" fill="none" stroke="#86ff2c" stroke-width="1.45"/>
<path d="M350.4,770.9 L354.5,777.8 L346.3,777.8 Z" fill="none" stroke="#dc7323" stroke-width="1.45"/><path d="M354.5,768.5 L358.6,775.4 L350.4,775.4 Z" fill="none" stroke="#dc7323" stroke-width="1.45"/><path d="M357.3,762.8 L361.4,769.7 L353.2,769.7 Z" fill="none" stroke="#dc7323" stroke-width="1.45"/><path d="M359.3,766 L363.4,772.9 L355.2,772.9 Z" fill="none" stroke="#dc7323" stroke-width="1.45"/><path d="M352,773.2 L356.1,780.1 L347.9,780.1 Z" fill="none" stroke="#dc7323" stroke-width="1.45"/><path d="M356,770.7 L360.1,777.6 L351.9,777.6 Z" fill="none" stroke="#dc7323" stroke-width="1.45"/><path d="M347.5,773.7 L351.6,780.6 L343.4,780.6 Z" fill="none" stroke="#dc7323" stroke-width="1.45"/><path d="M376.5,743.6 L380.6,750.5 L372.4,750.5 Z" fill="none" stroke="#dc7323" stroke-width="1.45"/><path d="M380.2,748.4 L384.3,755.3 L376.1,755.3 Z" fill="none" stroke="#dc7323" stroke-width="1.45"/><path d="M385,750.8 L389.1,757.7 L380.9,757.7 Z" fill="none" stroke="#dc7323" stroke-width="1.45"/><path d="M386.6,753.2 L390.7,760.1 L382.5,760.1 Z" fill="none" stroke="#dc7323" stroke-width="1.45"/><path d="M375.3,759.2 L379.4,766.1 L371.2,766.1 Z" fill="none" stroke="#dc7323" stroke-width="1.45"/><path d="M383,746.7 L387.1,753.6 L378.9,753.6 Z" fill="none" stroke="#dc7323" stroke-width="1.45"/><path d="M446.4,701.6 L450.5,708.5 L442.3,708.5 Z" fill="none" stroke="#dc7323" stroke-width="1.45"/>
<path d="M514.1,691.2 L518.2,698.1 L510,698.1 Z" fill="none" stroke="#6e6e14" stroke-width="1.45"/><path d="M511.7,692.1 L515.8,699.1 L507.6,699.1 Z" fill="none" stroke="#6e6e14" stroke-width="1.45"/><path d="M514.5,694.4 L518.6,701.4 L510.4,701.4 Z" fill="none" stroke="#6e6e14" stroke-width="1.45"/><path d="M513,699.6 L517.1,706.6 L508.9,706.6 Z" fill="none" stroke="#6e6e14" stroke-width="1.45"/><path d="M507,694.3 L511.1,701.2 L502.9,701.2 Z" fill="none" stroke="#6e6e14" stroke-width="1.45"/><path d="M512.1,682.4 L516.2,689.3 L508,689.3 Z" fill="none" stroke="#6e6e14" stroke-width="1.45"/><path d="M508.4,681.4 L512.5,688.4 L504.3,688.4 Z" fill="none" stroke="#6e6e14" stroke-width="1.45"/><path d="M510.5,699.8 L514.6,706.8 L506.4,706.8 Z" fill="none" stroke="#6e6e14" stroke-width="1.45"/><path d="M509.1,702.4 L513.2,709.3 L505,709.3 Z" fill="none" stroke="#6e6e14" stroke-width="1.45"/><path d="M507.6,688.6 L511.7,695.6 L503.5,695.6 Z" fill="none" stroke="#6e6e14" stroke-width="1.45"/><path d="M509,704.6 L513.1,711.5 L504.9,711.5 Z" fill="none" stroke="#6e6e14" stroke-width="1.45"/><path d="M508.4,701.8 L512.5,708.8 L504.3,708.8 Z" fill="none" stroke="#6e6e14" stroke-width="1.45"/><path d="M511.4,686.7 L515.5,693.7 L507.3,693.7 Z" fill="none" stroke="#6e6e14" stroke-width="1.45"/><path d="M510.6,683.1 L514.7,690.1 L506.5,690.1 Z" fill="none" stroke="#6e6e14" stroke-width="1.45"/><path d="M512.2,697 L516.3,704 L508.1,704 Z" fill="none" stroke="#6e6e14" stroke-width="1.45"/><path d="M510.8,700.3 L514.9,707.2 L506.7,707.2 Z" fill="none" stroke="#6e6e14" stroke-width="1.45"/><path d="M513.5,697.2 L517.6,704.2 L509.4,704.2 Z" fill="none" stroke="#6e6e14" stroke-width="1.45"/><path d="M513.4,690.8 L517.5,697.8 L509.3,697.8 Z" fill="none" stroke="#6e6e14" stroke-width="1.45"/><path d="M508.3,693.4 L512.4,700.4 L504.2,700.4 Z" fill="none" stroke="#6e6e14" stroke-width="1.45"/><path d="M510.9,683.5 L515,690.5 L506.8,690.5 Z" fill="none" stroke="#6e6e14" stroke-width="1.45"/><path d="M512.9,691.2 L517,698.2 L508.8,698.2 Z" fill="none" stroke="#6e6e14" stroke-width="1.45"/><path d="M512.7,684.6 L516.8,691.6 L508.6,691.6 Z" fill="none" stroke="#6e6e14" stroke-width="1.45"/><path d="M509,682.1 L513.1,689.1 L504.9,689.1 Z" fill="none" stroke="#6e6e14" stroke-width="1.45"/><path d="M514.7,697.6 L518.8,704.6 L510.6,704.6 Z" fill="none" stroke="#6e6e14" stroke-width="1.45"/><path d="M509.6,681 L513.7,688 L505.5,688 Z" fill="none" stroke="#6e6e14" stroke-width="1.45"/><path d="M509.9,700 L514,706.9 L505.8,706.9 Z" fill="none" stroke="#6e6e14" stroke-width="1.45"/><path d="M514.6,684 L518.7,691 L510.5,691 Z" fill="none" stroke="#6e6e14" stroke-width="1.45"/><path d="M514.9,684.9 L519,691.9 L510.8,691.9 Z" fill="none" stroke="#6e6e14" stroke-width="1.45"/><path d="M521.8,670.2 L525.9,677.1 L517.7,677.1 Z" fill="none" stroke="#6e6e14" stroke-width="1.45"/><path d="M527.2,664.5 L531.3,671.4 L523.1,671.4 Z" fill="none" stroke="#6e6e14" stroke-width="1.45"/><path d="M533.3,660.7 L537.4,667.6 L529.2,667.6 Z" fill="none" stroke="#6e6e14" stroke-width="1.45"/><path d="M533.3,668.3 L537.4,675.2 L529.2,675.2 Z" fill="none" stroke="#6e6e14" stroke-width="1.45"/><path d="M533.3,673.7 L537.4,680.6 L529.2,680.6 Z" fill="none" stroke="#6e6e14" stroke-width="1.45"/><path d="M523.3,682.9 L527.4,689.8 L519.2,689.8 Z" fill="none" stroke="#6e6e14" stroke-width="1.45"/><path d="M518,679.8 L522.1,686.7 L513.9,686.7 Z" fill="none" stroke="#6e6e14" stroke-width="1.45"/><path d="M516,685.7 L520.1,692.6 L511.9,692.6 Z" fill="none" stroke="#6e6e14" stroke-width="1.45"/><path d="M520,677.7 L524.1,684.6 L515.9,684.6 Z" fill="none" stroke="#6e6e14" stroke-width="1.45"/><path d="M525,671.7 L529.1,678.6 L520.9,678.6 Z" fill="none" stroke="#6e6e14" stroke-width="1.45"/><path d="M511,679.7 L515.1,686.6 L506.9,686.6 Z" fill="none" stroke="#6e6e14" stroke-width="1.45"/><path d="M516,692.7 L520.1,699.6 L511.9,699.6 Z" fill="none" stroke="#6e6e14" stroke-width="1.45"/>
<path d="M521.5,609.1 L525.6,616.1 L517.4,616.1 Z" fill="none" stroke="#c8191c" stroke-width="1.45"/><path d="M521,612.7 L525.1,619.6 L516.9,619.6 Z" fill="none" stroke="#c8191c" stroke-width="1.45"/><path d="M527.2,622.1 L531.3,629.1 L523.1,629.1 Z" fill="none" stroke="#c8191c" stroke-width="1.45"/><path d="M543.5,608.5 L547.6,615.5 L539.4,615.5 Z" fill="none" stroke="#c8191c" stroke-width="1.45"/><path d="M542.2,609.9 L546.3,616.9 L538.1,616.9 Z" fill="none" stroke="#c8191c" stroke-width="1.45"/><path d="M540.1,607.5 L544.2,614.5 L536,614.5 Z" fill="none" stroke="#c8191c" stroke-width="1.45"/><path d="M528.3,613.8 L532.4,620.8 L524.2,620.8 Z" fill="none" stroke="#c8191c" stroke-width="1.45"/><path d="M530.8,625.9 L534.9,632.9 L526.7,632.9 Z" fill="none" stroke="#c8191c" stroke-width="1.45"/><path d="M531.3,623.9 L535.4,630.8 L527.2,630.8 Z" fill="none" stroke="#c8191c" stroke-width="1.45"/><path d="M526.6,615.6 L530.7,622.6 L522.5,622.6 Z" fill="none" stroke="#c8191c" stroke-width="1.45"/><path d="M523.7,610.2 L527.8,617.1 L519.6,617.1 Z" fill="none" stroke="#c8191c" stroke-width="1.45"/><path d="M544.8,608.6 L548.9,615.6 L540.7,615.6 Z" fill="none" stroke="#c8191c" stroke-width="1.45"/><path d="M521.1,617.3 L525.2,624.3 L517,624.3 Z" fill="none" stroke="#c8191c" stroke-width="1.45"/><path d="M522.1,617.7 L526.2,624.7 L518,624.7 Z" fill="none" stroke="#c8191c" stroke-width="1.45"/><path d="M532.7,610.9 L536.8,617.8 L528.6,617.8 Z" fill="none" stroke="#c8191c" stroke-width="1.45"/><path d="M538.9,609 L543,616 L534.8,616 Z" fill="none" stroke="#c8191c" stroke-width="1.45"/><path d="M535.8,609.6 L539.9,616.6 L531.7,616.6 Z" fill="none" stroke="#c8191c" stroke-width="1.45"/><path d="M543.9,607.5 L548,614.5 L539.8,614.5 Z" fill="none" stroke="#c8191c" stroke-width="1.45"/><path d="M520.5,620.5 L524.6,627.5 L516.4,627.5 Z" fill="none" stroke="#c8191c" stroke-width="1.45"/><path d="M528.9,619.2 L533,626.1 L524.8,626.1 Z" fill="none" stroke="#c8191c" stroke-width="1.45"/><path d="M522.2,608.2 L526.3,615.1 L518.1,615.1 Z" fill="none" stroke="#c8191c" stroke-width="1.45"/><path d="M530.8,626.1 L534.9,633 L526.7,633 Z" fill="none" stroke="#c8191c" stroke-width="1.45"/><path d="M522.6,630.9 L526.7,637.9 L518.5,637.9 Z" fill="none" stroke="#c8191c" stroke-width="1.45"/><path d="M522.7,628.4 L526.8,635.4 L518.6,635.4 Z" fill="none" stroke="#c8191c" stroke-width="1.45"/><path d="M529.7,610 L533.8,617 L525.6,617 Z" fill="none" stroke="#c8191c" stroke-width="1.45"/><path d="M545.3,606.4 L549.4,613.4 L541.2,613.4 Z" fill="none" stroke="#c8191c" stroke-width="1.45"/><path d="M526.9,620.4 L531,627.4 L522.8,627.4 Z" fill="none" stroke="#c8191c" stroke-width="1.45"/><path d="M525,621 L529.1,628 L520.9,628 Z" fill="none" stroke="#c8191c" stroke-width="1.45"/><path d="M525.7,629.6 L529.8,636.6 L521.6,636.6 Z" fill="none" stroke="#c8191c" stroke-width="1.45"/><path d="M528.8,626.2 L532.9,633.2 L524.7,633.2 Z" fill="none" stroke="#c8191c" stroke-width="1.45"/><path d="M524.1,631.6 L528.2,638.6 L520,638.6 Z" fill="none" stroke="#c8191c" stroke-width="1.45"/><path d="M530.5,626.1 L534.6,633.1 L526.4,633.1 Z" fill="none" stroke="#c8191c" stroke-width="1.45"/><path d="M521.9,613.9 L526,620.8 L517.8,620.8 Z" fill="none" stroke="#c8191c" stroke-width="1.45"/><path d="M530.1,625.3 L534.2,632.3 L526,632.3 Z" fill="none" stroke="#c8191c" stroke-width="1.45"/><path d="M542.2,612.5 L546.3,619.5 L538.1,619.5 Z" fill="none" stroke="#c8191c" stroke-width="1.45"/><path d="M521.8,630.2 L525.9,637.2 L517.7,637.2 Z" fill="none" stroke="#c8191c" stroke-width="1.45"/><path d="M521.6,622.3 L525.7,629.3 L517.5,629.3 Z" fill="none" stroke="#c8191c" stroke-width="1.45"/><path d="M534.3,610.3 L538.4,617.2 L530.2,617.2 Z" fill="none" stroke="#c8191c" stroke-width="1.45"/><path d="M534.5,614.1 L538.6,621.1 L530.4,621.1 Z" fill="none" stroke="#c8191c" stroke-width="1.45"/><path d="M525.9,621.6 L530,628.6 L521.8,628.6 Z" fill="none" stroke="#c8191c" stroke-width="1.45"/><path d="M551.3,593 L555.4,599.9 L547.2,599.9 Z" fill="none" stroke="#c8191c" stroke-width="1.45"/><path d="M521.5,604.7 L525.6,611.6 L517.4,611.6 Z" fill="none" stroke="#c8191c" stroke-width="1.45"/><path d="M528.4,604.7 L532.5,611.6 L524.3,611.6 Z" fill="none" stroke="#c8191c" stroke-width="1.45"/><path d="M533,604.7 L537.1,611.6 L528.9,611.6 Z" fill="none" stroke="#c8191c" stroke-width="1.45"/><path d="M539.1,604.7 L543.2,611.6 L535,611.6 Z" fill="none" stroke="#c8191c" stroke-width="1.45"/><path d="M543.7,604.7 L547.8,611.6 L539.6,611.6 Z" fill="none" stroke="#c8191c" stroke-width="1.45"/><path d="M549.8,608.3 L553.9,615.2 L545.7,615.2 Z" fill="none" stroke="#c8191c" stroke-width="1.45"/><path d="M520.7,609.8 L524.8,616.7 L516.6,616.7 Z" fill="none" stroke="#c8191c" stroke-width="1.45"/><path d="M520.7,616.7 L524.8,623.6 L516.6,623.6 Z" fill="none" stroke="#c8191c" stroke-width="1.45"/><path d="M520.7,626.7 L524.8,633.6 L516.6,633.6 Z" fill="none" stroke="#c8191c" stroke-width="1.45"/><path d="M520.7,635.8 L524.8,642.7 L516.6,642.7 Z" fill="none" stroke="#c8191c" stroke-width="1.45"/>
<rect x="332.4" y="385.5" width="402.2" height="422.9" fill="none" stroke="#000" stroke-width="1.6"/>
<text x="328.2" y="812.5" font-size="13.6" text-anchor="end" fill="#000" >0</text>
<line x1="332.4" y1="737.9" x2="337.4" y2="737.9" stroke="#000" stroke-width="1.6" />
<text x="328.2" y="742" font-size="13.6" text-anchor="end" fill="#000" >3</text>
<line x1="332.4" y1="667.5" x2="337.4" y2="667.5" stroke="#000" stroke-width="1.6" />
<text x="328.2" y="671.6" font-size="13.6" text-anchor="end" fill="#000" >6</text>
<line x1="332.4" y1="597" x2="337.4" y2="597" stroke="#000" stroke-width="1.6" />
<text x="328.2" y="601.1" font-size="13.6" text-anchor="end" fill="#000" >9</text>
<line x1="332.4" y1="526.5" x2="337.4" y2="526.5" stroke="#000" stroke-width="1.6" />
<text x="328.2" y="530.6" font-size="13.6" text-anchor="end" fill="#000" >12</text>
<line x1="332.4" y1="456.1" x2="337.4" y2="456.1" stroke="#000" stroke-width="1.6" />
<text x="328.2" y="460.2" font-size="13.6" text-anchor="end" fill="#000" >15</text>
<text x="328.2" y="389.7" font-size="13.6" text-anchor="end" fill="#000" >18</text>
<text x="332.4" y="823.3" font-size="13.6" text-anchor="middle" fill="#000" >0</text>
<line x1="399.4" y1="808.4" x2="399.4" y2="802.8" stroke="#000" stroke-width="1.6" />
<text x="399.4" y="823.3" font-size="13.6" text-anchor="middle" fill="#000" >30</text>
<line x1="466.4" y1="808.4" x2="466.4" y2="802.8" stroke="#000" stroke-width="1.6" />
<text x="466.4" y="823.3" font-size="13.6" text-anchor="middle" fill="#000" >60</text>
<line x1="533.5" y1="808.4" x2="533.5" y2="802.8" stroke="#000" stroke-width="1.6" />
<text x="533.5" y="823.3" font-size="13.6" text-anchor="middle" fill="#000" >90</text>
<line x1="600.5" y1="808.4" x2="600.5" y2="802.8" stroke="#000" stroke-width="1.6" />
<text x="600.5" y="823.3" font-size="13.6" text-anchor="middle" fill="#000" >120</text>
<line x1="667.5" y1="808.4" x2="667.5" y2="802.8" stroke="#000" stroke-width="1.6" />
<text x="667.5" y="823.3" font-size="13.6" text-anchor="middle" fill="#000" >150</text>
<text x="734.5" y="823.3" font-size="13.6" text-anchor="middle" fill="#000" >180</text>
<text x="512.6" y="841.6" font-size="13.6"><tspan font-style="italic">I</tspan><tspan font-size="10.5" dy="3">open</tspan><tspan dy="-3"> (nA)</tspan></text>
<text transform="translate(301.8,597) rotate(-90)" font-size="13.6" text-anchor="middle"><tspan font-style="italic">I</tspan><tspan font-size="10.5" dy="3">p</tspan><tspan dy="-3"> (nA)</tspan></text>
<path d="M617.6,668.2 L621.6,675 L613.6,675 Z" fill="none" stroke="#c8191c" stroke-width="1.5"/>
<circle cx="636" cy="672" r="4" fill="#c8191c"/>
<text x="727.8" y="676.9" font-size="13.6" text-anchor="end" fill="#000" >137 mM NaCl</text>
<path d="M617.6,688.6 L621.6,695.4 L613.6,695.4 Z" fill="none" stroke="#86ff2c" stroke-width="1.5"/>
<circle cx="636" cy="692.4" r="4" fill="#86ff2c"/>
<text x="727.8" y="697.3" font-size="13.6" text-anchor="end" fill="#000" >123 mM NaCl</text>
<path d="M617.6,709 L621.6,715.8 L613.6,715.8 Z" fill="none" stroke="#2400f0" stroke-width="1.5"/>
<circle cx="636" cy="712.9" r="4" fill="#2400f0"/>
<text x="727.8" y="717.8" font-size="13.6" text-anchor="end" fill="#000" >110 mM NaCl</text>
<path d="M617.6,729.5 L621.6,736.3 L613.6,736.3 Z" fill="none" stroke="#6e6e14" stroke-width="1.5"/>
<circle cx="636" cy="733.3" r="4" fill="#6e6e14"/>
<text x="727.8" y="738.2" font-size="13.6" text-anchor="end" fill="#000" >96 mM NaCl</text>
<path d="M617.6,749.9 L621.6,756.7 L613.6,756.7 Z" fill="none" stroke="#dc7323" stroke-width="1.5"/>
<circle cx="636" cy="753.7" r="4" fill="#dc7323"/>
<text x="727.8" y="758.6" font-size="13.6" text-anchor="end" fill="#000" >82 mM NaCl</text>
<path d="M617.6,770.3 L621.6,777.1 L613.6,777.1 Z" fill="none" stroke="#d400f8" stroke-width="1.5"/>
<circle cx="636" cy="774.1" r="4" fill="#d400f8"/>
<text x="727.8" y="779" font-size="13.6" text-anchor="end" fill="#000" >69 mM NaCl</text>
<path d="M617.6,790.8 L621.6,797.6 L613.6,797.6 Z" fill="none" stroke="#737373" stroke-width="1.5"/>
<circle cx="636" cy="794.6" r="4" fill="#737373"/>
<text x="727.8" y="799.5" font-size="13.6" text-anchor="end" fill="#000" >55 mM NaCl</text>
<text transform="translate(615.4,664.3) rotate(-45)" font-size="13.6">Pt</text>
<text transform="translate(637.5,664.2) rotate(-45)" font-size="13.6">Ag/AgCl</text>
</g>
</svg>
</body></html>
